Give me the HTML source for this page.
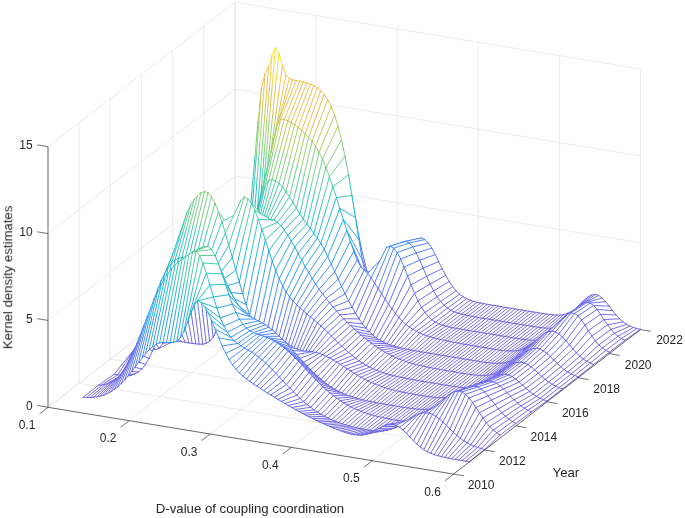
<!DOCTYPE html><html><head><meta charset="utf-8"><style>html,body{margin:0;padding:0;background:#fff;overflow:hidden}svg{display:block}</style></head><body><svg width="685" height="518" viewBox="0 0 685 518">
<rect width="685" height="518" fill="#fff"/>
<path d="M48 407.3L235 262.8M235 262.8L235 2.2M129.1 420.7L316.1 276.2M316.1 276.2L316.1 15.6M210.2 434L397.2 289.5M397.2 289.5L397.2 28.9M291.3 447.4L478.3 302.9M478.3 302.9L478.3 42.3M372.4 460.7L559.4 316.3M559.4 316.3L559.4 55.7M453.5 474.1L640.5 329.6M640.5 329.6L640.5 69M48 407.3L453.5 474.1M48 407.3L48 146.7M79.2 383.2L484.7 450M79.2 383.2L79.2 122.6M110.3 359.1L515.8 425.9M110.3 359.1L110.3 98.5M141.5 335.1L547 401.9M141.5 335.1L141.5 74.5M172.6 311L578.1 377.8M172.6 311L172.6 50.4M203.8 286.9L609.3 353.7M203.8 286.9L203.8 26.3M235 262.8L640.5 329.6M235 262.8L235 2.2M48 407.3L235 262.8M235 262.8L640.5 329.6M48 320.4L235 176M235 176L640.5 242.8M48 233.6L235 89.1M235 89.1L640.5 155.9M48 146.7L235 2.2M235 2.2L640.5 69" stroke="#e3e3e3" stroke-width="0.7" fill="none"/>
<g fill="#fff" stroke-width="0.9" stroke-linecap="round"><path d="M254.4 260.1L257.9 258.1L242.3 269.2L238.8 271.4Z"/><path d="M254.4 260.1L257.9 258.1" stroke="#685ee0"/><path d="M238.8 271.4L254.4 260.1" stroke="#695ee0"/><path d="M257.9 258.1L261.4 255.4L245.8 266L242.3 269.2Z"/><path d="M257.9 258.1L261.4 255.4" stroke="#675de3"/><path d="M242.3 269.2L257.9 258.1" stroke="#675de2"/><path d="M261.4 255.4L264.9 251.6L249.3 261.8L245.8 266Z"/><path d="M261.4 255.4L264.9 251.6" stroke="#655de5"/><path d="M245.8 266L261.4 255.4" stroke="#665de4"/><path d="M264.9 251.6L268.3 246.8L252.8 256.3L249.3 261.8Z"/><path d="M264.9 251.6L268.3 246.8" stroke="#635ce9"/><path d="M249.3 261.8L264.9 251.6" stroke="#645de7"/><path d="M268.3 246.8L271.8 240.6L256.2 249.4L252.8 256.3Z"/><path d="M268.3 246.8L271.8 240.6" stroke="#615ced"/><path d="M252.8 256.3L268.3 246.8" stroke="#625cec"/><path d="M271.8 240.6L275.3 233.2L259.7 241L256.2 249.4Z"/><path d="M271.8 240.6L275.3 233.2" stroke="#5b62f1"/><path d="M256.2 249.4L271.8 240.6" stroke="#5d60f0"/><path d="M275.3 233.2L278.8 224.4L263.2 231.1L259.7 241Z"/><path d="M275.3 233.2L278.8 224.4" stroke="#5469f5"/><path d="M259.7 241L275.3 233.2" stroke="#5667f4"/><path d="M278.8 224.4L282.2 214.4L266.7 219.8L263.2 231.1Z"/><path d="M278.8 224.4L282.2 214.4" stroke="#4b71fa"/><path d="M263.2 231.1L278.8 224.4" stroke="#4e6ff9"/><path d="M282.2 214.4L285.7 203.3L270.1 207.4L266.7 219.8Z"/><path d="M282.2 214.4L285.7 203.3" stroke="#3980f4"/><path d="M266.7 219.8L282.2 214.4" stroke="#3d7df5"/><path d="M285.7 203.3L289.2 191.5L273.6 194.1L270.1 207.4Z"/><path d="M285.7 203.3L289.2 191.5" stroke="#2690ee"/><path d="M270.1 207.4L285.7 203.3" stroke="#298def"/><path d="M289.2 191.5L292.7 179.3L277.1 180.4L273.6 194.1Z"/><path d="M289.2 191.5L292.7 179.3" stroke="#199ee3"/><path d="M273.6 194.1L289.2 191.5" stroke="#1b9ce4"/><path d="M292.7 179.3L296.2 167.2L280.6 166.8L277.1 180.4Z"/><path d="M292.7 179.3L296.2 167.2" stroke="#0eacd7"/><path d="M277.1 180.4L292.7 179.3" stroke="#0eabd8"/><path d="M296.2 167.2L299.6 155.9L284.1 154.1L280.6 166.8Z"/><path d="M296.2 167.2L299.6 155.9M280.6 166.8L296.2 167.2" stroke="#18b7c6"/><path d="M299.6 155.9L303.1 145.9L287.5 142.8L284.1 154.1Z"/><path d="M299.6 155.9L303.1 145.9" stroke="#24c0b6"/><path d="M284.1 154.1L299.6 155.9" stroke="#25c1b4"/><path d="M303.1 145.9L306.6 137.7L291 133.7L287.5 142.8Z"/><path d="M303.1 145.9L306.6 137.7" stroke="#38c5a4"/><path d="M287.5 142.8L303.1 145.9" stroke="#40c69e"/><path d="M306.6 137.7L310.1 131.9L294.5 127.1L291 133.7Z"/><path d="M306.6 137.7L310.1 131.9" stroke="#4bc895"/><path d="M291 133.7L306.6 137.7" stroke="#58ca8b"/><path d="M310.1 131.9L313.5 128.9L298 123.6L294.5 127.1Z"/><path d="M310.1 131.9L313.5 128.9" stroke="#58ca8b"/><path d="M294.5 127.1L310.1 131.9" stroke="#69cc7e"/><path d="M313.5 128.9L317 128.9L301.4 123.5L298 123.6Z"/><path d="M313.5 128.9L317 128.9" stroke="#5dcb87"/><path d="M298 123.6L313.5 128.9" stroke="#72cc78"/><path d="M317 128.9L320.5 133.7L304.9 127.8L301.4 123.5Z"/><path d="M317 128.9L320.5 133.7" stroke="#59ca8a"/><path d="M301.4 123.5L317 128.9" stroke="#74cb77"/><path d="M320.5 133.7L324 143.7L308.4 136.6L304.9 127.8Z"/><path d="M320.5 133.7L324 143.7" stroke="#47c798"/><path d="M304.9 127.8L320.5 133.7" stroke="#6acc7d"/><path d="M324 143.7L327.5 157.6L311.9 149.2L308.4 136.6Z"/><path d="M324 143.7L327.5 157.6" stroke="#2ac2af"/><path d="M308.4 136.6L324 143.7" stroke="#54c98e"/><path d="M327.5 157.6L330.9 174.3L315.4 164.6L311.9 149.2Z"/><path d="M327.5 157.6L330.9 174.3" stroke="#19b7c5"/><path d="M311.9 149.2L327.5 157.6" stroke="#33c4a8"/><path d="M330.9 174.3L334.4 192.2L318.8 181.7L315.4 164.6Z"/><path d="M330.9 174.3L334.4 192.2" stroke="#11a8db"/><path d="M315.4 164.6L330.9 174.3" stroke="#1cb9c1"/><path d="M334.4 192.2L337.9 209.9L322.3 199.4L318.8 181.7Z"/><path d="M334.4 192.2L337.9 209.9" stroke="#2195ea"/><path d="M318.8 181.7L334.4 192.2" stroke="#0fabd8"/><path d="M337.9 209.9L341.4 226.4L325.8 216.7L322.3 199.4Z"/><path d="M337.9 209.9L341.4 226.4" stroke="#3980f4"/><path d="M322.3 199.4L337.9 209.9" stroke="#1e98e8"/><path d="M341.4 226.4L344.8 240.7L329.3 232.7L325.8 216.7Z"/><path d="M341.4 226.4L344.8 240.7" stroke="#4f6ef8"/><path d="M325.8 216.7L341.4 226.4" stroke="#3584f2"/><path d="M344.8 240.7L348.3 252.7L332.7 247L329.3 232.7Z"/><path d="M344.8 240.7L348.3 252.7" stroke="#5963f2"/><path d="M329.3 232.7L344.8 240.7" stroke="#4c70fa"/><path d="M348.3 252.7L351.8 262.2L336.2 259.2L332.7 247Z"/><path d="M348.3 252.7L351.8 262.2" stroke="#615ced"/><path d="M332.7 247L348.3 252.7" stroke="#5766f4"/><path d="M351.8 262.2L355.3 269.5L339.7 269.3L336.2 259.2Z"/><path d="M351.8 262.2L355.3 269.5" stroke="#645de7"/><path d="M336.2 259.2L351.8 262.2" stroke="#5f5eee"/><path d="M355.3 269.5L358.8 274.8L343.2 277.3L339.7 269.3Z"/><path d="M355.3 269.5L358.8 274.8" stroke="#675de3"/><path d="M339.7 269.3L355.3 269.5" stroke="#635ce9"/><path d="M358.8 274.8L362.2 278.6L346.7 283.5L343.2 277.3Z"/><path d="M358.8 274.8L362.2 278.6" stroke="#685ee0"/><path d="M343.2 277.3L358.8 274.8" stroke="#665de5"/><path d="M362.2 278.6L365.7 281.3L350.1 288.2L346.7 283.5Z"/><path d="M362.2 278.6L365.7 281.3" stroke="#695ede"/><path d="M346.7 283.5L362.2 278.6" stroke="#685de2"/><path d="M365.7 281.3L369.2 283.2L353.6 291.6L350.1 288.2Z"/><path d="M365.7 281.3L369.2 283.2" stroke="#6a5edd"/><path d="M350.1 288.2L365.7 281.3" stroke="#695edf"/><path d="M369.2 283.2L372.7 284.5L357.1 294.2L353.6 291.6Z"/><path d="M369.2 283.2L372.7 284.5" stroke="#6b5edc"/><path d="M353.6 291.6L369.2 283.2" stroke="#6a5ede"/><path d="M372.7 284.5L376.1 285.6L360.6 296.1L357.1 294.2Z"/><path d="M372.7 284.5L376.1 285.6" stroke="#6b5edc"/><path d="M357.1 294.2L372.7 284.5" stroke="#6a5edd"/><path d="M376.1 285.6L379.6 286.4L364 297.5L360.6 296.1Z"/><path d="M376.1 285.6L379.6 286.4M360.6 296.1L376.1 285.6" stroke="#6b5edc"/><path d="M379.6 286.4L383.1 287.1L367.5 298.6L364 297.5Z"/><path d="M379.6 286.4L383.1 287.1" stroke="#6b5edb"/><path d="M364 297.5L379.6 286.4" stroke="#6b5edc"/><path d="M383.1 287.1L386.6 287.7L371 299.4L367.5 298.6Z"/><path d="M383.1 287.1L386.6 287.7" stroke="#6b5edb"/><path d="M367.5 298.6L383.1 287.1" stroke="#6b5edc"/><path d="M386.6 287.7L390.1 288.3L374.5 300.2L371 299.4Z"/><path d="M386.6 287.7L390.1 288.3M371 299.4L386.6 287.7" stroke="#6b5edb"/><path d="M390.1 288.3L393.5 288.9L378 300.9L374.5 300.2Z"/><path d="M390.1 288.3L393.5 288.9M374.5 300.2L390.1 288.3" stroke="#6b5edb"/><path d="M393.5 288.9L397 289.5L381.4 301.5L378 300.9Z"/><path d="M393.5 288.9L397 289.5M378 300.9L393.5 288.9" stroke="#6b5edb"/><path d="M397 289.5L400.5 289.7L384.9 301.7L381.4 301.5Z"/><path d="M397 289.5L400.5 289.7M381.4 301.5L397 289.5" stroke="#6b5edb"/><path d="M400.5 289.7L404 287.7L388.4 299.2L384.9 301.7Z"/><path d="M400.5 289.7L404 287.7" stroke="#6a5edc"/><path d="M384.9 301.7L400.5 289.7" stroke="#6b5edc"/><path d="M404 287.7L407.4 278.9L391.9 289L388.4 299.2Z"/><path d="M404 287.7L407.4 278.9" stroke="#685ee1"/><path d="M388.4 299.2L404 287.7" stroke="#6a5ede"/><path d="M407.4 278.9L410.9 262.5L395.3 269.9L391.9 289Z"/><path d="M407.4 278.9L410.9 262.5" stroke="#635cea"/><path d="M391.9 289L407.4 278.9" stroke="#665de5"/><path d="M410.9 262.5L414.4 246.5L398.8 251.4L395.3 269.9Z"/><path d="M410.9 262.5L414.4 246.5" stroke="#5766f3"/><path d="M395.3 269.9L410.9 262.5" stroke="#5c61f0"/><path d="M414.4 246.5L417.9 238.8L402.3 242.3L398.8 251.4Z"/><path d="M414.4 246.5L417.9 238.8" stroke="#4d70fa"/><path d="M398.8 251.4L414.4 246.5" stroke="#4d70f9"/><path d="M417.9 238.8L421.4 237.9L405.8 241.3L402.3 242.3Z"/><path d="M417.9 238.8L421.4 237.9" stroke="#4576f8"/><path d="M402.3 242.3L417.9 238.8" stroke="#3f7bf6"/><path d="M421.4 237.9L424.8 239.5L409.3 243L405.8 241.3Z"/><path d="M421.4 237.9L424.8 239.5" stroke="#4577f7"/><path d="M405.8 241.3L421.4 237.9" stroke="#3d7df5"/><path d="M424.8 239.5L428.3 243L412.7 247L409.3 243Z"/><path d="M424.8 239.5L428.3 243" stroke="#4874f8"/><path d="M409.3 243L424.8 239.5" stroke="#3e7cf5"/><path d="M428.3 243L431.8 248.2L416.2 252.9L412.7 247Z"/><path d="M428.3 243L431.8 248.2" stroke="#4d70f9"/><path d="M412.7 247L428.3 243" stroke="#4477f7"/><path d="M431.8 248.2L435.3 254.6L419.7 260.2L416.2 252.9Z"/><path d="M431.8 248.2L435.3 254.6" stroke="#516bf7"/><path d="M416.2 252.9L431.8 248.2" stroke="#4c71fa"/><path d="M435.3 254.6L438.7 261.6L423.2 268.2L419.7 260.2Z"/><path d="M435.3 254.6L438.7 261.6" stroke="#5666f4"/><path d="M419.7 260.2L435.3 254.6" stroke="#516cf7"/><path d="M438.7 261.6L442.2 268.7L426.6 276.3L423.2 268.2Z"/><path d="M438.7 261.6L442.2 268.7" stroke="#5c61f0"/><path d="M423.2 268.2L438.7 261.6" stroke="#5766f3"/><path d="M442.2 268.7L445.7 275.4L430.1 284L426.6 276.3Z"/><path d="M442.2 268.7L445.7 275.4" stroke="#615ced"/><path d="M426.6 276.3L442.2 268.7" stroke="#5d60f0"/><path d="M445.7 275.4L449.2 281.4L433.6 290.9L430.1 284Z"/><path d="M445.7 275.4L449.2 281.4" stroke="#635ce9"/><path d="M430.1 284L445.7 275.4" stroke="#615cec"/><path d="M449.2 281.4L452.7 286.6L437.1 296.7L433.6 290.9Z"/><path d="M449.2 281.4L452.7 286.6" stroke="#655de6"/><path d="M433.6 290.9L449.2 281.4" stroke="#645de8"/><path d="M452.7 286.6L456.1 290.8L440.6 301.5L437.1 296.7Z"/><path d="M452.7 286.6L456.1 290.8" stroke="#675de3"/><path d="M437.1 296.7L452.7 286.6" stroke="#665de5"/><path d="M456.1 290.8L459.6 294.2L444 305.3L440.6 301.5Z"/><path d="M456.1 290.8L459.6 294.2" stroke="#685ee0"/><path d="M440.6 301.5L456.1 290.8" stroke="#675de2"/><path d="M459.6 294.2L463.1 296.7L447.5 308.2L444 305.3Z"/><path d="M459.6 294.2L463.1 296.7" stroke="#695edf"/><path d="M444 305.3L459.6 294.2" stroke="#695ee0"/><path d="M463.1 296.7L466.6 298.7L451 310.4L447.5 308.2Z"/><path d="M463.1 296.7L466.6 298.7" stroke="#6a5edd"/><path d="M447.5 308.2L463.1 296.7" stroke="#695ede"/><path d="M466.6 298.7L470 300.2L454.5 312L451 310.4Z"/><path d="M466.6 298.7L470 300.2M451 310.4L466.6 298.7" stroke="#6a5edd"/><path d="M470 300.2L473.5 301.3L457.9 313.2L454.5 312Z"/><path d="M470 300.2L473.5 301.3" stroke="#6b5edc"/><path d="M454.5 312L470 300.2" stroke="#6a5edc"/><path d="M473.5 301.3L477 302.3L461.4 314.2L457.9 313.2Z"/><path d="M473.5 301.3L477 302.3M457.9 313.2L473.5 301.3" stroke="#6b5edc"/><path d="M477 302.3L480.5 303L464.9 315L461.4 314.2Z"/><path d="M477 302.3L480.5 303M461.4 314.2L477 302.3" stroke="#6b5edc"/><path d="M480.5 303L484 303.7L468.4 315.7L464.9 315Z"/><path d="M480.5 303L484 303.7M464.9 315L480.5 303" stroke="#6b5edb"/><path d="M484 303.7L487.4 304.4L471.9 316.4L468.4 315.7Z"/><path d="M484 303.7L487.4 304.4M468.4 315.7L484 303.7" stroke="#6b5edb"/><path d="M487.4 304.4L490.9 305L475.3 317L471.9 316.4Z"/><path d="M487.4 304.4L490.9 305M471.9 316.4L487.4 304.4" stroke="#6b5edb"/><path d="M490.9 305L494.4 305.5L478.8 317.6L475.3 317Z"/><path d="M490.9 305L494.4 305.5M475.3 317L490.9 305" stroke="#6b5edb"/><path d="M494.4 305.5L497.9 306.1L482.3 318.2L478.8 317.6Z"/><path d="M494.4 305.5L497.9 306.1M478.8 317.6L494.4 305.5" stroke="#6b5edb"/><path d="M497.9 306.1L501.3 306.7L485.8 318.7L482.3 318.2Z"/><path d="M497.9 306.1L501.3 306.7M482.3 318.2L497.9 306.1" stroke="#6b5edb"/><path d="M501.3 306.7L504.8 307.3L489.2 319.3L485.8 318.7Z"/><path d="M501.3 306.7L504.8 307.3M485.8 318.7L501.3 306.7" stroke="#6b5edb"/><path d="M504.8 307.3L508.3 307.8L492.7 319.9L489.2 319.3Z"/><path d="M504.8 307.3L508.3 307.8M489.2 319.3L504.8 307.3" stroke="#6b5edb"/><path d="M508.3 307.8L511.8 308.4L496.2 320.5L492.7 319.9Z"/><path d="M508.3 307.8L511.8 308.4M492.7 319.9L508.3 307.8" stroke="#6b5edb"/><path d="M511.8 308.4L515.3 309L499.7 321L496.2 320.5Z"/><path d="M511.8 308.4L515.3 309M496.2 320.5L511.8 308.4" stroke="#6b5edb"/><path d="M515.3 309L518.7 309.6L503.2 321.6L499.7 321Z"/><path d="M515.3 309L518.7 309.6M499.7 321L515.3 309" stroke="#6b5edb"/><path d="M518.7 309.6L522.2 310.1L506.6 322.2L503.2 321.6Z"/><path d="M518.7 309.6L522.2 310.1M503.2 321.6L518.7 309.6" stroke="#6b5edb"/><path d="M522.2 310.1L525.7 310.7L510.1 322.8L506.6 322.2Z"/><path d="M522.2 310.1L525.7 310.7M506.6 322.2L522.2 310.1" stroke="#6b5edb"/><path d="M525.7 310.7L529.2 311.3L513.6 323.3L510.1 322.8Z"/><path d="M525.7 310.7L529.2 311.3M510.1 322.8L525.7 310.7" stroke="#6b5edb"/><path d="M529.2 311.3L532.6 311.9L517.1 323.9L513.6 323.3Z"/><path d="M529.2 311.3L532.6 311.9M513.6 323.3L529.2 311.3" stroke="#6b5edb"/><path d="M532.6 311.9L536.1 312.4L520.5 324.5L517.1 323.9Z"/><path d="M532.6 311.9L536.1 312.4M517.1 323.9L532.6 311.9" stroke="#6b5edb"/><path d="M536.1 312.4L539.6 313L524 325L520.5 324.5Z"/><path d="M536.1 312.4L539.6 313M520.5 324.5L536.1 312.4" stroke="#6b5edb"/><path d="M539.6 313L543.1 313.5L527.5 325.6L524 325Z"/><path d="M539.6 313L543.1 313.5M524 325L539.6 313" stroke="#6b5edb"/><path d="M543.1 313.5L546.6 314.1L531 326.2L527.5 325.6Z"/><path d="M543.1 313.5L546.6 314.1M527.5 325.6L543.1 313.5" stroke="#6b5edb"/><path d="M546.6 314.1L550 314.5L534.5 326.7L531 326.2Z"/><path d="M546.6 314.1L550 314.5M531 326.2L546.6 314.1" stroke="#6b5edb"/><path d="M550 314.5L553.5 314.9L537.9 327.3L534.5 326.7Z"/><path d="M550 314.5L553.5 314.9" stroke="#6b5edc"/><path d="M534.5 326.7L550 314.5" stroke="#6b5edb"/><path d="M553.5 314.9L557 315.1L541.4 327.7L537.9 327.3Z"/><path d="M553.5 314.9L557 315.1" stroke="#6b5edc"/><path d="M537.9 327.3L553.5 314.9" stroke="#6b5edb"/><path d="M557 315.1L560.5 315L544.9 328.1L541.4 327.7Z"/><path d="M557 315.1L560.5 315M541.4 327.7L557 315.1" stroke="#6b5edc"/><path d="M560.5 315L563.9 314.5L548.4 328.3L544.9 328.1Z"/><path d="M560.5 315L563.9 314.5" stroke="#6a5edd"/><path d="M544.9 328.1L560.5 315" stroke="#6b5edc"/><path d="M563.9 314.5L567.4 313.4L551.8 328.2L548.4 328.3Z"/><path d="M563.9 314.5L567.4 313.4" stroke="#6a5ede"/><path d="M548.4 328.3L563.9 314.5" stroke="#6a5edc"/><path d="M567.4 313.4L570.9 311.7L555.3 327.7L551.8 328.2Z"/><path d="M567.4 313.4L570.9 311.7" stroke="#695edf"/><path d="M551.8 328.2L567.4 313.4" stroke="#6a5edd"/><path d="M570.9 311.7L574.4 309.3L558.8 326.5L555.3 327.7Z"/><path d="M570.9 311.7L574.4 309.3" stroke="#685ee1"/><path d="M555.3 327.7L570.9 311.7" stroke="#695ede"/><path d="M574.4 309.3L577.9 306.3L562.3 324.7L558.8 326.5Z"/><path d="M574.4 309.3L577.9 306.3" stroke="#675de3"/><path d="M558.8 326.5L574.4 309.3" stroke="#685ee0"/><path d="M577.9 306.3L581.3 302.9L565.8 322L562.3 324.7Z"/><path d="M577.9 306.3L581.3 302.9" stroke="#655de6"/><path d="M562.3 324.7L577.9 306.3" stroke="#675de2"/><path d="M581.3 302.9L584.8 299.6L569.2 318.5L565.8 322Z"/><path d="M581.3 302.9L584.8 299.6" stroke="#635ce9"/><path d="M565.8 322L581.3 302.9" stroke="#665de5"/><path d="M584.8 299.6L588.3 296.7L572.7 314.5L569.2 318.5Z"/><path d="M584.8 299.6L588.3 296.7" stroke="#625ceb"/><path d="M569.2 318.5L584.8 299.6" stroke="#645de8"/><path d="M588.3 296.7L591.8 294.9L576.2 310.4L572.7 314.5Z"/><path d="M588.3 296.7L591.8 294.9" stroke="#615ced"/><path d="M572.7 314.5L588.3 296.7" stroke="#625ceb"/><path d="M591.8 294.9L595.2 294.4L579.7 306.6L576.2 310.4Z"/><path d="M591.8 294.9L595.2 294.4" stroke="#5f5eee"/><path d="M576.2 310.4L591.8 294.9" stroke="#615ced"/><path d="M595.2 294.4L598.7 295.5L583.1 303.8L579.7 306.6Z"/><path d="M595.2 294.4L598.7 295.5M579.7 306.6L595.2 294.4" stroke="#5f5eee"/><path d="M598.7 295.5L602.2 298L586.6 302.6L583.1 303.8Z"/><path d="M598.7 295.5L602.2 298" stroke="#605dee"/><path d="M583.1 303.8L598.7 295.5" stroke="#5e5fef"/><path d="M602.2 298L605.7 301.7L590.1 303.1L586.6 302.6Z"/><path d="M602.2 298L605.7 301.7" stroke="#615cec"/><path d="M586.6 302.6L602.2 298" stroke="#5e5fef"/><path d="M605.7 301.7L609.2 306.1L593.6 305.5L590.1 303.1Z"/><path d="M605.7 301.7L609.2 306.1" stroke="#635cea"/><path d="M590.1 303.1L605.7 301.7" stroke="#5f5eee"/><path d="M609.2 306.1L612.6 310.7L597.1 309.4L593.6 305.5Z"/><path d="M609.2 306.1L612.6 310.7" stroke="#645de7"/><path d="M593.6 305.5L609.2 306.1" stroke="#615ced"/><path d="M612.6 310.7L616.1 315L600.5 314.3L597.1 309.4Z"/><path d="M612.6 310.7L616.1 315" stroke="#665de4"/><path d="M597.1 309.4L612.6 310.7" stroke="#635cea"/><path d="M616.1 315L619.6 318.8L604 319.6L600.5 314.3Z"/><path d="M616.1 315L619.6 318.8" stroke="#675de2"/><path d="M600.5 314.3L616.1 315" stroke="#645de7"/><path d="M619.6 318.8L623.1 321.9L607.5 324.8L604 319.6Z"/><path d="M619.6 318.8L623.1 321.9" stroke="#695ee0"/><path d="M604 319.6L619.6 318.8" stroke="#665de5"/><path d="M623.1 321.9L626.5 324.3L611 329.4L607.5 324.8Z"/><path d="M623.1 321.9L626.5 324.3" stroke="#695ede"/><path d="M607.5 324.8L623.1 321.9" stroke="#675de2"/><path d="M626.5 324.3L630 326.1L614.4 333.2L611 329.4Z"/><path d="M626.5 324.3L630 326.1" stroke="#6a5edd"/><path d="M611 329.4L626.5 324.3" stroke="#685ee0"/><path d="M630 326.1L633.5 327.5L617.9 336.3L614.4 333.2Z"/><path d="M630 326.1L633.5 327.5" stroke="#6b5edc"/><path d="M614.4 333.2L630 326.1" stroke="#695ede"/><path d="M633.5 327.5L637 328.5L621.4 338.5L617.9 336.3Z"/><path d="M633.5 327.5L637 328.5" stroke="#6b5edc"/><path d="M617.9 336.3L633.5 327.5" stroke="#6a5edd"/><path d="M637 328.5L640.5 329.4L624.9 340.2L621.4 338.5Z"/><path d="M637 328.5L640.5 329.4M624.9 340.2L640.5 329.4" stroke="#6b5edc"/><path d="M621.4 338.5L637 328.5" stroke="#6a5edc"/><path d="M238.8 271.4L242.3 269.2L226.7 290.7L223.3 290.1Z"/><path d="M238.8 271.4L242.3 269.2" stroke="#685ee1"/><path d="M223.3 290.1L238.8 271.4" stroke="#6a5ede"/><path d="M242.3 269.2L245.8 266L230.2 291.3L226.7 290.7Z"/><path d="M242.3 269.2L245.8 266" stroke="#665de3"/><path d="M226.7 290.7L242.3 269.2" stroke="#695edf"/><path d="M245.8 266L249.3 261.8L233.7 291.8L230.2 291.3Z"/><path d="M245.8 266L249.3 261.8" stroke="#655de6"/><path d="M230.2 291.3L245.8 266" stroke="#685ee0"/><path d="M249.3 261.8L252.8 256.3L237.2 292.3L233.7 291.8Z"/><path d="M249.3 261.8L252.8 256.3" stroke="#635cea"/><path d="M233.7 291.8L249.3 261.8" stroke="#675de2"/><path d="M252.8 256.3L256.2 249.4L240.7 292L237.2 292.3Z"/><path d="M252.8 256.3L256.2 249.4" stroke="#5f5eef"/><path d="M237.2 292.3L252.8 256.3" stroke="#665de4"/><path d="M256.2 249.4L259.7 241L244.1 287.5L240.7 292Z"/><path d="M256.2 249.4L259.7 241" stroke="#5865f3"/><path d="M240.7 292L256.2 249.4" stroke="#645de7"/><path d="M259.7 241L263.2 231.1L247.6 270.2L244.1 287.5Z"/><path d="M259.7 241L263.2 231.1" stroke="#506df8"/><path d="M244.1 287.5L259.7 241" stroke="#625cec"/><path d="M263.2 231.1L266.7 219.8L251.1 231.6L247.6 270.2Z"/><path d="M263.2 231.1L266.7 219.8" stroke="#4279f6"/><path d="M247.6 270.2L263.2 231.1" stroke="#5766f3"/><path d="M266.7 219.8L270.1 207.4L254.6 175.9L251.1 231.6Z"/><path d="M266.7 219.8L270.1 207.4" stroke="#2d89f0"/><path d="M251.1 231.6L266.7 219.8" stroke="#3881f3"/><path d="M270.1 207.4L273.6 194.1L258 122.2L254.6 175.9Z"/><path d="M270.1 207.4L273.6 194.1" stroke="#1d9ae6"/><path d="M254.6 175.9L262.4 191.6" stroke="#15b4cb"/><path d="M262.4 191.6L270.1 207.4" stroke="#199ee3"/><path d="M273.6 194.1L277.1 180.4L261.5 88L258 122.2Z"/><path d="M273.6 194.1L277.1 180.4" stroke="#10a9d9"/><path d="M258 122.2L263.2 146.2" stroke="#7dcb72"/><path d="M263.2 146.2L268.4 170.1" stroke="#36c4a6"/><path d="M268.4 170.1L273.6 194.1" stroke="#10b0d1"/><path d="M277.1 180.4L280.6 166.8L265 74.1L261.5 88Z"/><path d="M277.1 180.4L280.6 166.8" stroke="#18b6c7"/><path d="M261.5 88L265.4 111.1" stroke="#d4bf45"/><path d="M265.4 111.1L269.3 134.2" stroke="#95ca63"/><path d="M269.3 134.2L273.2 157.3" stroke="#53c98f"/><path d="M273.2 157.3L277.1 180.4" stroke="#1ebbbf"/><path d="M280.6 166.8L284.1 154.1L268.5 66.9L265 74.1Z"/><path d="M280.6 166.8L284.1 154.1" stroke="#25c1b4"/><path d="M265 74.1L268.9 97.3" stroke="#edbc3f"/><path d="M268.9 97.3L272.8 120.5" stroke="#b8c551"/><path d="M272.8 120.5L276.7 143.6" stroke="#77cb75"/><path d="M276.7 143.6L280.6 166.8" stroke="#35c4a7"/><path d="M284.1 154.1L287.5 142.8L272 55.5L268.5 66.9Z"/><path d="M284.1 154.1L287.5 142.8" stroke="#44c79a"/><path d="M268.5 66.9L273.7 96" stroke="#f3bb3e"/><path d="M273.7 96L278.9 125" stroke="#b2c754"/><path d="M278.9 125L284.1 154.1" stroke="#5fcb85"/><path d="M287.5 142.8L291 133.7L275.4 47.7L272 55.5Z"/><path d="M287.5 142.8L291 133.7" stroke="#60cb85"/><path d="M272 55.5L277.1 84.6" stroke="#fcc535"/><path d="M277.1 84.6L282.3 113.7" stroke="#cec148"/><path d="M282.3 113.7L287.5 142.8" stroke="#7dcb71"/><path d="M291 133.7L294.5 127.1L278.9 53L275.4 47.7Z"/><path d="M291 133.7L294.5 127.1" stroke="#75cb76"/><path d="M275.4 47.7L280.6 76.3" stroke="#fbd727"/><path d="M280.6 76.3L285.8 105" stroke="#e2bd40"/><path d="M285.8 105L291 133.7" stroke="#96ca63"/><path d="M294.5 127.1L298 123.6L282.4 65.8L278.9 53Z"/><path d="M294.5 127.1L298 123.6" stroke="#83cb6e"/><path d="M278.9 53L284.1 77.7" stroke="#fcd22b"/><path d="M284.1 77.7L289.3 102.4" stroke="#e4bc3f"/><path d="M289.3 102.4L294.5 127.1" stroke="#a3ca5b"/><path d="M298 123.6L301.4 123.5L285.9 75L282.4 65.8Z"/><path d="M298 123.6L301.4 123.5" stroke="#89cb6a"/><path d="M282.4 65.8L287.6 85.1" stroke="#fcbd3b"/><path d="M287.6 85.1L292.8 104.3" stroke="#dcbe41"/><path d="M292.8 104.3L298 123.6" stroke="#a6c959"/><path d="M301.4 123.5L304.9 127.8L289.3 78.6L285.9 75Z"/><path d="M301.4 123.5L304.9 127.8" stroke="#85cb6d"/><path d="M285.9 75L293.7 99.3" stroke="#eebb3f"/><path d="M293.7 99.3L301.4 123.5" stroke="#b0c755"/><path d="M304.9 127.8L308.4 136.6L292.8 79.9L289.3 78.6Z"/><path d="M304.9 127.8L308.4 136.6" stroke="#76cb76"/><path d="M289.3 78.6L297.1 103.2" stroke="#e9bc3f"/><path d="M297.1 103.2L304.9 127.8" stroke="#a7c959"/><path d="M308.4 136.6L311.9 149.2L296.3 80.6L292.8 79.9Z"/><path d="M308.4 136.6L311.9 149.2" stroke="#5dca87"/><path d="M292.8 79.9L300.6 108.2" stroke="#e6bc3f"/><path d="M300.6 108.2L308.4 136.6" stroke="#98ca62"/><path d="M311.9 149.2L315.4 164.6L299.8 81.2L296.3 80.6Z"/><path d="M311.9 149.2L315.4 164.6" stroke="#3bc5a2"/><path d="M296.3 80.6L301.5 103.4" stroke="#ebbc3f"/><path d="M301.5 103.4L306.7 126.3" stroke="#b3c754"/><path d="M306.7 126.3L311.9 149.2" stroke="#70cc7a"/><path d="M315.4 164.6L318.8 181.7L303.3 82L299.8 81.2Z"/><path d="M315.4 164.6L318.8 181.7" stroke="#1ebcbd"/><path d="M299.8 81.2L305 109" stroke="#e7bc3f"/><path d="M305 109L310.2 136.8" stroke="#a1ca5c"/><path d="M310.2 136.8L315.4 164.6" stroke="#50c891"/><path d="M318.8 181.7L322.3 199.4L306.7 83L303.3 82Z"/><path d="M318.8 181.7L322.3 199.4" stroke="#0daed5"/><path d="M303.3 82L307.1 106.9" stroke="#e9bc3f"/><path d="M307.1 106.9L311 131.9" stroke="#aec856"/><path d="M311 131.9L314.9 156.8" stroke="#68cc7e"/><path d="M314.9 156.8L318.8 181.7" stroke="#24c0b5"/><path d="M322.3 199.4L325.8 216.7L310.2 84.2L306.7 83Z"/><path d="M322.3 199.4L325.8 216.7" stroke="#1c9be5"/><path d="M306.7 83L310.6 112.1" stroke="#e6bc3f"/><path d="M310.6 112.1L314.5 141.2" stroke="#9eca5e"/><path d="M314.5 141.2L318.4 170.3" stroke="#4dc894"/><path d="M318.4 170.3L322.3 199.4" stroke="#15b4cb"/><path d="M325.8 216.7L329.3 232.7L313.7 85.7L310.2 84.2Z"/><path d="M325.8 216.7L329.3 232.7" stroke="#3088f1"/><path d="M310.2 84.2L313.3 110.7" stroke="#e7bc3f"/><path d="M313.3 110.7L316.4 137.2" stroke="#a8c958"/><path d="M316.4 137.2L319.6 163.7" stroke="#5fcb85"/><path d="M319.6 163.7L322.7 190.2" stroke="#20bdbc"/><path d="M322.7 190.2L325.8 216.7" stroke="#16a2e0"/><path d="M329.3 232.7L332.7 247L317.2 87.8L313.7 85.7Z"/><path d="M329.3 232.7L332.7 247" stroke="#4774f8"/><path d="M313.7 85.7L316.8 115.1" stroke="#e4bc3f"/><path d="M316.8 115.1L319.9 144.5" stroke="#9bca60"/><path d="M319.9 144.5L323 173.9" stroke="#4ac896"/><path d="M323 173.9L326.2 203.3" stroke="#14b4cb"/><path d="M326.2 203.3L329.3 232.7" stroke="#2392ec"/><path d="M332.7 247L336.2 259.2L320.6 90.7L317.2 87.8Z"/><path d="M332.7 247L336.2 259.2" stroke="#5468f5"/><path d="M317.2 87.8L320.3 119.7" stroke="#e0bd40"/><path d="M320.3 119.7L323.4 151.5" stroke="#8eca67"/><path d="M323.4 151.5L326.5 183.3" stroke="#37c4a5"/><path d="M326.5 183.3L329.6 215.2" stroke="#0fabd9"/><path d="M329.6 215.2L332.7 247" stroke="#3782f3"/><path d="M336.2 259.2L339.7 269.3L324.1 94.5L320.6 90.7Z"/><path d="M336.2 259.2L339.7 269.3" stroke="#5d60f0"/><path d="M320.6 90.7L323.2 118.8" stroke="#dfbd40"/><path d="M323.2 118.8L325.8 146.9" stroke="#98ca61"/><path d="M325.8 146.9L328.4 174.9" stroke="#4cc895"/><path d="M328.4 174.9L331 203" stroke="#17b5c8"/><path d="M331 203L333.6 231.1" stroke="#1f97e9"/><path d="M333.6 231.1L336.2 259.2" stroke="#4d70fa"/><path d="M339.7 269.3L343.2 277.3L327.6 99.6L324.1 94.5Z"/><path d="M339.7 269.3L343.2 277.3" stroke="#625ceb"/><path d="M324.1 94.5L326.7 123.6" stroke="#d7bf44"/><path d="M326.7 123.6L329.3 152.8" stroke="#8cca69"/><path d="M329.3 152.8L331.9 181.9" stroke="#3dc5a0"/><path d="M331.9 181.9L334.5 211" stroke="#10b0d2"/><path d="M334.5 211L337.1 240.1" stroke="#298def"/><path d="M337.1 240.1L339.7 269.3" stroke="#5469f5"/><path d="M343.2 277.3L346.7 283.5L331.1 106.4L327.6 99.6Z"/><path d="M343.2 277.3L346.7 283.5" stroke="#655de6"/><path d="M327.6 99.6L330.2 129.2" stroke="#ccc149"/><path d="M330.2 129.2L332.8 158.8" stroke="#7ecb71"/><path d="M332.8 158.8L335.4 188.4" stroke="#2ec3ac"/><path d="M335.4 188.4L338 218.1" stroke="#10aad9"/><path d="M338 218.1L340.6 247.7" stroke="#3484f2"/><path d="M340.6 247.7L343.2 277.3" stroke="#5a63f2"/><path d="M346.7 283.5L350.1 288.2L334.6 115.1L331.1 106.4Z"/><path d="M346.7 283.5L350.1 288.2" stroke="#675de3"/><path d="M331.1 106.4L333.7 135.9" stroke="#bdc44f"/><path d="M333.7 135.9L336.3 165.4" stroke="#6fcc7a"/><path d="M336.3 165.4L338.9 194.9" stroke="#23c0b7"/><path d="M338.9 194.9L341.5 224.4" stroke="#15a3df"/><path d="M341.5 224.4L344.1 254" stroke="#3d7df5"/><path d="M344.1 254L346.7 283.5" stroke="#5e5eef"/><path d="M350.1 288.2L353.6 291.6L338 126.2L334.6 115.1Z"/><path d="M350.1 288.2L353.6 291.6" stroke="#685ee0"/><path d="M334.6 115.1L337.2 143.9" stroke="#abc857"/><path d="M337.2 143.9L339.7 172.8" stroke="#5dcb87"/><path d="M339.7 172.8L342.3 201.6" stroke="#1dbac0"/><path d="M342.3 201.6L344.9 230.5" stroke="#1b9de4"/><path d="M344.9 230.5L347.5 259.3" stroke="#4676f8"/><path d="M347.5 259.3L350.1 288.2" stroke="#615cec"/><path d="M353.6 291.6L357.1 294.2L341.5 139.8L338 126.2Z"/><path d="M353.6 291.6L357.1 294.2" stroke="#695ede"/><path d="M338 126.2L340.6 153.7" stroke="#92ca65"/><path d="M340.6 153.7L343.2 181.3" stroke="#47c798"/><path d="M343.2 181.3L345.8 208.9" stroke="#15b4ca"/><path d="M345.8 208.9L348.4 236.5" stroke="#2096ea"/><path d="M348.4 236.5L351 264.1" stroke="#4d70fa"/><path d="M351 264.1L353.6 291.6" stroke="#635cea"/><path d="M357.1 294.2L360.6 296.1L345 156.1L341.5 139.8Z"/><path d="M357.1 294.2L360.6 296.1" stroke="#6a5edd"/><path d="M341.5 139.8L344.6 170.7" stroke="#6ccc7c"/><path d="M344.6 170.7L347.7 201.5" stroke="#21bdbb"/><path d="M347.7 201.5L350.9 232.4" stroke="#199ee3"/><path d="M350.9 232.4L354 263.3" stroke="#4774f8"/><path d="M354 263.3L357.1 294.2" stroke="#635cea"/><path d="M360.6 296.1L364 297.5L348.5 174.8L345 156.1Z"/><path d="M360.6 296.1L364 297.5" stroke="#6a5edc"/><path d="M345 156.1L348.1 184.1" stroke="#48c797"/><path d="M348.1 184.1L351.2 212.1" stroke="#15b4cb"/><path d="M351.2 212.1L354.3 240.1" stroke="#2194eb"/><path d="M354.3 240.1L357.5 268.1" stroke="#4f6ef9"/><path d="M357.5 268.1L360.6 296.1" stroke="#645de8"/><path d="M364 297.5L367.5 298.6L351.9 195.6L348.5 174.8Z"/><path d="M364 297.5L367.5 298.6" stroke="#6b5edc"/><path d="M348.5 174.8L352.4 205.5" stroke="#20bdbc"/><path d="M352.4 205.5L356.3 236.2" stroke="#1a9de4"/><path d="M356.3 236.2L360.1 266.8" stroke="#4a72f9"/><path d="M360.1 266.8L364 297.5" stroke="#645de8"/><path d="M367.5 298.6L371 299.4L355.4 217.5L351.9 195.6Z"/><path d="M367.5 298.6L371 299.4" stroke="#6b5edc"/><path d="M351.9 195.6L355.8 221.3" stroke="#0eaed5"/><path d="M355.8 221.3L359.7 247.1" stroke="#288eef"/><path d="M359.7 247.1L363.6 272.8" stroke="#526bf7"/><path d="M363.6 272.8L367.5 298.6" stroke="#655de6"/><path d="M371 299.4L374.5 300.2L358.9 239.4L355.4 217.5Z"/><path d="M371 299.4L374.5 300.2" stroke="#6b5edc"/><path d="M355.4 217.5L360.6 244.8" stroke="#2195ea"/><path d="M360.6 244.8L365.8 272.1" stroke="#4f6ef8"/><path d="M365.8 272.1L371 299.4" stroke="#655de7"/><path d="M374.5 300.2L378 300.9L362.4 259.9L358.9 239.4Z"/><path d="M374.5 300.2L378 300.9" stroke="#6b5edb"/><path d="M358.9 239.4L364.1 259.7" stroke="#3b7ef4"/><path d="M364.1 259.7L369.3 279.9" stroke="#5865f3"/><path d="M369.3 279.9L374.5 300.2" stroke="#665de4"/><path d="M378 300.9L381.4 301.5L365.9 277.7L362.4 259.9Z"/><path d="M378 300.9L381.4 301.5" stroke="#6b5edb"/><path d="M362.4 259.9L370.2 280.4" stroke="#5568f5"/><path d="M370.2 280.4L378 300.9" stroke="#665de5"/><path d="M381.4 301.5L384.9 301.7L369.3 291.6L365.9 277.7Z"/><path d="M381.4 301.5L384.9 301.7" stroke="#6b5edb"/><path d="M365.9 277.7L373.6 289.6" stroke="#5f5dee"/><path d="M373.6 289.6L381.4 301.5" stroke="#675de2"/><path d="M384.9 301.7L388.4 299.2L372.8 298.6L369.3 291.6Z"/><path d="M384.9 301.7L388.4 299.2" stroke="#6a5edd"/><path d="M369.3 291.6L384.9 301.7" stroke="#665de3"/><path d="M388.4 299.2L391.9 289L376.3 293.4L372.8 298.6Z"/><path d="M388.4 299.2L391.9 289M372.8 298.6L388.4 299.2" stroke="#675de2"/><path d="M391.9 289L395.3 269.9L379.8 275.7L376.3 293.4Z"/><path d="M391.9 289L395.3 269.9" stroke="#615cec"/><path d="M376.3 293.4L391.9 289" stroke="#645de8"/><path d="M395.3 269.9L398.8 251.4L383.2 256.8L379.8 275.7Z"/><path d="M395.3 269.9L398.8 251.4" stroke="#526bf6"/><path d="M379.8 275.7L395.3 269.9" stroke="#5765f3"/><path d="M398.8 251.4L402.3 242.3L386.7 247.3L383.2 256.8Z"/><path d="M398.8 251.4L402.3 242.3" stroke="#407af6"/><path d="M383.2 256.8L398.8 251.4" stroke="#4378f7"/><path d="M402.3 242.3L405.8 241.3L390.2 246.3L386.7 247.3Z"/><path d="M402.3 242.3L405.8 241.3" stroke="#3782f3"/><path d="M386.7 247.3L402.3 242.3" stroke="#3385f2"/><path d="M405.8 241.3L409.3 243L393.7 248.2L390.2 246.3Z"/><path d="M405.8 241.3L409.3 243" stroke="#3782f3"/><path d="M390.2 246.3L405.8 241.3" stroke="#3087f1"/><path d="M409.3 243L412.7 247L397.2 252.5L393.7 248.2Z"/><path d="M409.3 243L412.7 247" stroke="#3a7ff4"/><path d="M393.7 248.2L409.3 243" stroke="#3286f2"/><path d="M412.7 247L416.2 252.9L400.6 259L397.2 252.5Z"/><path d="M412.7 247L416.2 252.9" stroke="#4179f6"/><path d="M397.2 252.5L412.7 247" stroke="#3881f3"/><path d="M416.2 252.9L419.7 260.2L404.1 267L400.6 259Z"/><path d="M416.2 252.9L419.7 260.2" stroke="#4b71f9"/><path d="M400.6 259L416.2 252.9" stroke="#417af6"/><path d="M419.7 260.2L423.2 268.2L407.6 275.9L404.1 267Z"/><path d="M419.7 260.2L423.2 268.2" stroke="#526bf7"/><path d="M404.1 267L419.7 260.2" stroke="#4c70fa"/><path d="M423.2 268.2L426.6 276.3L411.1 284.8L407.6 275.9Z"/><path d="M423.2 268.2L426.6 276.3" stroke="#5865f3"/><path d="M407.6 275.9L423.2 268.2" stroke="#536af6"/><path d="M426.6 276.3L430.1 284L414.5 293.3L411.1 284.8Z"/><path d="M426.6 276.3L430.1 284" stroke="#5e5fef"/><path d="M411.1 284.8L426.6 276.3" stroke="#5963f2"/><path d="M430.1 284L433.6 290.9L418 300.8L414.5 293.3Z"/><path d="M430.1 284L433.6 290.9" stroke="#625ceb"/><path d="M414.5 293.3L430.1 284" stroke="#5f5dee"/><path d="M433.6 290.9L437.1 296.7L421.5 307.3L418 300.8Z"/><path d="M433.6 290.9L437.1 296.7" stroke="#645de7"/><path d="M418 300.8L433.6 290.9" stroke="#635cea"/><path d="M437.1 296.7L440.6 301.5L425 312.5L421.5 307.3Z"/><path d="M437.1 296.7L440.6 301.5" stroke="#665de4"/><path d="M421.5 307.3L437.1 296.7" stroke="#655de6"/><path d="M440.6 301.5L444 305.3L428.5 316.6L425 312.5Z"/><path d="M440.6 301.5L444 305.3" stroke="#685ee1"/><path d="M425 312.5L440.6 301.5" stroke="#675de3"/><path d="M444 305.3L447.5 308.2L431.9 319.8L428.5 316.6Z"/><path d="M444 305.3L447.5 308.2" stroke="#695edf"/><path d="M428.5 316.6L444 305.3" stroke="#685ee0"/><path d="M447.5 308.2L451 310.4L435.4 322.1L431.9 319.8Z"/><path d="M447.5 308.2L451 310.4" stroke="#6a5ede"/><path d="M431.9 319.8L447.5 308.2" stroke="#695ede"/><path d="M451 310.4L454.5 312L438.9 323.9L435.4 322.1Z"/><path d="M451 310.4L454.5 312M435.4 322.1L451 310.4" stroke="#6a5edd"/><path d="M454.5 312L457.9 313.2L442.4 325.2L438.9 323.9Z"/><path d="M454.5 312L457.9 313.2" stroke="#6b5edc"/><path d="M438.9 323.9L454.5 312" stroke="#6a5edc"/><path d="M457.9 313.2L461.4 314.2L445.8 326.2L442.4 325.2Z"/><path d="M457.9 313.2L461.4 314.2M442.4 325.2L457.9 313.2" stroke="#6b5edc"/><path d="M461.4 314.2L464.9 315L449.3 327L445.8 326.2Z"/><path d="M461.4 314.2L464.9 315M445.8 326.2L461.4 314.2" stroke="#6b5edc"/><path d="M464.9 315L468.4 315.7L452.8 327.8L449.3 327Z"/><path d="M464.9 315L468.4 315.7" stroke="#6b5edb"/><path d="M449.3 327L464.9 315" stroke="#6b5edc"/><path d="M468.4 315.7L471.9 316.4L456.3 328.4L452.8 327.8Z"/><path d="M468.4 315.7L471.9 316.4M452.8 327.8L468.4 315.7" stroke="#6b5edb"/><path d="M471.9 316.4L475.3 317L459.8 329L456.3 328.4Z"/><path d="M471.9 316.4L475.3 317M456.3 328.4L471.9 316.4" stroke="#6b5edb"/><path d="M475.3 317L478.8 317.6L463.2 329.6L459.8 329Z"/><path d="M475.3 317L478.8 317.6M459.8 329L475.3 317" stroke="#6b5edb"/><path d="M478.8 317.6L482.3 318.2L466.7 330.2L463.2 329.6Z"/><path d="M478.8 317.6L482.3 318.2M463.2 329.6L478.8 317.6" stroke="#6b5edb"/><path d="M482.3 318.2L485.8 318.7L470.2 330.8L466.7 330.2Z"/><path d="M482.3 318.2L485.8 318.7M466.7 330.2L482.3 318.2" stroke="#6b5edb"/><path d="M485.8 318.7L489.2 319.3L473.7 331.4L470.2 330.8Z"/><path d="M485.8 318.7L489.2 319.3M470.2 330.8L485.8 318.7" stroke="#6b5edb"/><path d="M489.2 319.3L492.7 319.9L477.1 331.9L473.7 331.4Z"/><path d="M489.2 319.3L492.7 319.9M473.7 331.4L489.2 319.3" stroke="#6b5edb"/><path d="M492.7 319.9L496.2 320.5L480.6 332.5L477.1 331.9Z"/><path d="M492.7 319.9L496.2 320.5M477.1 331.9L492.7 319.9" stroke="#6b5edb"/><path d="M496.2 320.5L499.7 321L484.1 333.1L480.6 332.5Z"/><path d="M496.2 320.5L499.7 321M480.6 332.5L496.2 320.5" stroke="#6b5edb"/><path d="M499.7 321L503.2 321.6L487.6 333.6L484.1 333.1Z"/><path d="M499.7 321L503.2 321.6M484.1 333.1L499.7 321" stroke="#6b5edb"/><path d="M503.2 321.6L506.6 322.2L491.1 334.2L487.6 333.6Z"/><path d="M503.2 321.6L506.6 322.2M487.6 333.6L503.2 321.6" stroke="#6b5edb"/><path d="M506.6 322.2L510.1 322.8L494.5 334.8L491.1 334.2Z"/><path d="M506.6 322.2L510.1 322.8M491.1 334.2L506.6 322.2" stroke="#6b5edb"/><path d="M510.1 322.8L513.6 323.3L498 335.4L494.5 334.8Z"/><path d="M510.1 322.8L513.6 323.3M494.5 334.8L510.1 322.8" stroke="#6b5edb"/><path d="M513.6 323.3L517.1 323.9L501.5 335.9L498 335.4Z"/><path d="M513.6 323.3L517.1 323.9M498 335.4L513.6 323.3" stroke="#6b5edb"/><path d="M517.1 323.9L520.5 324.5L505 336.5L501.5 335.9Z"/><path d="M517.1 323.9L520.5 324.5M501.5 335.9L517.1 323.9" stroke="#6b5edb"/><path d="M520.5 324.5L524 325L508.4 337.1L505 336.5Z"/><path d="M520.5 324.5L524 325M505 336.5L520.5 324.5" stroke="#6b5edb"/><path d="M524 325L527.5 325.6L511.9 337.7L508.4 337.1Z"/><path d="M524 325L527.5 325.6M508.4 337.1L524 325" stroke="#6b5edb"/><path d="M527.5 325.6L531 326.2L515.4 338.2L511.9 337.7Z"/><path d="M527.5 325.6L531 326.2M511.9 337.7L527.5 325.6" stroke="#6b5edb"/><path d="M531 326.2L534.5 326.7L518.9 338.8L515.4 338.2Z"/><path d="M531 326.2L534.5 326.7M515.4 338.2L531 326.2" stroke="#6b5edb"/><path d="M534.5 326.7L537.9 327.3L522.4 339.3L518.9 338.8Z"/><path d="M534.5 326.7L537.9 327.3M518.9 338.8L534.5 326.7" stroke="#6b5edb"/><path d="M537.9 327.3L541.4 327.7L525.8 339.8L522.4 339.3Z"/><path d="M537.9 327.3L541.4 327.7M522.4 339.3L537.9 327.3" stroke="#6b5edb"/><path d="M541.4 327.7L544.9 328.1L529.3 340.1L525.8 339.8Z"/><path d="M541.4 327.7L544.9 328.1" stroke="#6b5edc"/><path d="M525.8 339.8L541.4 327.7" stroke="#6b5edb"/><path d="M544.9 328.1L548.4 328.3L532.8 340.3L529.3 340.1Z"/><path d="M544.9 328.1L548.4 328.3M529.3 340.1L544.9 328.1" stroke="#6b5edc"/><path d="M548.4 328.3L551.8 328.2L536.3 340.2L532.8 340.3Z"/><path d="M548.4 328.3L551.8 328.2M532.8 340.3L548.4 328.3" stroke="#6b5edc"/><path d="M551.8 328.2L555.3 327.7L539.7 339.6L536.3 340.2Z"/><path d="M551.8 328.2L555.3 327.7" stroke="#6a5edd"/><path d="M536.3 340.2L551.8 328.2" stroke="#6a5edc"/><path d="M555.3 327.7L558.8 326.5L543.2 338.4L539.7 339.6Z"/><path d="M555.3 327.7L558.8 326.5" stroke="#6a5ede"/><path d="M539.7 339.6L555.3 327.7" stroke="#6a5edd"/><path d="M558.8 326.5L562.3 324.7L546.7 336.4L543.2 338.4Z"/><path d="M558.8 326.5L562.3 324.7" stroke="#695edf"/><path d="M543.2 338.4L558.8 326.5" stroke="#695ede"/><path d="M562.3 324.7L565.8 322L550.2 333.5L546.7 336.4Z"/><path d="M562.3 324.7L565.8 322" stroke="#685ee1"/><path d="M546.7 336.4L562.3 324.7" stroke="#685ee0"/><path d="M565.8 322L569.2 318.5L553.7 329.8L550.2 333.5Z"/><path d="M565.8 322L569.2 318.5" stroke="#665de4"/><path d="M550.2 333.5L565.8 322" stroke="#675de3"/><path d="M569.2 318.5L572.7 314.5L557.1 325.6L553.7 329.8Z"/><path d="M569.2 318.5L572.7 314.5" stroke="#645de7"/><path d="M553.7 329.8L569.2 318.5" stroke="#655de5"/><path d="M572.7 314.5L576.2 310.4L560.6 321.2L557.1 325.6Z"/><path d="M572.7 314.5L576.2 310.4" stroke="#635cea"/><path d="M557.1 325.6L572.7 314.5" stroke="#635ce9"/><path d="M576.2 310.4L579.7 306.6L564.1 317.2L560.6 321.2Z"/><path d="M576.2 310.4L579.7 306.6" stroke="#615ced"/><path d="M560.6 321.2L576.2 310.4" stroke="#615cec"/><path d="M579.7 306.6L583.1 303.8L567.6 314.2L564.1 317.2Z"/><path d="M579.7 306.6L583.1 303.8" stroke="#5e5fef"/><path d="M564.1 317.2L579.7 306.6" stroke="#5e5eef"/><path d="M583.1 303.8L586.6 302.6L571 312.9L567.6 314.2Z"/><path d="M583.1 303.8L586.6 302.6M567.6 314.2L583.1 303.8" stroke="#5b61f1"/><path d="M586.6 302.6L590.1 303.1L574.5 313.5L571 312.9Z"/><path d="M586.6 302.6L590.1 303.1" stroke="#5b62f1"/><path d="M571 312.9L586.6 302.6" stroke="#5a63f1"/><path d="M590.1 303.1L593.6 305.5L578 315.9L574.5 313.5Z"/><path d="M590.1 303.1L593.6 305.5" stroke="#5b61f1"/><path d="M574.5 313.5L590.1 303.1" stroke="#5a63f1"/><path d="M593.6 305.5L597.1 309.4L581.5 320L578 315.9Z"/><path d="M593.6 305.5L597.1 309.4" stroke="#5d5fef"/><path d="M578 315.9L593.6 305.5" stroke="#5b61f1"/><path d="M597.1 309.4L600.5 314.3L585 325.1L581.5 320Z"/><path d="M597.1 309.4L600.5 314.3" stroke="#615ced"/><path d="M581.5 320L597.1 309.4" stroke="#5e5eef"/><path d="M600.5 314.3L604 319.6L588.4 330.7L585 325.1Z"/><path d="M600.5 314.3L604 319.6" stroke="#635cea"/><path d="M585 325.1L600.5 314.3" stroke="#615cec"/><path d="M604 319.6L607.5 324.8L591.9 336.1L588.4 330.7Z"/><path d="M604 319.6L607.5 324.8" stroke="#645de7"/><path d="M588.4 330.7L604 319.6" stroke="#635ce9"/><path d="M607.5 324.8L611 329.4L595.4 340.9L591.9 336.1Z"/><path d="M607.5 324.8L611 329.4" stroke="#665de4"/><path d="M591.9 336.1L607.5 324.8" stroke="#655de6"/><path d="M611 329.4L614.4 333.2L598.9 344.9L595.4 340.9Z"/><path d="M611 329.4L614.4 333.2" stroke="#685ee1"/><path d="M595.4 340.9L611 329.4" stroke="#675de3"/><path d="M614.4 333.2L617.9 336.3L602.3 348.1L598.9 344.9Z"/><path d="M614.4 333.2L617.9 336.3" stroke="#695edf"/><path d="M598.9 344.9L614.4 333.2" stroke="#685ee0"/><path d="M617.9 336.3L621.4 338.5L605.8 350.4L602.3 348.1Z"/><path d="M617.9 336.3L621.4 338.5" stroke="#6a5ede"/><path d="M602.3 348.1L617.9 336.3" stroke="#695ede"/><path d="M621.4 338.5L624.9 340.2L609.3 352.2L605.8 350.4Z"/><path d="M621.4 338.5L624.9 340.2M605.8 350.4L621.4 338.5" stroke="#6a5edd"/><path d="M609.3 352.2L624.9 340.2" stroke="#6a5edc"/><path d="M223.3 290.1L226.7 290.7L211.2 302.7L207.7 302.1Z"/><path d="M223.3 290.1L226.7 290.7M207.7 302.1L223.3 290.1" stroke="#6b5edb"/><path d="M226.7 290.7L230.2 291.3L214.6 303.3L211.2 302.7Z"/><path d="M226.7 290.7L230.2 291.3M211.2 302.7L226.7 290.7" stroke="#6b5edb"/><path d="M230.2 291.3L233.7 291.8L218.1 303.8L214.6 303.3Z"/><path d="M230.2 291.3L233.7 291.8M214.6 303.3L230.2 291.3" stroke="#6b5edb"/><path d="M233.7 291.8L237.2 292.3L221.6 304.2L218.1 303.8Z"/><path d="M233.7 291.8L237.2 292.3M218.1 303.8L233.7 291.8" stroke="#6b5edb"/><path d="M237.2 292.3L240.7 292L225.1 304.6L221.6 304.2Z"/><path d="M237.2 292.3L240.7 292" stroke="#6b5edc"/><path d="M221.6 304.2L237.2 292.3" stroke="#6b5edb"/><path d="M240.7 292L244.1 287.5L228.6 304.6L225.1 304.6Z"/><path d="M240.7 292L244.1 287.5" stroke="#6a5ede"/><path d="M225.1 304.6L240.7 292" stroke="#6b5edc"/><path d="M244.1 287.5L247.6 270.2L232 304.3L228.6 304.6Z"/><path d="M244.1 287.5L247.6 270.2" stroke="#655de6"/><path d="M228.6 304.6L244.1 287.5" stroke="#6a5ede"/><path d="M247.6 270.2L251.1 231.6L235.5 303.2L232 304.3Z"/><path d="M247.6 270.2L249.3 250.9" stroke="#5a63f2"/><path d="M249.3 250.9L251.1 231.6" stroke="#4774f8"/><path d="M232 304.3L247.6 270.2" stroke="#665de4"/><path d="M251.1 231.6L254.6 175.9L239 301L235.5 303.2Z"/><path d="M251.1 231.6L252.8 203.7" stroke="#2293eb"/><path d="M252.8 203.7L254.6 175.9" stroke="#12b1cf"/><path d="M235.5 303.2L243.3 267.4" stroke="#645ce8"/><path d="M243.3 267.4L251.1 231.6" stroke="#4e6ff9"/><path d="M254.6 175.9L258 122.2L242.5 297.1L239 301Z"/><path d="M254.6 175.9L256.3 149" stroke="#39c5a3"/><path d="M256.3 149L258 122.2" stroke="#7ecb71"/><path d="M239 301L242.9 269.7" stroke="#635cea"/><path d="M242.9 269.7L246.8 238.4" stroke="#4e6ff9"/><path d="M246.8 238.4L250.7 207.2" stroke="#2293ec"/><path d="M250.7 207.2L254.6 175.9" stroke="#12b1cf"/><path d="M258 122.2L261.5 88L245.9 290.8L242.5 297.1Z"/><path d="M258 122.2L259.8 105.1" stroke="#b5c653"/><path d="M259.8 105.1L261.5 88" stroke="#debd41"/><path d="M242.5 297.1L245.6 262.1" stroke="#5f5dee"/><path d="M245.6 262.1L248.7 227.1" stroke="#3d7df5"/><path d="M248.7 227.1L251.8 192.2" stroke="#14a4de"/><path d="M251.8 192.2L254.9 157.2" stroke="#25c1b4"/><path d="M254.9 157.2L258 122.2" stroke="#77cb75"/><path d="M261.5 88L265 74.1L249.4 281.5L245.9 290.8Z"/><path d="M261.5 88L265 74.1" stroke="#f5bb3e"/><path d="M245.9 290.8L248.5 257" stroke="#5a63f1"/><path d="M248.5 257L251.1 223.2" stroke="#3484f2"/><path d="M251.1 223.2L253.7 189.4" stroke="#10aad9"/><path d="M253.7 189.4L256.3 155.6" stroke="#2fc3ac"/><path d="M256.3 155.6L258.9 121.8" stroke="#80cb70"/><path d="M258.9 121.8L261.5 88" stroke="#cdc148"/><path d="M265 74.1L268.5 66.9L252.9 268.4L249.4 281.5Z"/><path d="M265 74.1L268.5 66.9" stroke="#fcc734"/><path d="M249.4 281.5L252 246.9" stroke="#526bf7"/><path d="M252 246.9L254.6 212.3" stroke="#2393ec"/><path d="M254.6 212.3L257.2 177.8" stroke="#15b4ca"/><path d="M257.2 177.8L259.8 143.2" stroke="#4fc892"/><path d="M259.8 143.2L262.4 108.7" stroke="#a2ca5c"/><path d="M262.4 108.7L265 74.1" stroke="#e8bc3f"/><path d="M268.5 66.9L272 55.5L256.4 251.5L252.9 268.4Z"/><path d="M268.5 66.9L272 55.5" stroke="#fbdc24"/><path d="M252.9 268.4L255.5 234.8" stroke="#4279f6"/><path d="M255.5 234.8L258.1 201.3" stroke="#18a0e1"/><path d="M258.1 201.3L260.7 167.7" stroke="#21bdba"/><path d="M260.7 167.7L263.3 134.1" stroke="#69cc7e"/><path d="M263.3 134.1L265.9 100.5" stroke="#b7c652"/><path d="M265.9 100.5L268.5 66.9" stroke="#f4bb3e"/><path d="M272 55.5L275.4 47.7L259.9 230.8L256.4 251.5Z"/><path d="M272 55.5L275.4 47.7" stroke="#faf113"/><path d="M256.4 251.5L259 218.8" stroke="#2690ee"/><path d="M259 218.8L261.6 186.1" stroke="#11b1d0"/><path d="M261.6 186.1L264.2 153.5" stroke="#3fc69f"/><path d="M264.2 153.5L266.8 120.8" stroke="#8dca68"/><path d="M266.8 120.8L269.4 88.1" stroke="#d7bf44"/><path d="M269.4 88.1L272 55.5" stroke="#fcc833"/><path d="M275.4 47.7L278.9 53L263.3 207.3L259.9 230.8Z"/><path d="M275.4 47.7L278.9 53" stroke="#faf511"/><path d="M259.9 230.8L263 194.2" stroke="#10aad9"/><path d="M263 194.2L266.1 157.5" stroke="#35c4a7"/><path d="M266.1 157.5L269.2 120.9" stroke="#8cca69"/><path d="M269.2 120.9L272.3 84.3" stroke="#debd41"/><path d="M272.3 84.3L275.4 47.7" stroke="#fbd628"/><path d="M278.9 53L282.4 65.8L266.8 182.7L263.3 207.3Z"/><path d="M278.9 53L282.4 65.8" stroke="#fbe31e"/><path d="M263.3 207.3L266.4 176.4" stroke="#1fbcbd"/><path d="M266.4 176.4L269.6 145.6" stroke="#5cca87"/><path d="M269.6 145.6L272.7 114.7" stroke="#a4ca5a"/><path d="M272.7 114.7L275.8 83.8" stroke="#e4bc3f"/><path d="M275.8 83.8L278.9 53" stroke="#fcd22b"/><path d="M282.4 65.8L285.9 75L270.3 159.1L266.8 182.7Z"/><path d="M282.4 65.8L285.9 75" stroke="#fccd2f"/><path d="M266.8 182.7L270.7 153.4" stroke="#51c990"/><path d="M270.7 153.4L274.6 124.2" stroke="#94ca64"/><path d="M274.6 124.2L278.5 95" stroke="#d2c046"/><path d="M278.5 95L282.4 65.8" stroke="#fcba3d"/><path d="M285.9 75L289.3 78.6L273.8 139.2L270.3 159.1Z"/><path d="M285.9 75L289.3 78.6" stroke="#fcc038"/><path d="M270.3 159.1L275.5 131.1" stroke="#8bcb69"/><path d="M275.5 131.1L280.7 103" stroke="#c6c34b"/><path d="M280.7 103L285.9 75" stroke="#f2bb3e"/><path d="M289.3 78.6L292.8 79.9L277.2 125.3L273.8 139.2Z"/><path d="M289.3 78.6L292.8 79.9" stroke="#fcbd3b"/><path d="M273.8 139.2L281.6 108.9" stroke="#bec44f"/><path d="M281.6 108.9L289.3 78.6" stroke="#eebc3f"/><path d="M292.8 79.9L296.3 80.6L280.7 119.3L277.2 125.3Z"/><path d="M292.8 79.9L296.3 80.6" stroke="#fcbc3c"/><path d="M277.2 125.3L292.8 79.9" stroke="#e6bc3f"/><path d="M296.3 80.6L299.8 81.2L284.2 119.5L280.7 119.3Z"/><path d="M296.3 80.6L299.8 81.2" stroke="#fcbb3c"/><path d="M280.7 119.3L296.3 80.6" stroke="#ebbc3f"/><path d="M299.8 81.2L303.3 82L287.7 120.7L284.2 119.5Z"/><path d="M299.8 81.2L303.3 82" stroke="#fcbb3c"/><path d="M284.2 119.5L299.8 81.2" stroke="#ebbc3f"/><path d="M303.3 82L306.7 83L291.2 122.6L287.7 120.7Z"/><path d="M303.3 82L306.7 83" stroke="#fcba3d"/><path d="M287.7 120.7L303.3 82" stroke="#eabc3f"/><path d="M306.7 83L310.2 84.2L294.6 124.9L291.2 122.6Z"/><path d="M306.7 83L310.2 84.2" stroke="#fcba3d"/><path d="M291.2 122.6L306.7 83" stroke="#e9bc3f"/><path d="M310.2 84.2L313.7 85.7L298.1 127.6L294.6 124.9Z"/><path d="M310.2 84.2L313.7 85.7" stroke="#fbba3d"/><path d="M294.6 124.9L310.2 84.2" stroke="#e8bc3f"/><path d="M313.7 85.7L317.2 87.8L301.6 130.6L298.1 127.6Z"/><path d="M313.7 85.7L317.2 87.8" stroke="#f9ba3e"/><path d="M298.1 127.6L313.7 85.7" stroke="#e5bc3f"/><path d="M317.2 87.8L320.6 90.7L305.1 133.9L301.6 130.6Z"/><path d="M317.2 87.8L320.6 90.7" stroke="#f6bb3e"/><path d="M301.6 130.6L317.2 87.8" stroke="#e3bd40"/><path d="M320.6 90.7L324.1 94.5L308.5 137.5L305.1 133.9Z"/><path d="M320.6 90.7L324.1 94.5" stroke="#f3bb3e"/><path d="M305.1 133.9L320.6 90.7" stroke="#debd41"/><path d="M324.1 94.5L327.6 99.6L312 141.6L308.5 137.5Z"/><path d="M324.1 94.5L327.6 99.6" stroke="#edbc3f"/><path d="M308.5 137.5L324.1 94.5" stroke="#d7bf44"/><path d="M327.6 99.6L331.1 106.4L315.5 146.4L312 141.6Z"/><path d="M327.6 99.6L331.1 106.4" stroke="#e6bc3f"/><path d="M312 141.6L327.6 99.6" stroke="#cdc148"/><path d="M331.1 106.4L334.6 115.1L319 152.2L315.5 146.4Z"/><path d="M331.1 106.4L334.6 115.1" stroke="#d8be43"/><path d="M315.5 146.4L331.1 106.4" stroke="#c1c34d"/><path d="M334.6 115.1L338 126.2L322.5 159.1L319 152.2Z"/><path d="M334.6 115.1L338 126.2" stroke="#c3c34d"/><path d="M319 152.2L334.6 115.1" stroke="#b2c754"/><path d="M338 126.2L341.5 139.8L325.9 167.4L322.5 159.1Z"/><path d="M338 126.2L341.5 139.8" stroke="#a7c959"/><path d="M322.5 159.1L338 126.2" stroke="#9dca5e"/><path d="M341.5 139.8L345 156.1L329.4 176.7L325.9 167.4Z"/><path d="M341.5 139.8L345 156.1M325.9 167.4L341.5 139.8" stroke="#83cb6e"/><path d="M345 156.1L348.5 174.8L332.9 186.8L329.4 176.7Z"/><path d="M345 156.1L348.5 174.8" stroke="#58ca8b"/><path d="M329.4 176.7L345 156.1" stroke="#64cc81"/><path d="M348.5 174.8L351.9 195.6L336.4 197.4L332.9 186.8Z"/><path d="M348.5 174.8L351.9 195.6" stroke="#27c2b2"/><path d="M332.9 186.8L348.5 174.8" stroke="#41c69d"/><path d="M351.9 195.6L355.4 217.5L339.8 208.4L336.4 197.4Z"/><path d="M351.9 195.6L355.4 217.5" stroke="#11b1d0"/><path d="M336.4 197.4L351.9 195.6" stroke="#21beb9"/><path d="M355.4 217.5L358.9 239.4L343.3 219.5L339.8 208.4Z"/><path d="M355.4 217.5L358.9 239.4" stroke="#1c9be5"/><path d="M339.8 208.4L355.4 217.5" stroke="#11b1d0"/><path d="M358.9 239.4L362.4 259.9L346.8 230.5L343.3 219.5Z"/><path d="M358.9 239.4L362.4 259.9" stroke="#3881f3"/><path d="M343.3 219.5L358.9 239.4" stroke="#17a1e1"/><path d="M362.4 259.9L365.9 277.7L350.3 241.2L346.8 230.5Z"/><path d="M362.4 259.9L365.9 277.7" stroke="#516cf7"/><path d="M346.8 230.5L354.6 245.2" stroke="#1c9be5"/><path d="M354.6 245.2L362.4 259.9" stroke="#3782f3"/><path d="M365.9 277.7L369.3 291.6L353.8 251.3L350.3 241.2Z"/><path d="M365.9 277.7L369.3 291.6" stroke="#5e5fef"/><path d="M350.3 241.2L358.1 259.5" stroke="#298def"/><path d="M358.1 259.5L365.9 277.7" stroke="#4e6ef9"/><path d="M369.3 291.6L372.8 298.6L357.2 260.1L353.8 251.3Z"/><path d="M369.3 291.6L372.8 298.6" stroke="#635ce9"/><path d="M353.8 251.3L361.5 271.4" stroke="#3a80f4"/><path d="M361.5 271.4L369.3 291.6" stroke="#5864f3"/><path d="M372.8 298.6L376.3 293.4L360.7 266.5L357.2 260.1Z"/><path d="M372.8 298.6L376.3 293.4" stroke="#635ce9"/><path d="M357.2 260.1L365 279.3" stroke="#4675f8"/><path d="M365 279.3L372.8 298.6" stroke="#5e5fef"/><path d="M376.3 293.4L379.8 275.7L364.2 270.2L360.7 266.5Z"/><path d="M376.3 293.4L379.8 275.7M368.5 280L376.3 293.4" stroke="#5c61f0"/><path d="M360.7 266.5L368.5 280" stroke="#4b71f9"/><path d="M379.8 275.7L383.2 256.8L367.7 273.3L364.2 270.2Z"/><path d="M379.8 275.7L383.2 256.8" stroke="#4d70fa"/><path d="M364.2 270.2L379.8 275.7" stroke="#4e6ff9"/><path d="M383.2 256.8L386.7 247.3L371.1 277.7L367.7 273.3Z"/><path d="M383.2 256.8L386.7 247.3" stroke="#3583f3"/><path d="M367.7 273.3L383.2 256.8" stroke="#417af6"/><path d="M386.7 247.3L390.2 246.3L374.6 283.1L371.1 277.7Z"/><path d="M386.7 247.3L390.2 246.3" stroke="#2c8bf0"/><path d="M371.1 277.7L386.7 247.3" stroke="#3c7ef5"/><path d="M390.2 246.3L393.7 248.2L378.1 288.5L374.6 283.1Z"/><path d="M390.2 246.3L393.7 248.2" stroke="#2b8bf0"/><path d="M374.6 283.1L390.2 246.3" stroke="#3e7cf5"/><path d="M393.7 248.2L397.2 252.5L381.6 293.8L378.1 288.5Z"/><path d="M393.7 248.2L397.2 252.5" stroke="#2f88f1"/><path d="M378.1 288.5L393.7 248.2" stroke="#4378f7"/><path d="M397.2 252.5L400.6 259L385.1 299L381.6 293.8Z"/><path d="M397.2 252.5L400.6 259" stroke="#3781f3"/><path d="M381.6 293.8L397.2 252.5" stroke="#4a72f9"/><path d="M400.6 259L404.1 267L388.5 304.1L385.1 299Z"/><path d="M400.6 259L404.1 267" stroke="#4279f7"/><path d="M385.1 299L400.6 259" stroke="#506df8"/><path d="M404.1 267L407.6 275.9L392 308.9L388.5 304.1Z"/><path d="M404.1 267L407.6 275.9" stroke="#4e6ff9"/><path d="M388.5 304.1L404.1 267" stroke="#5568f5"/><path d="M407.6 275.9L411.1 284.8L395.5 313.4L392 308.9Z"/><path d="M407.6 275.9L411.1 284.8" stroke="#5468f5"/><path d="M392 308.9L407.6 275.9" stroke="#5a63f2"/><path d="M411.1 284.8L414.5 293.3L399 317.5L395.5 313.4Z"/><path d="M411.1 284.8L414.5 293.3" stroke="#5b62f1"/><path d="M395.5 313.4L411.1 284.8" stroke="#5f5eef"/><path d="M414.5 293.3L418 300.8L402.4 321.2L399 317.5Z"/><path d="M414.5 293.3L418 300.8" stroke="#615ced"/><path d="M399 317.5L414.5 293.3" stroke="#625ceb"/><path d="M418 300.8L421.5 307.3L405.9 324.4L402.4 321.2Z"/><path d="M418 300.8L421.5 307.3" stroke="#645ce8"/><path d="M402.4 321.2L418 300.8" stroke="#645de8"/><path d="M421.5 307.3L425 312.5L409.4 327.1L405.9 324.4Z"/><path d="M421.5 307.3L425 312.5M405.9 324.4L421.5 307.3" stroke="#665de5"/><path d="M425 312.5L428.5 316.6L412.9 329.4L409.4 327.1Z"/><path d="M425 312.5L428.5 316.6M409.4 327.1L425 312.5" stroke="#675de2"/><path d="M428.5 316.6L431.9 319.8L416.4 331.4L412.9 329.4Z"/><path d="M428.5 316.6L431.9 319.8" stroke="#695ee0"/><path d="M412.9 329.4L428.5 316.6" stroke="#685ee0"/><path d="M431.9 319.8L435.4 322.1L419.8 333.1L416.4 331.4Z"/><path d="M431.9 319.8L435.4 322.1" stroke="#6a5ede"/><path d="M416.4 331.4L431.9 319.8" stroke="#695edf"/><path d="M435.4 322.1L438.9 323.9L423.3 334.5L419.8 333.1Z"/><path d="M435.4 322.1L438.9 323.9" stroke="#6a5edd"/><path d="M419.8 333.1L435.4 322.1" stroke="#6a5ede"/><path d="M438.9 323.9L442.4 325.2L426.8 335.8L423.3 334.5Z"/><path d="M438.9 323.9L442.4 325.2" stroke="#6b5edc"/><path d="M423.3 334.5L438.9 323.9" stroke="#6a5edd"/><path d="M442.4 325.2L445.8 326.2L430.3 336.9L426.8 335.8Z"/><path d="M442.4 325.2L445.8 326.2" stroke="#6b5edc"/><path d="M426.8 335.8L442.4 325.2" stroke="#6a5edd"/><path d="M445.8 326.2L449.3 327L433.7 337.9L430.3 336.9Z"/><path d="M445.8 326.2L449.3 327M430.3 336.9L445.8 326.2" stroke="#6b5edc"/><path d="M449.3 327L452.8 327.8L437.2 338.8L433.7 337.9Z"/><path d="M449.3 327L452.8 327.8" stroke="#6b5edb"/><path d="M433.7 337.9L449.3 327" stroke="#6b5edc"/><path d="M452.8 327.8L456.3 328.4L440.7 339.6L437.2 338.8Z"/><path d="M452.8 327.8L456.3 328.4" stroke="#6b5edb"/><path d="M437.2 338.8L452.8 327.8" stroke="#6b5edc"/><path d="M456.3 328.4L459.8 329L444.2 340.4L440.7 339.6Z"/><path d="M456.3 328.4L459.8 329" stroke="#6b5edb"/><path d="M440.7 339.6L456.3 328.4" stroke="#6b5edc"/><path d="M459.8 329L463.2 329.6L447.7 341.1L444.2 340.4Z"/><path d="M459.8 329L463.2 329.6" stroke="#6b5edb"/><path d="M444.2 340.4L459.8 329" stroke="#6b5edc"/><path d="M463.2 329.6L466.7 330.2L451.1 341.8L447.7 341.1Z"/><path d="M463.2 329.6L466.7 330.2" stroke="#6b5edb"/><path d="M447.7 341.1L463.2 329.6" stroke="#6b5edc"/><path d="M466.7 330.2L470.2 330.8L454.6 342.5L451.1 341.8Z"/><path d="M466.7 330.2L470.2 330.8M451.1 341.8L466.7 330.2" stroke="#6b5edb"/><path d="M470.2 330.8L473.7 331.4L458.1 343.1L454.6 342.5Z"/><path d="M470.2 330.8L473.7 331.4M454.6 342.5L470.2 330.8" stroke="#6b5edb"/><path d="M473.7 331.4L477.1 331.9L461.6 343.8L458.1 343.1Z"/><path d="M473.7 331.4L477.1 331.9M458.1 343.1L473.7 331.4" stroke="#6b5edb"/><path d="M477.1 331.9L480.6 332.5L465 344.4L461.6 343.8Z"/><path d="M477.1 331.9L480.6 332.5M461.6 343.8L477.1 331.9" stroke="#6b5edb"/><path d="M480.6 332.5L484.1 333.1L468.5 345L465 344.4Z"/><path d="M480.6 332.5L484.1 333.1M465 344.4L480.6 332.5" stroke="#6b5edb"/><path d="M484.1 333.1L487.6 333.6L472 345.6L468.5 345Z"/><path d="M484.1 333.1L487.6 333.6M468.5 345L484.1 333.1" stroke="#6b5edb"/><path d="M487.6 333.6L491.1 334.2L475.5 346.2L472 345.6Z"/><path d="M487.6 333.6L491.1 334.2M472 345.6L487.6 333.6" stroke="#6b5edb"/><path d="M491.1 334.2L494.5 334.8L479 346.8L475.5 346.2Z"/><path d="M491.1 334.2L494.5 334.8M475.5 346.2L491.1 334.2" stroke="#6b5edb"/><path d="M494.5 334.8L498 335.4L482.4 347.4L479 346.8Z"/><path d="M494.5 334.8L498 335.4M479 346.8L494.5 334.8" stroke="#6b5edb"/><path d="M498 335.4L501.5 335.9L485.9 347.9L482.4 347.4Z"/><path d="M498 335.4L501.5 335.9M482.4 347.4L498 335.4" stroke="#6b5edb"/><path d="M501.5 335.9L505 336.5L489.4 348.5L485.9 347.9Z"/><path d="M501.5 335.9L505 336.5M485.9 347.9L501.5 335.9" stroke="#6b5edb"/><path d="M505 336.5L508.4 337.1L492.9 349.1L489.4 348.5Z"/><path d="M505 336.5L508.4 337.1M489.4 348.5L505 336.5" stroke="#6b5edb"/><path d="M508.4 337.1L511.9 337.7L496.3 349.6L492.9 349.1Z"/><path d="M508.4 337.1L511.9 337.7M492.9 349.1L508.4 337.1" stroke="#6b5edb"/><path d="M511.9 337.7L515.4 338.2L499.8 350.1L496.3 349.6Z"/><path d="M511.9 337.7L515.4 338.2M496.3 349.6L511.9 337.7" stroke="#6b5edb"/><path d="M515.4 338.2L518.9 338.8L503.3 350.6L499.8 350.1Z"/><path d="M515.4 338.2L518.9 338.8M499.8 350.1L515.4 338.2" stroke="#6b5edb"/><path d="M518.9 338.8L522.4 339.3L506.8 350.9L503.3 350.6Z"/><path d="M518.9 338.8L522.4 339.3M503.3 350.6L518.9 338.8" stroke="#6b5edb"/><path d="M522.4 339.3L525.8 339.8L510.3 351.1L506.8 350.9Z"/><path d="M522.4 339.3L525.8 339.8M506.8 350.9L522.4 339.3" stroke="#6b5edb"/><path d="M525.8 339.8L529.3 340.1L513.7 351.1L510.3 351.1Z"/><path d="M525.8 339.8L529.3 340.1M510.3 351.1L525.8 339.8" stroke="#6b5edc"/><path d="M529.3 340.1L532.8 340.3L517.2 350.8L513.7 351.1Z"/><path d="M529.3 340.1L532.8 340.3M513.7 351.1L529.3 340.1" stroke="#6b5edc"/><path d="M532.8 340.3L536.3 340.2L520.7 350L517.2 350.8Z"/><path d="M532.8 340.3L536.3 340.2" stroke="#6b5edc"/><path d="M517.2 350.8L532.8 340.3" stroke="#6a5edc"/><path d="M536.3 340.2L539.7 339.6L524.2 348.7L520.7 350Z"/><path d="M536.3 340.2L539.7 339.6M520.7 350L536.3 340.2" stroke="#6a5edd"/><path d="M539.7 339.6L543.2 338.4L527.6 346.8L524.2 348.7Z"/><path d="M539.7 339.6L543.2 338.4" stroke="#6a5ede"/><path d="M524.2 348.7L539.7 339.6" stroke="#695ede"/><path d="M543.2 338.4L546.7 336.4L531.1 344.4L527.6 346.8Z"/><path d="M543.2 338.4L546.7 336.4" stroke="#695edf"/><path d="M527.6 346.8L543.2 338.4" stroke="#695ee0"/><path d="M546.7 336.4L550.2 333.5L534.6 341.6L531.1 344.4Z"/><path d="M546.7 336.4L550.2 333.5" stroke="#685de2"/><path d="M531.1 344.4L546.7 336.4" stroke="#675de2"/><path d="M550.2 333.5L553.7 329.8L538.1 338.5L534.6 341.6Z"/><path d="M550.2 333.5L553.7 329.8M534.6 341.6L550.2 333.5" stroke="#665de4"/><path d="M553.7 329.8L557.1 325.6L541.6 335.6L538.1 338.5Z"/><path d="M553.7 329.8L557.1 325.6M538.1 338.5L553.7 329.8" stroke="#645de7"/><path d="M557.1 325.6L560.6 321.2L545 333.2L541.6 335.6Z"/><path d="M557.1 325.6L560.6 321.2" stroke="#625ceb"/><path d="M541.6 335.6L557.1 325.6" stroke="#635cea"/><path d="M560.6 321.2L564.1 317.2L548.5 331.6L545 333.2Z"/><path d="M560.6 321.2L564.1 317.2" stroke="#605dee"/><path d="M545 333.2L560.6 321.2" stroke="#615ced"/><path d="M564.1 317.2L567.6 314.2L552 331.1L548.5 331.6Z"/><path d="M564.1 317.2L567.6 314.2" stroke="#5c60f0"/><path d="M548.5 331.6L564.1 317.2" stroke="#5f5eef"/><path d="M567.6 314.2L571 312.9L555.5 331.9L552 331.1Z"/><path d="M567.6 314.2L571 312.9" stroke="#5a63f1"/><path d="M552 331.1L567.6 314.2" stroke="#5d60f0"/><path d="M571 312.9L574.5 313.5L558.9 333.9L555.5 331.9Z"/><path d="M571 312.9L574.5 313.5" stroke="#5963f2"/><path d="M555.5 331.9L571 312.9" stroke="#5c61f0"/><path d="M574.5 313.5L578 315.9L562.4 337L558.9 333.9Z"/><path d="M574.5 313.5L578 315.9" stroke="#5a63f1"/><path d="M558.9 333.9L574.5 313.5" stroke="#5d60f0"/><path d="M578 315.9L581.5 320L565.9 340.7L562.4 337Z"/><path d="M578 315.9L581.5 320" stroke="#5c60f0"/><path d="M562.4 337L578 315.9" stroke="#5e5eef"/><path d="M581.5 320L585 325.1L569.4 344.9L565.9 340.7Z"/><path d="M581.5 320L585 325.1" stroke="#5f5dee"/><path d="M565.9 340.7L581.5 320" stroke="#615ced"/><path d="M585 325.1L588.4 330.7L572.9 349L569.4 344.9Z"/><path d="M585 325.1L588.4 330.7" stroke="#625ceb"/><path d="M569.4 344.9L585 325.1" stroke="#635cea"/><path d="M588.4 330.7L591.9 336.1L576.3 352.8L572.9 349Z"/><path d="M588.4 330.7L591.9 336.1" stroke="#645de8"/><path d="M572.9 349L588.4 330.7" stroke="#645de7"/><path d="M591.9 336.1L595.4 340.9L579.8 356.2L576.3 352.8Z"/><path d="M591.9 336.1L595.4 340.9M576.3 352.8L591.9 336.1" stroke="#665de4"/><path d="M595.4 340.9L598.9 344.9L583.3 359.1L579.8 356.2Z"/><path d="M595.4 340.9L598.9 344.9M579.8 356.2L595.4 340.9" stroke="#685de2"/><path d="M598.9 344.9L602.3 348.1L586.8 361.3L583.3 359.1Z"/><path d="M598.9 344.9L602.3 348.1" stroke="#695edf"/><path d="M583.3 359.1L598.9 344.9" stroke="#695ee0"/><path d="M602.3 348.1L605.8 350.4L590.2 363.1L586.8 361.3Z"/><path d="M602.3 348.1L605.8 350.4M586.8 361.3L602.3 348.1" stroke="#6a5ede"/><path d="M605.8 350.4L609.3 352.2L593.7 364.5L590.2 363.1Z"/><path d="M605.8 350.4L609.3 352.2M590.2 363.1L605.8 350.4" stroke="#6a5edd"/><path d="M593.7 364.5L609.3 352.2" stroke="#6b5edc"/><path d="M207.7 302.1L211.2 302.7L195.6 314.6L192.1 314.1Z"/><path d="M207.7 302.1L211.2 302.7M192.1 314.1L207.7 302.1" stroke="#6b5edb"/><path d="M211.2 302.7L214.6 303.3L199.1 315.1L195.6 314.6Z"/><path d="M211.2 302.7L214.6 303.3M195.6 314.6L211.2 302.7" stroke="#6b5edb"/><path d="M214.6 303.3L218.1 303.8L202.5 315.5L199.1 315.1Z"/><path d="M214.6 303.3L218.1 303.8M199.1 315.1L214.6 303.3" stroke="#6b5edb"/><path d="M218.1 303.8L221.6 304.2L206 315.7L202.5 315.5Z"/><path d="M218.1 303.8L221.6 304.2M202.5 315.5L218.1 303.8" stroke="#6b5edb"/><path d="M221.6 304.2L225.1 304.6L209.5 315.7L206 315.7Z"/><path d="M221.6 304.2L225.1 304.6M206 315.7L221.6 304.2" stroke="#6b5edc"/><path d="M225.1 304.6L228.6 304.6L213 315.4L209.5 315.7Z"/><path d="M225.1 304.6L228.6 304.6M209.5 315.7L225.1 304.6" stroke="#6b5edc"/><path d="M228.6 304.6L232 304.3L216.4 314.5L213 315.4Z"/><path d="M228.6 304.6L232 304.3" stroke="#6b5edc"/><path d="M213 315.4L228.6 304.6" stroke="#6a5edc"/><path d="M232 304.3L235.5 303.2L219.9 313L216.4 314.5Z"/><path d="M232 304.3L235.5 303.2M216.4 314.5L232 304.3" stroke="#6a5edd"/><path d="M235.5 303.2L239 301L223.4 310.6L219.9 313Z"/><path d="M235.5 303.2L239 301M219.9 313L235.5 303.2" stroke="#695edf"/><path d="M239 301L242.5 297.1L226.9 306.9L223.4 310.6Z"/><path d="M239 301L242.5 297.1" stroke="#685de1"/><path d="M223.4 310.6L239 301" stroke="#685ee1"/><path d="M242.5 297.1L245.9 290.8L230.4 301.8L226.9 306.9Z"/><path d="M242.5 297.1L245.9 290.8" stroke="#655de5"/><path d="M226.9 306.9L242.5 297.1" stroke="#665de4"/><path d="M245.9 290.8L249.4 281.5L233.8 295L230.4 301.8Z"/><path d="M245.9 290.8L249.4 281.5" stroke="#625ceb"/><path d="M230.4 301.8L245.9 290.8" stroke="#645de8"/><path d="M249.4 281.5L252.9 268.4L237.3 286.2L233.8 295Z"/><path d="M249.4 281.5L252.9 268.4" stroke="#5963f2"/><path d="M233.8 295L249.4 281.5" stroke="#5f5dee"/><path d="M252.9 268.4L256.4 251.5L240.8 275.6L237.3 286.2Z"/><path d="M252.9 268.4L256.4 251.5" stroke="#4d70fa"/><path d="M237.3 286.2L252.9 268.4" stroke="#5667f4"/><path d="M256.4 251.5L259.9 230.8L244.3 263.2L240.8 275.6Z"/><path d="M256.4 251.5L259.9 230.8" stroke="#2d89f0"/><path d="M240.8 275.6L256.4 251.5" stroke="#4973f9"/><path d="M259.9 230.8L263.3 207.3L247.7 249.4L244.3 263.2Z"/><path d="M259.9 230.8L263.3 207.3" stroke="#14a4de"/><path d="M244.3 263.2L259.9 230.8" stroke="#2d8af0"/><path d="M263.3 207.3L266.8 182.7L251.2 234.7L247.7 249.4Z"/><path d="M263.3 207.3L266.8 182.7" stroke="#1dbbbf"/><path d="M247.7 249.4L263.3 207.3" stroke="#17a1e1"/><path d="M266.8 182.7L270.3 159.1L254.7 220.1L251.2 234.7Z"/><path d="M266.8 182.7L270.3 159.1" stroke="#4ec892"/><path d="M251.2 234.7L259 208.7" stroke="#0eacd7"/><path d="M259 208.7L266.8 182.7" stroke="#20bdbb"/><path d="M270.3 159.1L273.8 139.2L258.2 206.4L254.7 220.1Z"/><path d="M270.3 159.1L273.8 139.2" stroke="#87cb6c"/><path d="M254.7 220.1L262.5 189.6" stroke="#1dbbbf"/><path d="M262.5 189.6L270.3 159.1" stroke="#4ec893"/><path d="M273.8 139.2L277.2 125.3L261.7 194.6L258.2 206.4Z"/><path d="M273.8 139.2L277.2 125.3" stroke="#b2c754"/><path d="M258.2 206.4L266 172.8" stroke="#38c5a4"/><path d="M266 172.8L273.8 139.2" stroke="#7ecb71"/><path d="M277.2 125.3L280.7 119.3L265.1 185.8L261.7 194.6Z"/><path d="M277.2 125.3L280.7 119.3" stroke="#cbc149"/><path d="M261.7 194.6L269.5 160" stroke="#59ca8a"/><path d="M269.5 160L277.2 125.3" stroke="#a1ca5c"/><path d="M280.7 119.3L284.2 119.5L268.6 180.6L265.1 185.8Z"/><path d="M280.7 119.3L284.2 119.5" stroke="#d3c046"/><path d="M265.1 185.8L272.9 152.5" stroke="#6fcc7a"/><path d="M272.9 152.5L280.7 119.3" stroke="#b3c754"/><path d="M284.2 119.5L287.7 120.7L272.1 179.6L268.6 180.6Z"/><path d="M284.2 119.5L287.7 120.7" stroke="#d3c046"/><path d="M268.6 180.6L276.4 150.1" stroke="#7acb74"/><path d="M276.4 150.1L284.2 119.5" stroke="#b7c652"/><path d="M287.7 120.7L291.2 122.6L275.6 180.9L272.1 179.6Z"/><path d="M287.7 120.7L291.2 122.6" stroke="#d0c047"/><path d="M272.1 179.6L279.9 150.2" stroke="#7dcb72"/><path d="M279.9 150.2L287.7 120.7" stroke="#b6c652"/><path d="M291.2 122.6L294.6 124.9L279 183.4L275.6 180.9Z"/><path d="M291.2 122.6L294.6 124.9" stroke="#cdc148"/><path d="M275.6 180.9L283.4 151.7" stroke="#7acb73"/><path d="M283.4 151.7L291.2 122.6" stroke="#b4c653"/><path d="M294.6 124.9L298.1 127.6L282.5 187.1L279 183.4Z"/><path d="M294.6 124.9L298.1 127.6" stroke="#c8c24a"/><path d="M279 183.4L286.8 154.2" stroke="#75cb76"/><path d="M286.8 154.2L294.6 124.9" stroke="#b0c755"/><path d="M298.1 127.6L301.6 130.6L286 191.6L282.5 187.1Z"/><path d="M298.1 127.6L301.6 130.6" stroke="#c3c34d"/><path d="M282.5 187.1L290.3 157.3" stroke="#6ecc7b"/><path d="M290.3 157.3L298.1 127.6" stroke="#aac957"/><path d="M301.6 130.6L305.1 133.9L289.5 196.8L286 191.6Z"/><path d="M301.6 130.6L305.1 133.9" stroke="#bdc44f"/><path d="M286 191.6L293.8 161.1" stroke="#65cc80"/><path d="M293.8 161.1L301.6 130.6" stroke="#a3ca5b"/><path d="M305.1 133.9L308.5 137.5L293 202.4L289.5 196.8Z"/><path d="M305.1 133.9L308.5 137.5" stroke="#b6c652"/><path d="M289.5 196.8L297.3 165.4" stroke="#5bca89"/><path d="M297.3 165.4L305.1 133.9" stroke="#9bca60"/><path d="M308.5 137.5L312 141.6L296.4 208.2L293 202.4Z"/><path d="M308.5 137.5L312 141.6" stroke="#aec855"/><path d="M293 202.4L300.8 170" stroke="#4fc892"/><path d="M300.8 170L308.5 137.5" stroke="#92ca65"/><path d="M312 141.6L315.5 146.4L299.9 213.8L296.4 208.2Z"/><path d="M312 141.6L315.5 146.4" stroke="#a5c959"/><path d="M296.4 208.2L304.2 174.9" stroke="#43c69c"/><path d="M304.2 174.9L312 141.6" stroke="#88cb6b"/><path d="M315.5 146.4L319 152.2L303.4 219.2L299.9 213.8Z"/><path d="M315.5 146.4L319 152.2" stroke="#99ca61"/><path d="M299.9 213.8L307.7 180.1" stroke="#37c4a5"/><path d="M307.7 180.1L315.5 146.4" stroke="#7dcb72"/><path d="M319 152.2L322.5 159.1L306.9 224.1L303.4 219.2Z"/><path d="M319 152.2L322.5 159.1" stroke="#8bcb69"/><path d="M303.4 219.2L311.2 185.7" stroke="#2ac2af"/><path d="M311.2 185.7L319 152.2" stroke="#70cc7a"/><path d="M322.5 159.1L325.9 167.4L310.3 228.8L306.9 224.1Z"/><path d="M322.5 159.1L325.9 167.4" stroke="#79cb74"/><path d="M306.9 224.1L314.7 191.6" stroke="#23bfb7"/><path d="M314.7 191.6L322.5 159.1" stroke="#61cb83"/><path d="M325.9 167.4L329.4 176.7L313.8 233.4L310.3 228.8Z"/><path d="M325.9 167.4L329.4 176.7" stroke="#64cc81"/><path d="M310.3 228.8L318.1 198.1" stroke="#1ebbbe"/><path d="M318.1 198.1L325.9 167.4" stroke="#50c891"/><path d="M329.4 176.7L332.9 186.8L317.3 238.1L313.8 233.4Z"/><path d="M329.4 176.7L332.9 186.8" stroke="#4dc894"/><path d="M313.8 233.4L321.6 205" stroke="#19b7c6"/><path d="M321.6 205L329.4 176.7" stroke="#3dc5a1"/><path d="M332.9 186.8L336.4 197.4L320.8 243.4L317.3 238.1Z"/><path d="M332.9 186.8L336.4 197.4" stroke="#34c4a7"/><path d="M317.3 238.1L325.1 212.4" stroke="#13b2cd"/><path d="M325.1 212.4L332.9 186.8" stroke="#28c2b1"/><path d="M336.4 197.4L339.8 208.4L324.3 249.5L320.8 243.4Z"/><path d="M336.4 197.4L339.8 208.4" stroke="#21beb9"/><path d="M320.8 243.4L336.4 197.4" stroke="#15b4ca"/><path d="M339.8 208.4L343.3 219.5L327.7 256.6L324.3 249.5Z"/><path d="M339.8 208.4L343.3 219.5" stroke="#17b5c8"/><path d="M324.3 249.5L339.8 208.4" stroke="#0daed5"/><path d="M343.3 219.5L346.8 230.5L331.2 264.1L327.7 256.6Z"/><path d="M343.3 219.5L346.8 230.5" stroke="#0dadd7"/><path d="M327.7 256.6L343.3 219.5" stroke="#14a4dd"/><path d="M346.8 230.5L350.3 241.2L334.7 271.6L331.2 264.1Z"/><path d="M346.8 230.5L350.3 241.2" stroke="#17a1e0"/><path d="M331.2 264.1L346.8 230.5" stroke="#1c9be5"/><path d="M350.3 241.2L353.8 251.3L338.2 279.2L334.7 271.6Z"/><path d="M350.3 241.2L353.8 251.3" stroke="#2096e9"/><path d="M334.7 271.6L350.3 241.2" stroke="#2491ed"/><path d="M353.8 251.3L357.2 260.1L341.6 286.6L338.2 279.2Z"/><path d="M353.8 251.3L357.2 260.1" stroke="#2b8bef"/><path d="M338.2 279.2L353.8 251.3" stroke="#3186f1"/><path d="M357.2 260.1L360.7 266.5L345.1 293.9L341.6 286.6Z"/><path d="M357.2 260.1L360.7 266.5" stroke="#3682f3"/><path d="M341.6 286.6L357.2 260.1" stroke="#3d7cf5"/><path d="M360.7 266.5L364.2 270.2L348.6 300.8L345.1 293.9Z"/><path d="M360.7 266.5L364.2 270.2" stroke="#3e7cf5"/><path d="M345.1 293.9L360.7 266.5" stroke="#4874f8"/><path d="M364.2 270.2L367.7 273.3L352.1 307.4L348.6 300.8Z"/><path d="M364.2 270.2L367.7 273.3" stroke="#4278f7"/><path d="M348.6 300.8L364.2 270.2" stroke="#4e6ff9"/><path d="M367.7 273.3L371.1 277.7L355.6 313.4L352.1 307.4Z"/><path d="M367.7 273.3L371.1 277.7" stroke="#4774f8"/><path d="M352.1 307.4L367.7 273.3" stroke="#516bf7"/><path d="M371.1 277.7L374.6 283.1L359 318.9L355.6 313.4Z"/><path d="M371.1 277.7L374.6 283.1" stroke="#4e6ff9"/><path d="M355.6 313.4L371.1 277.7" stroke="#5568f4"/><path d="M374.6 283.1L378.1 288.5L362.5 323.9L359 318.9Z"/><path d="M374.6 283.1L378.1 288.5" stroke="#516bf7"/><path d="M359 318.9L374.6 283.1" stroke="#5964f2"/><path d="M378.1 288.5L381.6 293.8L366 328.2L362.5 323.9Z"/><path d="M378.1 288.5L381.6 293.8" stroke="#5567f4"/><path d="M362.5 323.9L378.1 288.5" stroke="#5d60f0"/><path d="M381.6 293.8L385.1 299L369.5 331.9L366 328.2Z"/><path d="M381.6 293.8L385.1 299" stroke="#5964f2"/><path d="M366 328.2L381.6 293.8" stroke="#605cee"/><path d="M385.1 299L388.5 304.1L372.9 335.1L369.5 331.9Z"/><path d="M385.1 299L388.5 304.1" stroke="#5d60f0"/><path d="M369.5 331.9L385.1 299" stroke="#625ceb"/><path d="M388.5 304.1L392 308.9L376.4 337.9L372.9 335.1Z"/><path d="M388.5 304.1L392 308.9" stroke="#605ced"/><path d="M372.9 335.1L388.5 304.1" stroke="#645ce8"/><path d="M392 308.9L395.5 313.4L379.9 340.1L376.4 337.9Z"/><path d="M392 308.9L395.5 313.4" stroke="#625ceb"/><path d="M376.4 337.9L392 308.9" stroke="#655de6"/><path d="M395.5 313.4L399 317.5L383.4 342L379.9 340.1Z"/><path d="M395.5 313.4L399 317.5" stroke="#645de8"/><path d="M379.9 340.1L395.5 313.4" stroke="#665de4"/><path d="M399 317.5L402.4 321.2L386.9 343.6L383.4 342Z"/><path d="M399 317.5L402.4 321.2" stroke="#655de6"/><path d="M383.4 342L399 317.5" stroke="#675de2"/><path d="M402.4 321.2L405.9 324.4L390.3 345L386.9 343.6Z"/><path d="M402.4 321.2L405.9 324.4" stroke="#665de4"/><path d="M386.9 343.6L402.4 321.2" stroke="#685ee1"/><path d="M405.9 324.4L409.4 327.1L393.8 346.1L390.3 345Z"/><path d="M405.9 324.4L409.4 327.1" stroke="#675de2"/><path d="M390.3 345L405.9 324.4" stroke="#695ee0"/><path d="M409.4 327.1L412.9 329.4L397.3 347.1L393.8 346.1Z"/><path d="M409.4 327.1L412.9 329.4" stroke="#685ee1"/><path d="M393.8 346.1L409.4 327.1" stroke="#695edf"/><path d="M412.9 329.4L416.4 331.4L400.8 347.9L397.3 347.1Z"/><path d="M412.9 329.4L416.4 331.4" stroke="#695edf"/><path d="M397.3 347.1L412.9 329.4" stroke="#6a5ede"/><path d="M416.4 331.4L419.8 333.1L404.2 348.7L400.8 347.9Z"/><path d="M416.4 331.4L419.8 333.1" stroke="#695edf"/><path d="M400.8 347.9L416.4 331.4" stroke="#6a5edd"/><path d="M419.8 333.1L423.3 334.5L407.7 349.4L404.2 348.7Z"/><path d="M419.8 333.1L423.3 334.5" stroke="#6a5ede"/><path d="M404.2 348.7L419.8 333.1" stroke="#6a5edd"/><path d="M423.3 334.5L426.8 335.8L411.2 350.1L407.7 349.4Z"/><path d="M423.3 334.5L426.8 335.8M407.7 349.4L423.3 334.5" stroke="#6a5edd"/><path d="M426.8 335.8L430.3 336.9L414.7 350.7L411.2 350.1Z"/><path d="M426.8 335.8L430.3 336.9" stroke="#6a5edd"/><path d="M411.2 350.1L426.8 335.8" stroke="#6b5edc"/><path d="M430.3 336.9L433.7 337.9L418.2 351.3L414.7 350.7Z"/><path d="M430.3 336.9L433.7 337.9" stroke="#6a5edd"/><path d="M414.7 350.7L430.3 336.9" stroke="#6b5edc"/><path d="M433.7 337.9L437.2 338.8L421.6 352L418.2 351.3Z"/><path d="M433.7 337.9L437.2 338.8M418.2 351.3L433.7 337.9" stroke="#6b5edc"/><path d="M437.2 338.8L440.7 339.6L425.1 352.5L421.6 352Z"/><path d="M437.2 338.8L440.7 339.6M421.6 352L437.2 338.8" stroke="#6b5edc"/><path d="M440.7 339.6L444.2 340.4L428.6 353.1L425.1 352.5Z"/><path d="M440.7 339.6L444.2 340.4M425.1 352.5L440.7 339.6" stroke="#6b5edc"/><path d="M444.2 340.4L447.7 341.1L432.1 353.7L428.6 353.1Z"/><path d="M444.2 340.4L447.7 341.1M428.6 353.1L444.2 340.4" stroke="#6b5edc"/><path d="M447.7 341.1L451.1 341.8L435.6 354.3L432.1 353.7Z"/><path d="M447.7 341.1L451.1 341.8M432.1 353.7L447.7 341.1" stroke="#6b5edc"/><path d="M451.1 341.8L454.6 342.5L439 354.9L435.6 354.3Z"/><path d="M451.1 341.8L454.6 342.5" stroke="#6b5edc"/><path d="M435.6 354.3L451.1 341.8" stroke="#6b5edb"/><path d="M454.6 342.5L458.1 343.1L442.5 355.4L439 354.9Z"/><path d="M454.6 342.5L458.1 343.1" stroke="#6b5edc"/><path d="M439 354.9L454.6 342.5" stroke="#6b5edb"/><path d="M458.1 343.1L461.6 343.8L446 356L442.5 355.4Z"/><path d="M458.1 343.1L461.6 343.8M442.5 355.4L458.1 343.1" stroke="#6b5edb"/><path d="M461.6 343.8L465 344.4L449.5 356.6L446 356Z"/><path d="M461.6 343.8L465 344.4M446 356L461.6 343.8" stroke="#6b5edb"/><path d="M465 344.4L468.5 345L452.9 357.2L449.5 356.6Z"/><path d="M465 344.4L468.5 345M449.5 356.6L465 344.4" stroke="#6b5edb"/><path d="M468.5 345L472 345.6L456.4 357.7L452.9 357.2Z"/><path d="M468.5 345L472 345.6M452.9 357.2L468.5 345" stroke="#6b5edb"/><path d="M472 345.6L475.5 346.2L459.9 358.3L456.4 357.7Z"/><path d="M472 345.6L475.5 346.2M456.4 357.7L472 345.6" stroke="#6b5edb"/><path d="M475.5 346.2L479 346.8L463.4 358.9L459.9 358.3Z"/><path d="M475.5 346.2L479 346.8M459.9 358.3L475.5 346.2" stroke="#6b5edb"/><path d="M479 346.8L482.4 347.4L466.9 359.4L463.4 358.9Z"/><path d="M479 346.8L482.4 347.4M463.4 358.9L479 346.8" stroke="#6b5edb"/><path d="M482.4 347.4L485.9 347.9L470.3 360L466.9 359.4Z"/><path d="M482.4 347.4L485.9 347.9M466.9 359.4L482.4 347.4" stroke="#6b5edb"/><path d="M485.9 347.9L489.4 348.5L473.8 360.6L470.3 360Z"/><path d="M485.9 347.9L489.4 348.5M470.3 360L485.9 347.9" stroke="#6b5edb"/><path d="M489.4 348.5L492.9 349.1L477.3 361.1L473.8 360.6Z"/><path d="M489.4 348.5L492.9 349.1M473.8 360.6L489.4 348.5" stroke="#6b5edb"/><path d="M492.9 349.1L496.3 349.6L480.8 361.7L477.3 361.1Z"/><path d="M492.9 349.1L496.3 349.6M477.3 361.1L492.9 349.1" stroke="#6b5edb"/><path d="M496.3 349.6L499.8 350.1L484.2 362.2L480.8 361.7Z"/><path d="M496.3 349.6L499.8 350.1M480.8 361.7L496.3 349.6" stroke="#6b5edb"/><path d="M499.8 350.1L503.3 350.6L487.7 362.7L484.2 362.2Z"/><path d="M499.8 350.1L503.3 350.6M484.2 362.2L499.8 350.1" stroke="#6b5edb"/><path d="M503.3 350.6L506.8 350.9L491.2 363.1L487.7 362.7Z"/><path d="M503.3 350.6L506.8 350.9" stroke="#6b5edc"/><path d="M487.7 362.7L503.3 350.6" stroke="#6b5edb"/><path d="M506.8 350.9L510.3 351.1L494.7 363.3L491.2 363.1Z"/><path d="M506.8 350.9L510.3 351.1M491.2 363.1L506.8 350.9" stroke="#6b5edc"/><path d="M510.3 351.1L513.7 351.1L498.2 363.4L494.7 363.3Z"/><path d="M510.3 351.1L513.7 351.1M494.7 363.3L510.3 351.1" stroke="#6b5edc"/><path d="M513.7 351.1L517.2 350.8L501.6 363.2L498.2 363.4Z"/><path d="M513.7 351.1L517.2 350.8" stroke="#6a5edd"/><path d="M498.2 363.4L513.7 351.1" stroke="#6b5edc"/><path d="M517.2 350.8L520.7 350L505.1 362.7L501.6 363.2Z"/><path d="M517.2 350.8L520.7 350M501.6 363.2L517.2 350.8" stroke="#6a5edd"/><path d="M520.7 350L524.2 348.7L508.6 361.8L505.1 362.7Z"/><path d="M520.7 350L524.2 348.7" stroke="#695edf"/><path d="M505.1 362.7L520.7 350" stroke="#6a5ede"/><path d="M524.2 348.7L527.6 346.8L512.1 360.3L508.6 361.8Z"/><path d="M524.2 348.7L527.6 346.8" stroke="#685ee0"/><path d="M508.6 361.8L524.2 348.7" stroke="#695edf"/><path d="M527.6 346.8L531.1 344.4L515.5 358.5L512.1 360.3Z"/><path d="M527.6 346.8L531.1 344.4" stroke="#675de2"/><path d="M512.1 360.3L527.6 346.8" stroke="#685ee0"/><path d="M531.1 344.4L534.6 341.6L519 356.3L515.5 358.5Z"/><path d="M531.1 344.4L534.6 341.6" stroke="#665de4"/><path d="M515.5 358.5L531.1 344.4" stroke="#675de2"/><path d="M534.6 341.6L538.1 338.5L522.5 354L519 356.3Z"/><path d="M534.6 341.6L538.1 338.5" stroke="#655de7"/><path d="M519 356.3L534.6 341.6" stroke="#665de5"/><path d="M538.1 338.5L541.6 335.6L526 351.7L522.5 354Z"/><path d="M538.1 338.5L541.6 335.6" stroke="#635ce9"/><path d="M522.5 354L538.1 338.5" stroke="#645de7"/><path d="M541.6 335.6L545 333.2L529.5 349.8L526 351.7Z"/><path d="M541.6 335.6L545 333.2" stroke="#625cec"/><path d="M526 351.7L541.6 335.6" stroke="#635ce9"/><path d="M545 333.2L548.5 331.6L532.9 348.7L529.5 349.8Z"/><path d="M545 333.2L548.5 331.6" stroke="#615ced"/><path d="M529.5 349.8L545 333.2" stroke="#625ceb"/><path d="M548.5 331.6L552 331.1L536.4 348.4L532.9 348.7Z"/><path d="M548.5 331.6L552 331.1" stroke="#5f5eee"/><path d="M532.9 348.7L548.5 331.6" stroke="#615cec"/><path d="M552 331.1L555.5 331.9L539.9 349.1L536.4 348.4Z"/><path d="M552 331.1L555.5 331.9" stroke="#5f5eee"/><path d="M536.4 348.4L552 331.1" stroke="#615ced"/><path d="M555.5 331.9L558.9 333.9L543.4 350.9L539.9 349.1Z"/><path d="M555.5 331.9L558.9 333.9" stroke="#605dee"/><path d="M539.9 349.1L555.5 331.9" stroke="#615ced"/><path d="M558.9 333.9L562.4 337L546.8 353.4L543.4 350.9Z"/><path d="M558.9 333.9L562.4 337" stroke="#615ced"/><path d="M543.4 350.9L558.9 333.9" stroke="#615cec"/><path d="M562.4 337L565.9 340.7L550.3 356.6L546.8 353.4Z"/><path d="M562.4 337L565.9 340.7M546.8 353.4L562.4 337" stroke="#625ceb"/><path d="M565.9 340.7L569.4 344.9L553.8 360.1L550.3 356.6Z"/><path d="M565.9 340.7L569.4 344.9" stroke="#645ce9"/><path d="M550.3 356.6L565.9 340.7" stroke="#645ce8"/><path d="M569.4 344.9L572.9 349L557.3 363.5L553.8 360.1Z"/><path d="M569.4 344.9L572.9 349M553.8 360.1L569.4 344.9" stroke="#655de6"/><path d="M572.9 349L576.3 352.8L560.8 366.8L557.3 363.5Z"/><path d="M572.9 349L576.3 352.8M557.3 363.5L572.9 349" stroke="#665de4"/><path d="M576.3 352.8L579.8 356.2L564.2 369.6L560.8 366.8Z"/><path d="M576.3 352.8L579.8 356.2" stroke="#685de1"/><path d="M560.8 366.8L576.3 352.8" stroke="#675de2"/><path d="M579.8 356.2L583.3 359.1L567.7 372L564.2 369.6Z"/><path d="M579.8 356.2L583.3 359.1" stroke="#695ee0"/><path d="M564.2 369.6L579.8 356.2" stroke="#685ee0"/><path d="M583.3 359.1L586.8 361.3L571.2 374L567.7 372Z"/><path d="M583.3 359.1L586.8 361.3M567.7 372L583.3 359.1" stroke="#695ede"/><path d="M586.8 361.3L590.2 363.1L574.7 375.5L571.2 374Z"/><path d="M586.8 361.3L590.2 363.1M571.2 374L586.8 361.3" stroke="#6a5edd"/><path d="M590.2 363.1L593.7 364.5L578.1 376.8L574.7 375.5Z"/><path d="M590.2 363.1L593.7 364.5" stroke="#6a5edc"/><path d="M574.7 375.5L590.2 363.1" stroke="#6a5edd"/><path d="M578.1 376.8L593.7 364.5" stroke="#6b5edc"/><path d="M192.1 314.1L195.6 314.6L180 326.7L176.5 326.2Z"/><path d="M192.1 314.1L195.6 314.6M176.5 326.2L192.1 314.1" stroke="#6b5edb"/><path d="M195.6 314.6L199.1 315.1L183.5 327.2L180 326.7Z"/><path d="M195.6 314.6L199.1 315.1M180 326.7L195.6 314.6" stroke="#6b5edb"/><path d="M199.1 315.1L202.5 315.5L187 327.6L183.5 327.2Z"/><path d="M199.1 315.1L202.5 315.5" stroke="#6b5edc"/><path d="M183.5 327.2L199.1 315.1" stroke="#6b5edb"/><path d="M202.5 315.5L206 315.7L190.4 328L187 327.6Z"/><path d="M202.5 315.5L206 315.7M187 327.6L202.5 315.5" stroke="#6b5edc"/><path d="M206 315.7L209.5 315.7L193.9 328.2L190.4 328Z"/><path d="M206 315.7L209.5 315.7M190.4 328L206 315.7" stroke="#6b5edc"/><path d="M209.5 315.7L213 315.4L197.4 328.3L193.9 328.2Z"/><path d="M209.5 315.7L213 315.4" stroke="#6a5edd"/><path d="M193.9 328.2L209.5 315.7" stroke="#6b5edc"/><path d="M213 315.4L216.4 314.5L200.9 328.2L197.4 328.3Z"/><path d="M213 315.4L216.4 314.5M197.4 328.3L213 315.4" stroke="#6a5edd"/><path d="M216.4 314.5L219.9 313L204.3 327.8L200.9 328.2Z"/><path d="M216.4 314.5L219.9 313" stroke="#695edf"/><path d="M200.9 328.2L216.4 314.5" stroke="#6a5edd"/><path d="M219.9 313L223.4 310.6L207.8 327L204.3 327.8Z"/><path d="M219.9 313L223.4 310.6" stroke="#685ee0"/><path d="M204.3 327.8L219.9 313" stroke="#695ede"/><path d="M223.4 310.6L226.9 306.9L211.3 325.7L207.8 327Z"/><path d="M223.4 310.6L226.9 306.9" stroke="#675de3"/><path d="M207.8 327L223.4 310.6" stroke="#685ee0"/><path d="M226.9 306.9L230.4 301.8L214.8 323.8L211.3 325.7Z"/><path d="M226.9 306.9L230.4 301.8" stroke="#655de7"/><path d="M211.3 325.7L226.9 306.9" stroke="#675de2"/><path d="M230.4 301.8L233.8 295L218.3 321.1L214.8 323.8Z"/><path d="M230.4 301.8L233.8 295" stroke="#625ceb"/><path d="M214.8 323.8L230.4 301.8" stroke="#665de5"/><path d="M233.8 295L237.3 286.2L221.7 317.5L218.3 321.1Z"/><path d="M233.8 295L237.3 286.2" stroke="#5c60f0"/><path d="M218.3 321.1L233.8 295" stroke="#635ce9"/><path d="M237.3 286.2L240.8 275.6L225.2 312.9L221.7 317.5Z"/><path d="M237.3 286.2L240.8 275.6" stroke="#5469f5"/><path d="M221.7 317.5L237.3 286.2" stroke="#605cee"/><path d="M240.8 275.6L244.3 263.2L228.7 307.2L225.2 312.9Z"/><path d="M240.8 275.6L244.3 263.2" stroke="#4874f8"/><path d="M225.2 312.9L240.8 275.6" stroke="#5a63f2"/><path d="M244.3 263.2L247.7 249.4L232.2 300.5L228.7 307.2Z"/><path d="M244.3 263.2L247.7 249.4" stroke="#3286f1"/><path d="M228.7 307.2L244.3 263.2" stroke="#526bf7"/><path d="M247.7 249.4L251.2 234.7L235.6 292.6L232.2 300.5Z"/><path d="M247.7 249.4L251.2 234.7" stroke="#1e98e7"/><path d="M232.2 300.5L240 274.9" stroke="#516cf7"/><path d="M240 274.9L247.7 249.4" stroke="#3683f3"/><path d="M251.2 234.7L254.7 220.1L239.1 283.9L235.6 292.6Z"/><path d="M251.2 234.7L254.7 220.1" stroke="#10a9d9"/><path d="M235.6 292.6L243.4 263.7" stroke="#4576f8"/><path d="M243.4 263.7L251.2 234.7" stroke="#2194eb"/><path d="M254.7 220.1L258.2 206.4L242.6 274.4L239.1 283.9Z"/><path d="M254.7 220.1L258.2 206.4" stroke="#18b6c6"/><path d="M239.1 283.9L246.9 252" stroke="#3385f2"/><path d="M246.9 252L254.7 220.1" stroke="#15a3de"/><path d="M258.2 206.4L261.7 194.6L246.1 264.5L242.6 274.4Z"/><path d="M258.2 206.4L261.7 194.6" stroke="#26c1b3"/><path d="M242.6 274.4L250.4 240.4" stroke="#2293ec"/><path d="M250.4 240.4L258.2 206.4" stroke="#11b1d0"/><path d="M261.7 194.6L265.1 185.8L249.6 254.5L246.1 264.5Z"/><path d="M261.7 194.6L265.1 185.8" stroke="#40c69e"/><path d="M246.1 264.5L253.9 229.5" stroke="#189fe2"/><path d="M253.9 229.5L261.7 194.6" stroke="#1dbbbf"/><path d="M265.1 185.8L268.6 180.6L253 245L249.6 254.5Z"/><path d="M265.1 185.8L268.6 180.6" stroke="#53c98e"/><path d="M249.6 254.5L257.3 220.2" stroke="#0fabd9"/><path d="M257.3 220.2L265.1 185.8" stroke="#28c2b1"/><path d="M268.6 180.6L272.1 179.6L256.5 236.4L253 245Z"/><path d="M268.6 180.6L272.1 179.6" stroke="#5dcb87"/><path d="M253 245L260.8 212.8" stroke="#13b3cd"/><path d="M260.8 212.8L268.6 180.6" stroke="#39c5a3"/><path d="M272.1 179.6L275.6 180.9L260 229.2L256.5 236.4Z"/><path d="M272.1 179.6L275.6 180.9" stroke="#5ecb86"/><path d="M256.5 236.4L264.3 208" stroke="#1bb9c3"/><path d="M264.3 208L272.1 179.6" stroke="#42c69c"/><path d="M275.6 180.9L279 183.4L263.5 223.7L260 229.2Z"/><path d="M275.6 180.9L279 183.4" stroke="#5aca89"/><path d="M260 229.2L267.8 205" stroke="#21bdbb"/><path d="M267.8 205L275.6 180.9" stroke="#46c799"/><path d="M279 183.4L282.5 187.1L266.9 220.4L263.5 223.7Z"/><path d="M279 183.4L282.5 187.1" stroke="#54c98e"/><path d="M263.5 223.7L279 183.4" stroke="#34c4a7"/><path d="M282.5 187.1L286 191.6L270.4 219.4L266.9 220.4Z"/><path d="M282.5 187.1L286 191.6" stroke="#4bc895"/><path d="M266.9 220.4L282.5 187.1" stroke="#35c4a7"/><path d="M286 191.6L289.5 196.8L273.9 220.2L270.4 219.4Z"/><path d="M286 191.6L289.5 196.8" stroke="#40c69e"/><path d="M270.4 219.4L286 191.6" stroke="#32c4a9"/><path d="M289.5 196.8L293 202.4L277.4 222.4L273.9 220.2Z"/><path d="M289.5 196.8L293 202.4" stroke="#34c4a8"/><path d="M273.9 220.2L289.5 196.8" stroke="#2cc3ae"/><path d="M293 202.4L296.4 208.2L280.9 225.6L277.4 222.4Z"/><path d="M293 202.4L296.4 208.2" stroke="#27c2b2"/><path d="M277.4 222.4L293 202.4" stroke="#25c1b4"/><path d="M296.4 208.2L299.9 213.8L284.3 229.9L280.9 225.6Z"/><path d="M296.4 208.2L299.9 213.8" stroke="#21beb9"/><path d="M280.9 225.6L296.4 208.2" stroke="#21beba"/><path d="M299.9 213.8L303.4 219.2L287.8 235.1L284.3 229.9Z"/><path d="M299.9 213.8L303.4 219.2" stroke="#1cbac0"/><path d="M284.3 229.9L299.9 213.8" stroke="#1dbac0"/><path d="M303.4 219.2L306.9 224.1L291.3 240.9L287.8 235.1Z"/><path d="M303.4 219.2L306.9 224.1M287.8 235.1L303.4 219.2" stroke="#18b6c7"/><path d="M306.9 224.1L310.3 228.8L294.8 247.1L291.3 240.9Z"/><path d="M306.9 224.1L310.3 228.8" stroke="#13b3cd"/><path d="M291.3 240.9L306.9 224.1" stroke="#13b2cd"/><path d="M310.3 228.8L313.8 233.4L298.2 253.6L294.8 247.1Z"/><path d="M310.3 228.8L313.8 233.4" stroke="#0fafd3"/><path d="M294.8 247.1L310.3 228.8" stroke="#0eaed4"/><path d="M313.8 233.4L317.3 238.1L301.7 260.1L298.2 253.6Z"/><path d="M313.8 233.4L317.3 238.1" stroke="#0eacd8"/><path d="M298.2 253.6L313.8 233.4" stroke="#10a9da"/><path d="M317.3 238.1L320.8 243.4L305.2 266.6L301.7 260.1Z"/><path d="M317.3 238.1L320.8 243.4" stroke="#12a7dc"/><path d="M301.7 260.1L317.3 238.1" stroke="#15a4de"/><path d="M320.8 243.4L324.3 249.5L308.7 272.7L305.2 266.6Z"/><path d="M320.8 243.4L324.3 249.5" stroke="#17a1e0"/><path d="M305.2 266.6L320.8 243.4" stroke="#1a9ee3"/><path d="M324.3 249.5L327.7 256.6L312.2 278.6L308.7 272.7Z"/><path d="M324.3 249.5L327.7 256.6" stroke="#1d9ae6"/><path d="M308.7 272.7L324.3 249.5" stroke="#1f98e8"/><path d="M327.7 256.6L331.2 264.1L315.6 284.1L312.2 278.6Z"/><path d="M327.7 256.6L331.2 264.1" stroke="#2393ec"/><path d="M312.2 278.6L327.7 256.6" stroke="#2491ed"/><path d="M331.2 264.1L334.7 271.6L319.1 289.2L315.6 284.1Z"/><path d="M331.2 264.1L334.7 271.6" stroke="#2d8af0"/><path d="M315.6 284.1L331.2 264.1" stroke="#2e89f0"/><path d="M334.7 271.6L338.2 279.2L322.6 294L319.1 289.2Z"/><path d="M334.7 271.6L338.2 279.2" stroke="#3880f4"/><path d="M319.1 289.2L334.7 271.6" stroke="#3781f3"/><path d="M338.2 279.2L341.6 286.6L326.1 298.5L322.6 294Z"/><path d="M338.2 279.2L341.6 286.6" stroke="#4477f7"/><path d="M322.6 294L338.2 279.2" stroke="#407af6"/><path d="M341.6 286.6L345.1 293.9L329.5 302.8L326.1 298.5Z"/><path d="M341.6 286.6L345.1 293.9" stroke="#4e6ff9"/><path d="M326.1 298.5L341.6 286.6" stroke="#4973f9"/><path d="M345.1 293.9L348.6 300.8L333 307L329.5 302.8Z"/><path d="M345.1 293.9L348.6 300.8" stroke="#536af6"/><path d="M329.5 302.8L345.1 293.9" stroke="#4f6ef8"/><path d="M348.6 300.8L352.1 307.4L336.5 311.1L333 307Z"/><path d="M348.6 300.8L352.1 307.4" stroke="#5865f3"/><path d="M333 307L348.6 300.8" stroke="#536af6"/><path d="M352.1 307.4L355.6 313.4L340 315L336.5 311.1Z"/><path d="M352.1 307.4L355.6 313.4" stroke="#5d60f0"/><path d="M336.5 311.1L352.1 307.4" stroke="#5766f3"/><path d="M355.6 313.4L359 318.9L343.5 318.7L340 315Z"/><path d="M355.6 313.4L359 318.9" stroke="#615ced"/><path d="M340 315L355.6 313.4" stroke="#5b62f1"/><path d="M359 318.9L362.5 323.9L346.9 322.2L343.5 318.7Z"/><path d="M359 318.9L362.5 323.9" stroke="#635cea"/><path d="M343.5 318.7L359 318.9" stroke="#5e5fef"/><path d="M362.5 323.9L366 328.2L350.4 325.5L346.9 322.2Z"/><path d="M362.5 323.9L366 328.2" stroke="#645de7"/><path d="M346.9 322.2L362.5 323.9" stroke="#615ced"/><path d="M366 328.2L369.5 331.9L353.9 328.8L350.4 325.5Z"/><path d="M366 328.2L369.5 331.9" stroke="#665de5"/><path d="M350.4 325.5L366 328.2" stroke="#625ceb"/><path d="M369.5 331.9L372.9 335.1L357.4 331.9L353.9 328.8Z"/><path d="M369.5 331.9L372.9 335.1" stroke="#675de3"/><path d="M353.9 328.8L369.5 331.9" stroke="#635ce9"/><path d="M372.9 335.1L376.4 337.9L360.8 334.9L357.4 331.9Z"/><path d="M372.9 335.1L376.4 337.9" stroke="#685ee1"/><path d="M357.4 331.9L372.9 335.1" stroke="#645de7"/><path d="M376.4 337.9L379.9 340.1L364.3 337.7L360.8 334.9Z"/><path d="M376.4 337.9L379.9 340.1" stroke="#695edf"/><path d="M360.8 334.9L376.4 337.9" stroke="#655de5"/><path d="M379.9 340.1L383.4 342L367.8 340.5L364.3 337.7Z"/><path d="M379.9 340.1L383.4 342" stroke="#695ede"/><path d="M364.3 337.7L379.9 340.1" stroke="#665de4"/><path d="M383.4 342L386.9 343.6L371.3 343.2L367.8 340.5Z"/><path d="M383.4 342L386.9 343.6" stroke="#6a5ede"/><path d="M367.8 340.5L383.4 342" stroke="#675de3"/><path d="M386.9 343.6L390.3 345L374.8 345.7L371.3 343.2Z"/><path d="M386.9 343.6L390.3 345" stroke="#6a5edd"/><path d="M371.3 343.2L386.9 343.6" stroke="#675de2"/><path d="M390.3 345L393.8 346.1L378.2 348L374.8 345.7Z"/><path d="M390.3 345L393.8 346.1" stroke="#6a5edc"/><path d="M374.8 345.7L390.3 345" stroke="#685ee1"/><path d="M393.8 346.1L397.3 347.1L381.7 350.2L378.2 348Z"/><path d="M393.8 346.1L397.3 347.1" stroke="#6b5edc"/><path d="M378.2 348L393.8 346.1" stroke="#695ee0"/><path d="M397.3 347.1L400.8 347.9L385.2 352.3L381.7 350.2Z"/><path d="M397.3 347.1L400.8 347.9" stroke="#6b5edc"/><path d="M381.7 350.2L397.3 347.1" stroke="#695edf"/><path d="M400.8 347.9L404.2 348.7L388.7 354.2L385.2 352.3Z"/><path d="M400.8 347.9L404.2 348.7" stroke="#6b5edc"/><path d="M385.2 352.3L400.8 347.9" stroke="#695ede"/><path d="M404.2 348.7L407.7 349.4L392.1 356L388.7 354.2Z"/><path d="M404.2 348.7L407.7 349.4" stroke="#6b5edc"/><path d="M388.7 354.2L404.2 348.7" stroke="#6a5ede"/><path d="M407.7 349.4L411.2 350.1L395.6 357.6L392.1 356Z"/><path d="M407.7 349.4L411.2 350.1" stroke="#6b5edb"/><path d="M392.1 356L407.7 349.4" stroke="#6a5edd"/><path d="M411.2 350.1L414.7 350.7L399.1 359L395.6 357.6Z"/><path d="M411.2 350.1L414.7 350.7" stroke="#6b5edb"/><path d="M395.6 357.6L411.2 350.1" stroke="#6a5edd"/><path d="M414.7 350.7L418.2 351.3L402.6 360.4L399.1 359Z"/><path d="M414.7 350.7L418.2 351.3" stroke="#6b5edb"/><path d="M399.1 359L414.7 350.7" stroke="#6a5edd"/><path d="M418.2 351.3L421.6 352L406.1 361.6L402.6 360.4Z"/><path d="M418.2 351.3L421.6 352" stroke="#6b5edb"/><path d="M402.6 360.4L418.2 351.3" stroke="#6a5edc"/><path d="M421.6 352L425.1 352.5L409.5 362.7L406.1 361.6Z"/><path d="M421.6 352L425.1 352.5" stroke="#6b5edb"/><path d="M406.1 361.6L421.6 352" stroke="#6b5edc"/><path d="M425.1 352.5L428.6 353.1L413 363.7L409.5 362.7Z"/><path d="M425.1 352.5L428.6 353.1" stroke="#6b5edb"/><path d="M409.5 362.7L425.1 352.5" stroke="#6b5edc"/><path d="M428.6 353.1L432.1 353.7L416.5 364.6L413 363.7Z"/><path d="M428.6 353.1L432.1 353.7" stroke="#6b5edb"/><path d="M413 363.7L428.6 353.1" stroke="#6b5edc"/><path d="M432.1 353.7L435.6 354.3L420 365.5L416.5 364.6Z"/><path d="M432.1 353.7L435.6 354.3" stroke="#6b5edb"/><path d="M416.5 364.6L432.1 353.7" stroke="#6b5edc"/><path d="M435.6 354.3L439 354.9L423.4 366.2L420 365.5Z"/><path d="M435.6 354.3L439 354.9" stroke="#6b5edb"/><path d="M420 365.5L435.6 354.3" stroke="#6b5edc"/><path d="M439 354.9L442.5 355.4L426.9 367L423.4 366.2Z"/><path d="M439 354.9L442.5 355.4" stroke="#6b5edb"/><path d="M423.4 366.2L439 354.9" stroke="#6b5edc"/><path d="M442.5 355.4L446 356L430.4 367.7L426.9 367Z"/><path d="M442.5 355.4L446 356M426.9 367L442.5 355.4" stroke="#6b5edb"/><path d="M446 356L449.5 356.6L433.9 368.4L430.4 367.7Z"/><path d="M446 356L449.5 356.6M430.4 367.7L446 356" stroke="#6b5edb"/><path d="M449.5 356.6L452.9 357.2L437.4 369L433.9 368.4Z"/><path d="M449.5 356.6L452.9 357.2M433.9 368.4L449.5 356.6" stroke="#6b5edb"/><path d="M452.9 357.2L456.4 357.7L440.8 369.6L437.4 369Z"/><path d="M452.9 357.2L456.4 357.7M437.4 369L452.9 357.2" stroke="#6b5edb"/><path d="M456.4 357.7L459.9 358.3L444.3 370.2L440.8 369.6Z"/><path d="M456.4 357.7L459.9 358.3M440.8 369.6L456.4 357.7" stroke="#6b5edb"/><path d="M459.9 358.3L463.4 358.9L447.8 370.8L444.3 370.2Z"/><path d="M459.9 358.3L463.4 358.9M444.3 370.2L459.9 358.3" stroke="#6b5edb"/><path d="M463.4 358.9L466.9 359.4L451.3 371.4L447.8 370.8Z"/><path d="M463.4 358.9L466.9 359.4M447.8 370.8L463.4 358.9" stroke="#6b5edb"/><path d="M466.9 359.4L470.3 360L454.7 372L451.3 371.4Z"/><path d="M466.9 359.4L470.3 360M451.3 371.4L466.9 359.4" stroke="#6b5edb"/><path d="M470.3 360L473.8 360.6L458.2 372.6L454.7 372Z"/><path d="M470.3 360L473.8 360.6M454.7 372L470.3 360" stroke="#6b5edb"/><path d="M473.8 360.6L477.3 361.1L461.7 373.2L458.2 372.6Z"/><path d="M473.8 360.6L477.3 361.1M458.2 372.6L473.8 360.6" stroke="#6b5edb"/><path d="M477.3 361.1L480.8 361.7L465.2 373.7L461.7 373.2Z"/><path d="M477.3 361.1L480.8 361.7M461.7 373.2L477.3 361.1" stroke="#6b5edb"/><path d="M480.8 361.7L484.2 362.2L468.7 374.3L465.2 373.7Z"/><path d="M480.8 361.7L484.2 362.2M465.2 373.7L480.8 361.7" stroke="#6b5edb"/><path d="M484.2 362.2L487.7 362.7L472.1 374.7L468.7 374.3Z"/><path d="M484.2 362.2L487.7 362.7M468.7 374.3L484.2 362.2" stroke="#6b5edb"/><path d="M487.7 362.7L491.2 363.1L475.6 375.1L472.1 374.7Z"/><path d="M487.7 362.7L491.2 363.1" stroke="#6b5edc"/><path d="M472.1 374.7L487.7 362.7" stroke="#6b5edb"/><path d="M491.2 363.1L494.7 363.3L479.1 375.4L475.6 375.1Z"/><path d="M491.2 363.1L494.7 363.3M475.6 375.1L491.2 363.1" stroke="#6b5edc"/><path d="M494.7 363.3L498.2 363.4L482.6 375.6L479.1 375.4Z"/><path d="M494.7 363.3L498.2 363.4M479.1 375.4L494.7 363.3" stroke="#6b5edc"/><path d="M498.2 363.4L501.6 363.2L486 375.4L482.6 375.6Z"/><path d="M498.2 363.4L501.6 363.2" stroke="#6a5edc"/><path d="M482.6 375.6L498.2 363.4" stroke="#6b5edc"/><path d="M501.6 363.2L505.1 362.7L489.5 375L486 375.4Z"/><path d="M501.6 363.2L505.1 362.7M486 375.4L501.6 363.2" stroke="#6a5edd"/><path d="M505.1 362.7L508.6 361.8L493 374.1L489.5 375Z"/><path d="M505.1 362.7L508.6 361.8" stroke="#6a5ede"/><path d="M489.5 375L505.1 362.7" stroke="#6a5edd"/><path d="M508.6 361.8L512.1 360.3L496.5 372.9L493 374.1Z"/><path d="M508.6 361.8L512.1 360.3" stroke="#695edf"/><path d="M493 374.1L508.6 361.8" stroke="#695ede"/><path d="M512.1 360.3L515.5 358.5L500 371.2L496.5 372.9Z"/><path d="M512.1 360.3L515.5 358.5" stroke="#685ee1"/><path d="M496.5 372.9L512.1 360.3" stroke="#695ee0"/><path d="M515.5 358.5L519 356.3L503.4 369.3L500 371.2Z"/><path d="M515.5 358.5L519 356.3" stroke="#675de3"/><path d="M500 371.2L515.5 358.5" stroke="#685de1"/><path d="M519 356.3L522.5 354L506.9 367.1L503.4 369.3Z"/><path d="M519 356.3L522.5 354" stroke="#665de5"/><path d="M503.4 369.3L519 356.3" stroke="#675de3"/><path d="M522.5 354L526 351.7L510.4 365.1L506.9 367.1Z"/><path d="M522.5 354L526 351.7" stroke="#655de7"/><path d="M506.9 367.1L522.5 354" stroke="#655de5"/><path d="M526 351.7L529.5 349.8L513.9 363.4L510.4 365.1Z"/><path d="M526 351.7L529.5 349.8" stroke="#645ce9"/><path d="M510.4 365.1L526 351.7" stroke="#645de7"/><path d="M529.5 349.8L532.9 348.7L517.3 362.4L513.9 363.4Z"/><path d="M529.5 349.8L532.9 348.7" stroke="#635cea"/><path d="M513.9 363.4L529.5 349.8" stroke="#635ce9"/><path d="M532.9 348.7L536.4 348.4L520.8 362.2L517.3 362.4Z"/><path d="M532.9 348.7L536.4 348.4" stroke="#625ceb"/><path d="M517.3 362.4L532.9 348.7" stroke="#635cea"/><path d="M536.4 348.4L539.9 349.1L524.3 362.9L520.8 362.2Z"/><path d="M536.4 348.4L539.9 349.1M520.8 362.2L536.4 348.4" stroke="#625ceb"/><path d="M539.9 349.1L543.4 350.9L527.8 364.5L524.3 362.9Z"/><path d="M539.9 349.1L543.4 350.9M524.3 362.9L539.9 349.1" stroke="#625ceb"/><path d="M543.4 350.9L546.8 353.4L531.3 366.9L527.8 364.5Z"/><path d="M543.4 350.9L546.8 353.4M527.8 364.5L543.4 350.9" stroke="#635cea"/><path d="M546.8 353.4L550.3 356.6L534.7 369.9L531.3 366.9Z"/><path d="M546.8 353.4L550.3 356.6" stroke="#645de8"/><path d="M531.3 366.9L546.8 353.4" stroke="#645ce8"/><path d="M550.3 356.6L553.8 360.1L538.2 373.2L534.7 369.9Z"/><path d="M550.3 356.6L553.8 360.1" stroke="#655de6"/><path d="M534.7 369.9L550.3 356.6" stroke="#655de7"/><path d="M553.8 360.1L557.3 363.5L541.7 376.4L538.2 373.2Z"/><path d="M553.8 360.1L557.3 363.5" stroke="#665de4"/><path d="M538.2 373.2L553.8 360.1" stroke="#665de5"/><path d="M557.3 363.5L560.8 366.8L545.2 379.4L541.7 376.4Z"/><path d="M557.3 363.5L560.8 366.8" stroke="#675de2"/><path d="M541.7 376.4L557.3 363.5" stroke="#675de3"/><path d="M560.8 366.8L564.2 369.6L548.6 382.1L545.2 379.4Z"/><path d="M560.8 366.8L564.2 369.6" stroke="#685ee0"/><path d="M545.2 379.4L560.8 366.8" stroke="#685ee1"/><path d="M564.2 369.6L567.7 372L552.1 384.4L548.6 382.1Z"/><path d="M564.2 369.6L567.7 372M548.6 382.1L564.2 369.6" stroke="#695edf"/><path d="M567.7 372L571.2 374L555.6 386.2L552.1 384.4Z"/><path d="M567.7 372L571.2 374M552.1 384.4L567.7 372" stroke="#6a5ede"/><path d="M571.2 374L574.7 375.5L559.1 387.7L555.6 386.2Z"/><path d="M571.2 374L574.7 375.5M555.6 386.2L571.2 374" stroke="#6a5edd"/><path d="M574.7 375.5L578.1 376.8L562.6 388.9L559.1 387.7Z"/><path d="M574.7 375.5L578.1 376.8M562.6 388.9L578.1 376.8" stroke="#6b5edc"/><path d="M559.1 387.7L574.7 375.5" stroke="#6a5edc"/><path d="M176.5 326.2L180 326.7L164.4 338.8L160.9 338.3Z"/><path d="M176.5 326.2L180 326.7M160.9 338.3L176.5 326.2" stroke="#6b5edb"/><path d="M180 326.7L183.5 327.2L167.9 339.4L164.4 338.8Z"/><path d="M180 326.7L183.5 327.2M164.4 338.8L180 326.7" stroke="#6b5edb"/><path d="M183.5 327.2L187 327.6L171.4 340L167.9 339.4Z"/><path d="M183.5 327.2L187 327.6M167.9 339.4L183.5 327.2" stroke="#6b5edb"/><path d="M187 327.6L190.4 328L174.9 340.6L171.4 340Z"/><path d="M187 327.6L190.4 328" stroke="#6b5edc"/><path d="M171.4 340L187 327.6" stroke="#6b5edb"/><path d="M190.4 328L193.9 328.2L178.3 341.1L174.9 340.6Z"/><path d="M190.4 328L193.9 328.2" stroke="#6b5edc"/><path d="M174.9 340.6L190.4 328" stroke="#6b5edb"/><path d="M193.9 328.2L197.4 328.3L181.8 341.7L178.3 341.1Z"/><path d="M193.9 328.2L197.4 328.3M178.3 341.1L193.9 328.2" stroke="#6b5edc"/><path d="M197.4 328.3L200.9 328.2L185.3 342.3L181.8 341.7Z"/><path d="M197.4 328.3L200.9 328.2" stroke="#6a5edc"/><path d="M181.8 341.7L197.4 328.3" stroke="#6b5edc"/><path d="M200.9 328.2L204.3 327.8L188.8 342.8L185.3 342.3Z"/><path d="M200.9 328.2L204.3 327.8" stroke="#6a5edd"/><path d="M185.3 342.3L200.9 328.2" stroke="#6b5edc"/><path d="M204.3 327.8L207.8 327L192.2 343.4L188.8 342.8Z"/><path d="M204.3 327.8L207.8 327" stroke="#6a5ede"/><path d="M188.8 342.8L204.3 327.8" stroke="#6a5edc"/><path d="M207.8 327L211.3 325.7L195.7 343.8L192.2 343.4Z"/><path d="M207.8 327L211.3 325.7" stroke="#695edf"/><path d="M192.2 343.4L207.8 327" stroke="#6a5edd"/><path d="M211.3 325.7L214.8 323.8L199.2 344.1L195.7 343.8Z"/><path d="M211.3 325.7L214.8 323.8" stroke="#685ee1"/><path d="M195.7 343.8L211.3 325.7" stroke="#6a5ede"/><path d="M214.8 323.8L218.3 321.1L202.7 344.1L199.2 344.1Z"/><path d="M214.8 323.8L218.3 321.1" stroke="#675de3"/><path d="M199.2 344.1L214.8 323.8" stroke="#695edf"/><path d="M218.3 321.1L221.7 317.5L206.2 343.4L202.7 344.1Z"/><path d="M218.3 321.1L221.7 317.5" stroke="#655de5"/><path d="M202.7 344.1L218.3 321.1" stroke="#685ee0"/><path d="M221.7 317.5L225.2 312.9L209.6 341.4L206.2 343.4Z"/><path d="M221.7 317.5L225.2 312.9" stroke="#635ce9"/><path d="M206.2 343.4L221.7 317.5" stroke="#675de2"/><path d="M225.2 312.9L228.7 307.2L213.1 337.3L209.6 341.4Z"/><path d="M225.2 312.9L228.7 307.2" stroke="#615ced"/><path d="M209.6 341.4L225.2 312.9" stroke="#665de5"/><path d="M228.7 307.2L232.2 300.5L216.6 330L213.1 337.3Z"/><path d="M228.7 307.2L232.2 300.5" stroke="#5c61f0"/><path d="M213.1 337.3L228.7 307.2" stroke="#645ce9"/><path d="M232.2 300.5L235.6 292.6L220.1 318.6L216.6 330Z"/><path d="M232.2 300.5L235.6 292.6" stroke="#5567f4"/><path d="M216.6 330L232.2 300.5" stroke="#605dee"/><path d="M235.6 292.6L239.1 283.9L223.5 302.4L220.1 318.6Z"/><path d="M235.6 292.6L239.1 283.9" stroke="#4e6ef9"/><path d="M220.1 318.6L235.6 292.6" stroke="#5865f3"/><path d="M239.1 283.9L242.6 274.4L227 281.7L223.5 302.4Z"/><path d="M239.1 283.9L242.6 274.4" stroke="#407af6"/><path d="M223.5 302.4L239.1 283.9" stroke="#4d70f9"/><path d="M242.6 274.4L246.1 264.5L230.5 257.9L227 281.7Z"/><path d="M242.6 274.4L246.1 264.5" stroke="#3088f1"/><path d="M227 281.7L242.6 274.4" stroke="#3484f2"/><path d="M246.1 264.5L249.6 254.5L234 233.9L230.5 257.9Z"/><path d="M246.1 264.5L249.6 254.5" stroke="#2195ea"/><path d="M230.5 257.9L246.1 264.5" stroke="#1d99e7"/><path d="M249.6 254.5L253 245L237.5 213.5L234 233.9Z"/><path d="M249.6 254.5L253 245" stroke="#17a0e1"/><path d="M234 233.9L249.6 254.5" stroke="#0dadd7"/><path d="M253 245L256.5 236.4L240.9 200.4L237.5 213.5Z"/><path d="M253 245L256.5 236.4" stroke="#0fabd8"/><path d="M237.5 213.5L245.2 229.2" stroke="#29c2b0"/><path d="M245.2 229.2L253 245" stroke="#11b1d0"/><path d="M256.5 236.4L260 229.2L244.4 197L240.9 200.4Z"/><path d="M256.5 236.4L260 229.2" stroke="#13b3cd"/><path d="M240.9 200.4L248.7 218.4" stroke="#49c797"/><path d="M248.7 218.4L256.5 236.4" stroke="#1cb9c1"/><path d="M260 229.2L263.5 223.7L247.9 198.9L244.4 197Z"/><path d="M260 229.2L263.5 223.7" stroke="#1ab8c3"/><path d="M244.4 197L252.2 213.1" stroke="#55c98d"/><path d="M252.2 213.1L260 229.2" stroke="#23bfb8"/><path d="M263.5 223.7L266.9 220.4L251.4 203.4L247.9 198.9Z"/><path d="M263.5 223.7L266.9 220.4" stroke="#1fbcbc"/><path d="M247.9 198.9L255.7 211.3" stroke="#56ca8c"/><path d="M255.7 211.3L263.5 223.7" stroke="#28c2b1"/><path d="M266.9 220.4L270.4 219.4L254.8 210.4L251.4 203.4Z"/><path d="M266.9 220.4L270.4 219.4" stroke="#22bfb8"/><path d="M251.4 203.4L266.9 220.4" stroke="#3fc69f"/><path d="M270.4 219.4L273.9 220.2L258.3 219.2L254.8 210.4Z"/><path d="M270.4 219.4L273.9 220.2" stroke="#23bfb7"/><path d="M254.8 210.4L270.4 219.4" stroke="#39c5a4"/><path d="M273.9 220.2L277.4 222.4L261.8 229.2L258.3 219.2Z"/><path d="M273.9 220.2L277.4 222.4" stroke="#22beb9"/><path d="M258.3 219.2L273.9 220.2" stroke="#2ec3ac"/><path d="M277.4 222.4L280.9 225.6L265.3 239.9L261.8 229.2Z"/><path d="M277.4 222.4L280.9 225.6" stroke="#20bdbc"/><path d="M261.8 229.2L277.4 222.4" stroke="#24c0b6"/><path d="M280.9 225.6L284.3 229.9L268.8 250.7L265.3 239.9Z"/><path d="M280.9 225.6L284.3 229.9" stroke="#1cbac0"/><path d="M265.3 239.9L280.9 225.6" stroke="#1dbbbf"/><path d="M284.3 229.9L287.8 235.1L272.2 261L268.8 250.7Z"/><path d="M284.3 229.9L287.8 235.1" stroke="#18b7c6"/><path d="M268.8 250.7L284.3 229.9" stroke="#16b5c9"/><path d="M287.8 235.1L291.3 240.9L275.7 270.5L272.2 261Z"/><path d="M287.8 235.1L291.3 240.9" stroke="#13b3cd"/><path d="M272.2 261L287.8 235.1" stroke="#0fafd3"/><path d="M291.3 240.9L294.8 247.1L279.2 278.9L275.7 270.5Z"/><path d="M291.3 240.9L294.8 247.1" stroke="#0eaed5"/><path d="M275.7 270.5L291.3 240.9" stroke="#11a8db"/><path d="M294.8 247.1L298.2 253.6L282.7 286.1L279.2 278.9Z"/><path d="M294.8 247.1L298.2 253.6" stroke="#11a8db"/><path d="M279.2 278.9L294.8 247.1" stroke="#17a0e1"/><path d="M298.2 253.6L301.7 260.1L286.1 292.1L282.7 286.1Z"/><path d="M298.2 253.6L301.7 260.1" stroke="#17a1e0"/><path d="M282.7 286.1L298.2 253.6" stroke="#1d99e7"/><path d="M301.7 260.1L305.2 266.6L289.6 297L286.1 292.1Z"/><path d="M301.7 260.1L305.2 266.6" stroke="#1c9be5"/><path d="M286.1 292.1L301.7 260.1" stroke="#2293ec"/><path d="M305.2 266.6L308.7 272.7L293.1 301.1L289.6 297Z"/><path d="M305.2 266.6L308.7 272.7" stroke="#2194eb"/><path d="M289.6 297L305.2 266.6" stroke="#2a8def"/><path d="M308.7 272.7L312.2 278.6L296.6 304.6L293.1 301.1Z"/><path d="M308.7 272.7L312.2 278.6" stroke="#288eef"/><path d="M293.1 301.1L308.7 272.7" stroke="#3187f1"/><path d="M312.2 278.6L315.6 284.1L300.1 307.8L296.6 304.6Z"/><path d="M312.2 278.6L315.6 284.1" stroke="#3087f1"/><path d="M296.6 304.6L312.2 278.6" stroke="#3881f3"/><path d="M315.6 284.1L319.1 289.2L303.5 310.9L300.1 307.8Z"/><path d="M315.6 284.1L319.1 289.2" stroke="#3881f4"/><path d="M300.1 307.8L315.6 284.1" stroke="#3e7cf5"/><path d="M319.1 289.2L322.6 294L307 314L303.5 310.9Z"/><path d="M319.1 289.2L322.6 294" stroke="#3f7bf6"/><path d="M303.5 310.9L319.1 289.2" stroke="#4477f7"/><path d="M322.6 294L326.1 298.5L310.5 316.9L307 314Z"/><path d="M322.6 294L326.1 298.5" stroke="#4676f8"/><path d="M307 314L322.6 294" stroke="#4973f9"/><path d="M326.1 298.5L329.5 302.8L314 319.8L310.5 316.9Z"/><path d="M326.1 298.5L329.5 302.8" stroke="#4c71fa"/><path d="M310.5 316.9L326.1 298.5" stroke="#4d6ff9"/><path d="M329.5 302.8L333 307L317.4 322.8L314 319.8Z"/><path d="M329.5 302.8L333 307" stroke="#4f6df8"/><path d="M314 319.8L329.5 302.8" stroke="#506df8"/><path d="M333 307L336.5 311.1L320.9 325.9L317.4 322.8Z"/><path d="M333 307L336.5 311.1" stroke="#526bf6"/><path d="M317.4 322.8L333 307" stroke="#526af6"/><path d="M336.5 311.1L340 315L324.4 329.2L320.9 325.9Z"/><path d="M336.5 311.1L340 315M320.9 325.9L336.5 311.1" stroke="#5568f5"/><path d="M340 315L343.5 318.7L327.9 332.5L324.4 329.2Z"/><path d="M340 315L343.5 318.7" stroke="#5865f3"/><path d="M324.4 329.2L340 315" stroke="#5766f3"/><path d="M343.5 318.7L346.9 322.2L331.4 335.9L327.9 332.5Z"/><path d="M343.5 318.7L346.9 322.2" stroke="#5a63f1"/><path d="M327.9 332.5L343.5 318.7" stroke="#5a63f2"/><path d="M346.9 322.2L350.4 325.5L334.8 339.4L331.4 335.9Z"/><path d="M346.9 322.2L350.4 325.5" stroke="#5c60f0"/><path d="M331.4 335.9L346.9 322.2" stroke="#5c61f0"/><path d="M350.4 325.5L353.9 328.8L338.3 342.8L334.8 339.4Z"/><path d="M350.4 325.5L353.9 328.8" stroke="#5f5eef"/><path d="M334.8 339.4L350.4 325.5" stroke="#5e5fef"/><path d="M353.9 328.8L357.4 331.9L341.8 346.2L338.3 342.8Z"/><path d="M353.9 328.8L357.4 331.9" stroke="#615ced"/><path d="M338.3 342.8L353.9 328.8" stroke="#605ced"/><path d="M357.4 331.9L360.8 334.9L345.3 349.5L341.8 346.2Z"/><path d="M357.4 331.9L360.8 334.9M341.8 346.2L357.4 331.9" stroke="#625cec"/><path d="M360.8 334.9L364.3 337.7L348.7 352.6L345.3 349.5Z"/><path d="M360.8 334.9L364.3 337.7M345.3 349.5L360.8 334.9" stroke="#635cea"/><path d="M364.3 337.7L367.8 340.5L352.2 355.6L348.7 352.6Z"/><path d="M364.3 337.7L367.8 340.5" stroke="#645ce8"/><path d="M348.7 352.6L364.3 337.7" stroke="#645de8"/><path d="M367.8 340.5L371.3 343.2L355.7 358.3L352.2 355.6Z"/><path d="M367.8 340.5L371.3 343.2" stroke="#655de7"/><path d="M352.2 355.6L367.8 340.5" stroke="#655de6"/><path d="M371.3 343.2L374.8 345.7L359.2 360.9L355.7 358.3Z"/><path d="M371.3 343.2L374.8 345.7" stroke="#655de5"/><path d="M355.7 358.3L371.3 343.2" stroke="#665de5"/><path d="M374.8 345.7L378.2 348L362.7 363.2L359.2 360.9Z"/><path d="M374.8 345.7L378.2 348M359.2 360.9L374.8 345.7" stroke="#665de4"/><path d="M378.2 348L381.7 350.2L366.1 365.3L362.7 363.2Z"/><path d="M378.2 348L381.7 350.2" stroke="#675de3"/><path d="M362.7 363.2L378.2 348" stroke="#675de2"/><path d="M381.7 350.2L385.2 352.3L369.6 367.1L366.1 365.3Z"/><path d="M381.7 350.2L385.2 352.3" stroke="#675de2"/><path d="M366.1 365.3L381.7 350.2" stroke="#685ee1"/><path d="M385.2 352.3L388.7 354.2L373.1 368.8L369.6 367.1Z"/><path d="M385.2 352.3L388.7 354.2" stroke="#685ee1"/><path d="M369.6 367.1L385.2 352.3" stroke="#685ee0"/><path d="M388.7 354.2L392.1 356L376.6 370.3L373.1 368.8Z"/><path d="M388.7 354.2L392.1 356" stroke="#695ee0"/><path d="M373.1 368.8L388.7 354.2" stroke="#695edf"/><path d="M392.1 356L395.6 357.6L380 371.6L376.6 370.3Z"/><path d="M392.1 356L395.6 357.6M376.6 370.3L392.1 356" stroke="#695edf"/><path d="M395.6 357.6L399.1 359L383.5 372.8L380 371.6Z"/><path d="M395.6 357.6L399.1 359" stroke="#695ede"/><path d="M380 371.6L395.6 357.6" stroke="#6a5ede"/><path d="M399.1 359L402.6 360.4L387 373.9L383.5 372.8Z"/><path d="M399.1 359L402.6 360.4" stroke="#6a5ede"/><path d="M383.5 372.8L399.1 359" stroke="#6a5edd"/><path d="M402.6 360.4L406.1 361.6L390.5 374.9L387 373.9Z"/><path d="M402.6 360.4L406.1 361.6M387 373.9L402.6 360.4" stroke="#6a5edd"/><path d="M406.1 361.6L409.5 362.7L394 375.7L390.5 374.9Z"/><path d="M406.1 361.6L409.5 362.7M390.5 374.9L406.1 361.6" stroke="#6a5edd"/><path d="M409.5 362.7L413 363.7L397.4 376.6L394 375.7Z"/><path d="M409.5 362.7L413 363.7" stroke="#6a5edd"/><path d="M394 375.7L409.5 362.7" stroke="#6b5edc"/><path d="M413 363.7L416.5 364.6L400.9 377.3L397.4 376.6Z"/><path d="M413 363.7L416.5 364.6M397.4 376.6L413 363.7" stroke="#6b5edc"/><path d="M416.5 364.6L420 365.5L404.4 378L400.9 377.3Z"/><path d="M416.5 364.6L420 365.5M400.9 377.3L416.5 364.6" stroke="#6b5edc"/><path d="M420 365.5L423.4 366.2L407.9 378.7L404.4 378Z"/><path d="M420 365.5L423.4 366.2M404.4 378L420 365.5" stroke="#6b5edc"/><path d="M423.4 366.2L426.9 367L411.3 379.3L407.9 378.7Z"/><path d="M423.4 366.2L426.9 367M407.9 378.7L423.4 366.2" stroke="#6b5edc"/><path d="M426.9 367L430.4 367.7L414.8 380L411.3 379.3Z"/><path d="M426.9 367L430.4 367.7M411.3 379.3L426.9 367" stroke="#6b5edc"/><path d="M430.4 367.7L433.9 368.4L418.3 380.6L414.8 380Z"/><path d="M430.4 367.7L433.9 368.4" stroke="#6b5edc"/><path d="M414.8 380L430.4 367.7" stroke="#6b5edb"/><path d="M433.9 368.4L437.4 369L421.8 381.2L418.3 380.6Z"/><path d="M433.9 368.4L437.4 369M418.3 380.6L433.9 368.4" stroke="#6b5edb"/><path d="M437.4 369L440.8 369.6L425.3 381.8L421.8 381.2Z"/><path d="M437.4 369L440.8 369.6M421.8 381.2L437.4 369" stroke="#6b5edb"/><path d="M440.8 369.6L444.3 370.2L428.7 382.4L425.3 381.8Z"/><path d="M440.8 369.6L444.3 370.2M425.3 381.8L440.8 369.6" stroke="#6b5edb"/><path d="M444.3 370.2L447.8 370.8L432.2 382.9L428.7 382.4Z"/><path d="M444.3 370.2L447.8 370.8M428.7 382.4L444.3 370.2" stroke="#6b5edb"/><path d="M447.8 370.8L451.3 371.4L435.7 383.5L432.2 382.9Z"/><path d="M447.8 370.8L451.3 371.4M432.2 382.9L447.8 370.8" stroke="#6b5edb"/><path d="M451.3 371.4L454.7 372L439.2 384.1L435.7 383.5Z"/><path d="M451.3 371.4L454.7 372M435.7 383.5L451.3 371.4" stroke="#6b5edb"/><path d="M454.7 372L458.2 372.6L442.6 384.7L439.2 384.1Z"/><path d="M454.7 372L458.2 372.6M439.2 384.1L454.7 372" stroke="#6b5edb"/><path d="M458.2 372.6L461.7 373.2L446.1 385.2L442.6 384.7Z"/><path d="M458.2 372.6L461.7 373.2M442.6 384.7L458.2 372.6" stroke="#6b5edb"/><path d="M461.7 373.2L465.2 373.7L449.6 385.8L446.1 385.2Z"/><path d="M461.7 373.2L465.2 373.7M446.1 385.2L461.7 373.2" stroke="#6b5edb"/><path d="M465.2 373.7L468.7 374.3L453.1 386.3L449.6 385.8Z"/><path d="M465.2 373.7L468.7 374.3M449.6 385.8L465.2 373.7" stroke="#6b5edb"/><path d="M468.7 374.3L472.1 374.7L456.6 386.8L453.1 386.3Z"/><path d="M468.7 374.3L472.1 374.7M453.1 386.3L468.7 374.3" stroke="#6b5edb"/><path d="M472.1 374.7L475.6 375.1L460 387.2L456.6 386.8Z"/><path d="M472.1 374.7L475.6 375.1M456.6 386.8L472.1 374.7" stroke="#6b5edb"/><path d="M475.6 375.1L479.1 375.4L463.5 387.5L460 387.2Z"/><path d="M475.6 375.1L479.1 375.4M460 387.2L475.6 375.1" stroke="#6b5edc"/><path d="M479.1 375.4L482.6 375.6L467 387.6L463.5 387.5Z"/><path d="M479.1 375.4L482.6 375.6M463.5 387.5L479.1 375.4" stroke="#6b5edc"/><path d="M482.6 375.6L486 375.4L470.5 387.5L467 387.6Z"/><path d="M482.6 375.6L486 375.4M467 387.6L482.6 375.6" stroke="#6b5edc"/><path d="M486 375.4L489.5 375L473.9 387L470.5 387.5Z"/><path d="M486 375.4L489.5 375M470.5 387.5L486 375.4" stroke="#6a5edd"/><path d="M489.5 375L493 374.1L477.4 386.2L473.9 387Z"/><path d="M489.5 375L493 374.1" stroke="#6a5ede"/><path d="M473.9 387L489.5 375" stroke="#6a5edd"/><path d="M493 374.1L496.5 372.9L480.9 384.9L477.4 386.2Z"/><path d="M493 374.1L496.5 372.9" stroke="#695edf"/><path d="M477.4 386.2L493 374.1" stroke="#695ede"/><path d="M496.5 372.9L500 371.2L484.4 383.3L480.9 384.9Z"/><path d="M496.5 372.9L500 371.2" stroke="#685ee0"/><path d="M480.9 384.9L496.5 372.9" stroke="#695ee0"/><path d="M500 371.2L503.4 369.3L487.9 381.3L484.4 383.3Z"/><path d="M500 371.2L503.4 369.3" stroke="#675de2"/><path d="M484.4 383.3L500 371.2" stroke="#685ee1"/><path d="M503.4 369.3L506.9 367.1L491.3 379.2L487.9 381.3Z"/><path d="M503.4 369.3L506.9 367.1" stroke="#665de4"/><path d="M487.9 381.3L503.4 369.3" stroke="#675de3"/><path d="M506.9 367.1L510.4 365.1L494.8 377.1L491.3 379.2Z"/><path d="M506.9 367.1L510.4 365.1" stroke="#655de6"/><path d="M491.3 379.2L506.9 367.1" stroke="#665de5"/><path d="M510.4 365.1L513.9 363.4L498.3 375.5L494.8 377.1Z"/><path d="M510.4 365.1L513.9 363.4" stroke="#645de8"/><path d="M494.8 377.1L510.4 365.1" stroke="#655de7"/><path d="M513.9 363.4L517.3 362.4L501.8 374.4L498.3 375.5Z"/><path d="M513.9 363.4L517.3 362.4" stroke="#635ce9"/><path d="M498.3 375.5L513.9 363.4" stroke="#645ce8"/><path d="M517.3 362.4L520.8 362.2L505.2 374.2L501.8 374.4Z"/><path d="M517.3 362.4L520.8 362.2M501.8 374.4L517.3 362.4" stroke="#635cea"/><path d="M520.8 362.2L524.3 362.9L508.7 374.9L505.2 374.2Z"/><path d="M520.8 362.2L524.3 362.9M505.2 374.2L520.8 362.2" stroke="#635cea"/><path d="M524.3 362.9L527.8 364.5L512.2 376.6L508.7 374.9Z"/><path d="M524.3 362.9L527.8 364.5M508.7 374.9L524.3 362.9" stroke="#635cea"/><path d="M527.8 364.5L531.3 366.9L515.7 379L512.2 376.6Z"/><path d="M527.8 364.5L531.3 366.9" stroke="#645ce9"/><path d="M512.2 376.6L527.8 364.5" stroke="#635ce9"/><path d="M531.3 366.9L534.7 369.9L519.2 382L515.7 379Z"/><path d="M531.3 366.9L534.7 369.9" stroke="#645de7"/><path d="M515.7 379L531.3 366.9" stroke="#645de8"/><path d="M534.7 369.9L538.2 373.2L522.6 385.2L519.2 382Z"/><path d="M534.7 369.9L538.2 373.2" stroke="#655de5"/><path d="M519.2 382L534.7 369.9" stroke="#655de6"/><path d="M538.2 373.2L541.7 376.4L526.1 388.4L522.6 385.2Z"/><path d="M538.2 373.2L541.7 376.4" stroke="#675de3"/><path d="M522.6 385.2L538.2 373.2" stroke="#665de4"/><path d="M541.7 376.4L545.2 379.4L529.6 391.5L526.1 388.4Z"/><path d="M541.7 376.4L545.2 379.4" stroke="#685de2"/><path d="M526.1 388.4L541.7 376.4" stroke="#675de2"/><path d="M545.2 379.4L548.6 382.1L533.1 394.2L529.6 391.5Z"/><path d="M545.2 379.4L548.6 382.1" stroke="#685ee0"/><path d="M529.6 391.5L545.2 379.4" stroke="#685ee1"/><path d="M548.6 382.1L552.1 384.4L536.5 396.4L533.1 394.2Z"/><path d="M548.6 382.1L552.1 384.4M533.1 394.2L548.6 382.1" stroke="#695edf"/><path d="M552.1 384.4L555.6 386.2L540 398.3L536.5 396.4Z"/><path d="M552.1 384.4L555.6 386.2" stroke="#6a5edd"/><path d="M536.5 396.4L552.1 384.4" stroke="#6a5ede"/><path d="M555.6 386.2L559.1 387.7L543.5 399.8L540 398.3Z"/><path d="M555.6 386.2L559.1 387.7M540 398.3L555.6 386.2" stroke="#6a5edd"/><path d="M559.1 387.7L562.6 388.9L547 400.9L543.5 399.8Z"/><path d="M559.1 387.7L562.6 388.9M547 400.9L562.6 388.9" stroke="#6b5edc"/><path d="M543.5 399.8L559.1 387.7" stroke="#6a5edc"/><path d="M160.9 338.3L164.4 338.8L148.8 349.9L145.4 349.7Z"/><path d="M160.9 338.3L164.4 338.8" stroke="#6b5edb"/><path d="M145.4 349.7L160.9 338.3" stroke="#6b5edc"/><path d="M164.4 338.8L167.9 339.4L152.3 349.8L148.8 349.9Z"/><path d="M164.4 338.8L167.9 339.4" stroke="#6b5edb"/><path d="M148.8 349.9L164.4 338.8" stroke="#6b5edc"/><path d="M167.9 339.4L171.4 340L155.8 349.5L152.3 349.8Z"/><path d="M167.9 339.4L171.4 340" stroke="#6b5edb"/><path d="M152.3 349.8L167.9 339.4" stroke="#6b5edc"/><path d="M171.4 340L174.9 340.6L159.3 348.2L155.8 349.5Z"/><path d="M171.4 340L174.9 340.6" stroke="#6b5edb"/><path d="M155.8 349.5L171.4 340" stroke="#6b5edc"/><path d="M174.9 340.6L178.3 341.1L162.8 343.3L159.3 348.2Z"/><path d="M174.9 340.6L178.3 341.1" stroke="#6b5edb"/><path d="M159.3 348.2L174.9 340.6" stroke="#6a5edd"/><path d="M178.3 341.1L181.8 341.7L166.2 330L162.8 343.3Z"/><path d="M178.3 341.1L181.8 341.7" stroke="#6b5edb"/><path d="M162.8 343.3L178.3 341.1" stroke="#695edf"/><path d="M181.8 341.7L185.3 342.3L169.7 307.3L166.2 330Z"/><path d="M181.8 341.7L185.3 342.3" stroke="#6b5edb"/><path d="M166.2 330L181.8 341.7" stroke="#665de4"/><path d="M185.3 342.3L188.8 342.8L173.2 280.4L169.7 307.3Z"/><path d="M185.3 342.3L188.8 342.8" stroke="#6b5edb"/><path d="M169.7 307.3L177.5 324.8" stroke="#5964f2"/><path d="M177.5 324.8L185.3 342.3" stroke="#665de4"/><path d="M188.8 342.8L192.2 343.4L176.7 255.8L173.2 280.4Z"/><path d="M188.8 342.8L192.2 343.4" stroke="#6b5edb"/><path d="M173.2 280.4L178.4 301.2" stroke="#3980f4"/><path d="M178.4 301.2L183.6 322" stroke="#5766f3"/><path d="M183.6 322L188.8 342.8" stroke="#665de4"/><path d="M192.2 343.4L195.7 343.8L180.1 236.6L176.7 255.8Z"/><path d="M192.2 343.4L195.7 343.8" stroke="#6b5edb"/><path d="M176.7 255.8L181.9 285" stroke="#1d9ae6"/><path d="M181.9 285L187.1 314.2" stroke="#4d70fa"/><path d="M187.1 314.2L192.2 343.4" stroke="#645de7"/><path d="M195.7 343.8L199.2 344.1L183.6 222.6L180.1 236.6Z"/><path d="M195.7 343.8L199.2 344.1" stroke="#6b5edc"/><path d="M180.1 236.6L184 263.4" stroke="#11b1d0"/><path d="M184 263.4L187.9 290.2" stroke="#2591ed"/><path d="M187.9 290.2L191.8 317" stroke="#516cf7"/><path d="M191.8 317L195.7 343.8" stroke="#655de6"/><path d="M199.2 344.1L202.7 344.1L187.1 212.5L183.6 222.6Z"/><path d="M199.2 344.1L202.7 344.1" stroke="#6b5edc"/><path d="M183.6 222.6L187.5 253" stroke="#1ebbbe"/><path d="M187.5 253L191.4 283.4" stroke="#1c9be5"/><path d="M191.4 283.4L195.3 313.7" stroke="#4c71fa"/><path d="M195.3 313.7L199.2 344.1" stroke="#645de7"/><path d="M202.7 344.1L206.2 343.4L190.6 205.1L187.1 212.5Z"/><path d="M202.7 344.1L206.2 343.4" stroke="#6a5edd"/><path d="M187.1 212.5L190.2 238.8" stroke="#32c4a9"/><path d="M190.2 238.8L193.3 265.2" stroke="#0eaed5"/><path d="M193.3 265.2L196.4 291.5" stroke="#288eee"/><path d="M196.4 291.5L199.6 317.8" stroke="#516bf7"/><path d="M199.6 317.8L202.7 344.1" stroke="#655de6"/><path d="M206.2 343.4L209.6 341.4L194.1 199.5L190.6 205.1Z"/><path d="M206.2 343.4L209.6 341.4" stroke="#6a5ede"/><path d="M190.6 205.1L193.7 232.8" stroke="#45c79a"/><path d="M193.7 232.8L196.8 260.4" stroke="#14b3cc"/><path d="M196.8 260.4L199.9 288.1" stroke="#2294eb"/><path d="M199.9 288.1L203 315.7" stroke="#4f6ef8"/><path d="M203 315.7L206.2 343.4" stroke="#645de8"/><path d="M209.6 341.4L213.1 337.3L197.5 195.4L194.1 199.5Z"/><path d="M209.6 341.4L213.1 337.3" stroke="#685ee0"/><path d="M194.1 199.5L197.2 227.9" stroke="#54c98e"/><path d="M197.2 227.9L200.3 256.2" stroke="#19b7c5"/><path d="M200.3 256.2L203.4 284.6" stroke="#1e99e7"/><path d="M203.4 284.6L206.5 313" stroke="#4b71f9"/><path d="M206.5 313L209.6 341.4" stroke="#635cea"/><path d="M213.1 337.3L216.6 330L201 192.8L197.5 195.4Z"/><path d="M213.1 337.3L216.6 330" stroke="#665de5"/><path d="M197.5 195.4L200.6 223.8" stroke="#60cb85"/><path d="M200.6 223.8L203.8 252.1" stroke="#1ebbbe"/><path d="M203.8 252.1L206.9 280.5" stroke="#199ee3"/><path d="M206.9 280.5L210 308.9" stroke="#4378f7"/><path d="M210 308.9L213.1 337.3" stroke="#615ced"/><path d="M216.6 330L220.1 318.6L204.5 191.7L201 192.8Z"/><path d="M216.6 330L220.1 318.6" stroke="#625cec"/><path d="M201 192.8L204.1 220.2" stroke="#69cc7e"/><path d="M204.1 220.2L207.2 247.7" stroke="#23bfb8"/><path d="M207.2 247.7L210.4 275.1" stroke="#14a4de"/><path d="M210.4 275.1L213.5 302.6" stroke="#3980f4"/><path d="M213.5 302.6L216.6 330" stroke="#5b62f1"/><path d="M220.1 318.6L223.5 302.4L208 192.6L204.5 191.7Z"/><path d="M220.1 318.6L223.5 302.4" stroke="#5766f4"/><path d="M204.5 191.7L208.4 223.5" stroke="#67cc7f"/><path d="M208.4 223.5L212.3 255.2" stroke="#1dbac0"/><path d="M212.3 255.2L216.2 286.9" stroke="#1e98e8"/><path d="M216.2 286.9L220.1 318.6" stroke="#4f6df8"/><path d="M223.5 302.4L227 281.7L211.4 196.6L208 192.6Z"/><path d="M223.5 302.4L227 281.7" stroke="#4279f7"/><path d="M208 192.6L211.9 220" stroke="#6ccc7c"/><path d="M211.9 220L215.8 247.5" stroke="#23bfb7"/><path d="M215.8 247.5L219.6 275" stroke="#15a4de"/><path d="M219.6 275L223.5 302.4" stroke="#3a7ff4"/><path d="M227 281.7L230.5 257.9L214.9 203.3L211.4 196.6Z"/><path d="M227 281.7L230.5 257.9" stroke="#2096e9"/><path d="M211.4 196.6L216.6 224.9" stroke="#60cb84"/><path d="M216.6 224.9L221.8 253.3" stroke="#1dbac0"/><path d="M221.8 253.3L227 281.7" stroke="#1c9be6"/><path d="M230.5 257.9L234 233.9L218.4 211.8L214.9 203.3Z"/><path d="M230.5 257.9L234 233.9" stroke="#11b0d1"/><path d="M214.9 203.3L222.7 230.6" stroke="#50c891"/><path d="M222.7 230.6L230.5 257.9" stroke="#15b4cb"/><path d="M234 233.9L237.5 213.5L221.9 221.6L218.4 211.8Z"/><path d="M234 233.9L237.5 213.5" stroke="#2ac2b0"/><path d="M218.4 211.8L234 233.9" stroke="#3ac5a2"/><path d="M237.5 213.5L240.9 200.4L225.4 233L221.9 221.6Z"/><path d="M237.5 213.5L240.9 200.4" stroke="#56c98c"/><path d="M221.9 221.6L237.5 213.5" stroke="#49c796"/><path d="M240.9 200.4L244.4 197L228.8 245.2L225.4 233Z"/><path d="M240.9 200.4L244.4 197" stroke="#6ccc7c"/><path d="M225.4 233L240.9 200.4" stroke="#4dc893"/><path d="M244.4 197L247.9 198.9L232.3 257.7L228.8 245.2Z"/><path d="M244.4 197L247.9 198.9" stroke="#70cc7a"/><path d="M228.8 245.2L236.6 221.1" stroke="#2cc3ae"/><path d="M236.6 221.1L244.4 197" stroke="#5aca89"/><path d="M247.9 198.9L251.4 203.4L235.8 270L232.3 257.7Z"/><path d="M247.9 198.9L251.4 203.4" stroke="#69cc7e"/><path d="M232.3 257.7L240.1 228.3" stroke="#1fbcbc"/><path d="M240.1 228.3L247.9 198.9" stroke="#50c991"/><path d="M251.4 203.4L254.8 210.4L239.3 282.1L235.8 270Z"/><path d="M251.4 203.4L254.8 210.4" stroke="#5cca88"/><path d="M235.8 270L243.6 236.7" stroke="#15b4ca"/><path d="M243.6 236.7L251.4 203.4" stroke="#41c69d"/><path d="M254.8 210.4L258.3 219.2L242.7 293.7L239.3 282.1Z"/><path d="M254.8 210.4L258.3 219.2" stroke="#49c797"/><path d="M239.3 282.1L247.1 246.2" stroke="#0eabd8"/><path d="M247.1 246.2L254.8 210.4" stroke="#2ec3ad"/><path d="M258.3 219.2L261.8 229.2L246.2 304.6L242.7 293.7Z"/><path d="M258.3 219.2L261.8 229.2" stroke="#33c4a9"/><path d="M242.7 293.7L250.5 256.4" stroke="#18a0e1"/><path d="M250.5 256.4L258.3 219.2" stroke="#20bdbb"/><path d="M261.8 229.2L265.3 239.9L249.7 314.8L246.2 304.6Z"/><path d="M261.8 229.2L265.3 239.9" stroke="#21beb9"/><path d="M246.2 304.6L254 266.9" stroke="#2195eb"/><path d="M254 266.9L261.8 229.2" stroke="#16b5c9"/><path d="M265.3 239.9L268.8 250.7L253.2 324.1L249.7 314.8Z"/><path d="M265.3 239.9L268.8 250.7" stroke="#17b6c8"/><path d="M249.7 314.8L257.5 277.4" stroke="#2f88f1"/><path d="M257.5 277.4L265.3 239.9" stroke="#0dadd7"/><path d="M268.8 250.7L272.2 261L256.7 332.2L253.2 324.1Z"/><path d="M268.8 250.7L272.2 261" stroke="#0dadd6"/><path d="M253.2 324.1L261 287.4" stroke="#3e7cf5"/><path d="M261 287.4L268.8 250.7" stroke="#16a2e0"/><path d="M272.2 261L275.7 270.5L260.1 339.2L256.7 332.2Z"/><path d="M272.2 261L275.7 270.5" stroke="#15a3df"/><path d="M256.7 332.2L264.4 296.6" stroke="#4b72f9"/><path d="M264.4 296.6L272.2 261" stroke="#1f97e8"/><path d="M275.7 270.5L279.2 278.9L263.6 345L260.1 339.2Z"/><path d="M275.7 270.5L279.2 278.9" stroke="#1d9ae6"/><path d="M260.1 339.2L267.9 304.9" stroke="#516bf7"/><path d="M267.9 304.9L275.7 270.5" stroke="#288eef"/><path d="M279.2 278.9L282.7 286.1L267.1 349.5L263.6 345Z"/><path d="M279.2 278.9L282.7 286.1" stroke="#2492ed"/><path d="M263.6 345L271.4 312" stroke="#5667f4"/><path d="M271.4 312L279.2 278.9" stroke="#3484f2"/><path d="M282.7 286.1L286.1 292.1L270.6 352.9L267.1 349.5Z"/><path d="M282.7 286.1L286.1 292.1" stroke="#2d8af0"/><path d="M267.1 349.5L274.9 317.8" stroke="#5a63f2"/><path d="M274.9 317.8L282.7 286.1" stroke="#3e7cf5"/><path d="M286.1 292.1L289.6 297L274 355.1L270.6 352.9Z"/><path d="M286.1 292.1L289.6 297" stroke="#3583f3"/><path d="M270.6 352.9L278.4 322.5" stroke="#5d60f0"/><path d="M278.4 322.5L286.1 292.1" stroke="#4576f8"/><path d="M289.6 297L293.1 301.1L277.5 356.4L274 355.1Z"/><path d="M289.6 297L293.1 301.1" stroke="#3b7ef5"/><path d="M274 355.1L281.8 326.1" stroke="#5f5eef"/><path d="M281.8 326.1L289.6 297" stroke="#4b71fa"/><path d="M293.1 301.1L296.6 304.6L281 356.9L277.5 356.4Z"/><path d="M293.1 301.1L296.6 304.6" stroke="#417af6"/><path d="M277.5 356.4L285.3 328.8" stroke="#605dee"/><path d="M285.3 328.8L293.1 301.1" stroke="#4e6ef9"/><path d="M296.6 304.6L300.1 307.8L284.5 356.7L281 356.9Z"/><path d="M296.6 304.6L300.1 307.8" stroke="#4576f8"/><path d="M281 356.9L288.8 330.7" stroke="#605cee"/><path d="M288.8 330.7L296.6 304.6" stroke="#506df8"/><path d="M300.1 307.8L303.5 310.9L288 356L284.5 356.7Z"/><path d="M300.1 307.8L303.5 310.9" stroke="#4973f9"/><path d="M284.5 356.7L292.3 332.2" stroke="#605ced"/><path d="M292.3 332.2L300.1 307.8" stroke="#516bf7"/><path d="M303.5 310.9L307 314L291.4 355L288 356Z"/><path d="M303.5 310.9L307 314" stroke="#4d70fa"/><path d="M288 356L303.5 310.9" stroke="#5963f2"/><path d="M307 314L310.5 316.9L294.9 353.9L291.4 355Z"/><path d="M307 314L310.5 316.9" stroke="#4f6ef8"/><path d="M291.4 355L307 314" stroke="#5a63f2"/><path d="M310.5 316.9L314 319.8L298.4 352.9L294.9 353.9Z"/><path d="M310.5 316.9L314 319.8" stroke="#516cf7"/><path d="M294.9 353.9L310.5 316.9" stroke="#5a63f1"/><path d="M314 319.8L317.4 322.8L301.9 352L298.4 352.9Z"/><path d="M314 319.8L317.4 322.8" stroke="#536af6"/><path d="M298.4 352.9L314 319.8" stroke="#5a62f1"/><path d="M317.4 322.8L320.9 325.9L305.3 351.5L301.9 352Z"/><path d="M317.4 322.8L320.9 325.9" stroke="#5568f5"/><path d="M301.9 352L317.4 322.8" stroke="#5b62f1"/><path d="M320.9 325.9L324.4 329.2L308.8 351.3L305.3 351.5Z"/><path d="M320.9 325.9L324.4 329.2" stroke="#5766f3"/><path d="M305.3 351.5L320.9 325.9" stroke="#5b61f1"/><path d="M324.4 329.2L327.9 332.5L312.3 351.7L308.8 351.3Z"/><path d="M324.4 329.2L327.9 332.5" stroke="#5964f2"/><path d="M308.8 351.3L324.4 329.2" stroke="#5c61f0"/><path d="M327.9 332.5L331.4 335.9L315.8 352.4L312.3 351.7Z"/><path d="M327.9 332.5L331.4 335.9" stroke="#5b61f1"/><path d="M312.3 351.7L327.9 332.5" stroke="#5d60ef"/><path d="M331.4 335.9L334.8 339.4L319.3 353.4L315.8 352.4Z"/><path d="M331.4 335.9L334.8 339.4" stroke="#5e5fef"/><path d="M315.8 352.4L331.4 335.9" stroke="#5e5eef"/><path d="M334.8 339.4L338.3 342.8L322.7 354.7L319.3 353.4Z"/><path d="M334.8 339.4L338.3 342.8M319.3 353.4L334.8 339.4" stroke="#605dee"/><path d="M338.3 342.8L341.8 346.2L326.2 356.3L322.7 354.7Z"/><path d="M338.3 342.8L341.8 346.2" stroke="#625cec"/><path d="M322.7 354.7L338.3 342.8" stroke="#615ced"/><path d="M341.8 346.2L345.3 349.5L329.7 358L326.2 356.3Z"/><path d="M341.8 346.2L345.3 349.5" stroke="#635cea"/><path d="M326.2 356.3L341.8 346.2" stroke="#625cec"/><path d="M345.3 349.5L348.7 352.6L333.2 360L329.7 358Z"/><path d="M345.3 349.5L348.7 352.6" stroke="#645de8"/><path d="M329.7 358L345.3 349.5" stroke="#635cea"/><path d="M348.7 352.6L352.2 355.6L336.6 362.1L333.2 360Z"/><path d="M348.7 352.6L352.2 355.6" stroke="#655de6"/><path d="M333.2 360L348.7 352.6" stroke="#635ce9"/><path d="M352.2 355.6L355.7 358.3L340.1 364.3L336.6 362.1Z"/><path d="M352.2 355.6L355.7 358.3" stroke="#665de5"/><path d="M336.6 362.1L352.2 355.6" stroke="#645de7"/><path d="M355.7 358.3L359.2 360.9L343.6 366.5L340.1 364.3Z"/><path d="M355.7 358.3L359.2 360.9" stroke="#675de3"/><path d="M340.1 364.3L355.7 358.3" stroke="#655de6"/><path d="M359.2 360.9L362.7 363.2L347.1 368.8L343.6 366.5Z"/><path d="M359.2 360.9L362.7 363.2" stroke="#675de2"/><path d="M343.6 366.5L359.2 360.9" stroke="#665de5"/><path d="M362.7 363.2L366.1 365.3L350.6 371L347.1 368.8Z"/><path d="M362.7 363.2L366.1 365.3" stroke="#685ee1"/><path d="M347.1 368.8L362.7 363.2" stroke="#665de3"/><path d="M366.1 365.3L369.6 367.1L354 373.2L350.6 371Z"/><path d="M366.1 365.3L369.6 367.1" stroke="#695ee0"/><path d="M350.6 371L366.1 365.3" stroke="#675de2"/><path d="M369.6 367.1L373.1 368.8L357.5 375.3L354 373.2Z"/><path d="M369.6 367.1L373.1 368.8" stroke="#695edf"/><path d="M354 373.2L369.6 367.1" stroke="#685de1"/><path d="M373.1 368.8L376.6 370.3L361 377.3L357.5 375.3Z"/><path d="M373.1 368.8L376.6 370.3" stroke="#695ede"/><path d="M357.5 375.3L373.1 368.8" stroke="#685ee0"/><path d="M376.6 370.3L380 371.6L364.5 379.2L361 377.3Z"/><path d="M376.6 370.3L380 371.6" stroke="#6a5ede"/><path d="M361 377.3L376.6 370.3" stroke="#695ee0"/><path d="M380 371.6L383.5 372.8L367.9 380.9L364.5 379.2Z"/><path d="M380 371.6L383.5 372.8" stroke="#6a5edd"/><path d="M364.5 379.2L380 371.6" stroke="#695edf"/><path d="M383.5 372.8L387 373.9L371.4 382.6L367.9 380.9Z"/><path d="M383.5 372.8L387 373.9" stroke="#6a5edd"/><path d="M367.9 380.9L383.5 372.8" stroke="#695ede"/><path d="M387 373.9L390.5 374.9L374.9 384L371.4 382.6Z"/><path d="M387 373.9L390.5 374.9" stroke="#6b5edc"/><path d="M371.4 382.6L387 373.9" stroke="#6a5ede"/><path d="M390.5 374.9L394 375.7L378.4 385.4L374.9 384Z"/><path d="M390.5 374.9L394 375.7" stroke="#6b5edc"/><path d="M374.9 384L390.5 374.9" stroke="#6a5edd"/><path d="M394 375.7L397.4 376.6L381.9 386.6L378.4 385.4Z"/><path d="M394 375.7L397.4 376.6" stroke="#6b5edc"/><path d="M378.4 385.4L394 375.7" stroke="#6a5edd"/><path d="M397.4 376.6L400.9 377.3L385.3 387.8L381.9 386.6Z"/><path d="M397.4 376.6L400.9 377.3" stroke="#6b5edc"/><path d="M381.9 386.6L397.4 376.6" stroke="#6a5edc"/><path d="M400.9 377.3L404.4 378L388.8 388.8L385.3 387.8Z"/><path d="M400.9 377.3L404.4 378M385.3 387.8L400.9 377.3" stroke="#6b5edc"/><path d="M404.4 378L407.9 378.7L392.3 389.7L388.8 388.8Z"/><path d="M404.4 378L407.9 378.7M388.8 388.8L404.4 378" stroke="#6b5edc"/><path d="M407.9 378.7L411.3 379.3L395.8 390.6L392.3 389.7Z"/><path d="M407.9 378.7L411.3 379.3" stroke="#6b5edb"/><path d="M392.3 389.7L407.9 378.7" stroke="#6b5edc"/><path d="M411.3 379.3L414.8 380L399.2 391.4L395.8 390.6Z"/><path d="M411.3 379.3L414.8 380" stroke="#6b5edb"/><path d="M395.8 390.6L411.3 379.3" stroke="#6b5edc"/><path d="M414.8 380L418.3 380.6L402.7 392.2L399.2 391.4Z"/><path d="M414.8 380L418.3 380.6" stroke="#6b5edb"/><path d="M399.2 391.4L414.8 380" stroke="#6b5edc"/><path d="M418.3 380.6L421.8 381.2L406.2 392.9L402.7 392.2Z"/><path d="M418.3 380.6L421.8 381.2" stroke="#6b5edb"/><path d="M402.7 392.2L418.3 380.6" stroke="#6b5edc"/><path d="M421.8 381.2L425.3 381.8L409.7 393.5L406.2 392.9Z"/><path d="M421.8 381.2L425.3 381.8M406.2 392.9L421.8 381.2" stroke="#6b5edb"/><path d="M425.3 381.8L428.7 382.4L413.2 394.2L409.7 393.5Z"/><path d="M425.3 381.8L428.7 382.4M409.7 393.5L425.3 381.8" stroke="#6b5edb"/><path d="M428.7 382.4L432.2 382.9L416.6 394.8L413.2 394.2Z"/><path d="M428.7 382.4L432.2 382.9M413.2 394.2L428.7 382.4" stroke="#6b5edb"/><path d="M432.2 382.9L435.7 383.5L420.1 395.4L416.6 394.8Z"/><path d="M432.2 382.9L435.7 383.5M416.6 394.8L432.2 382.9" stroke="#6b5edb"/><path d="M435.7 383.5L439.2 384.1L423.6 396L420.1 395.4Z"/><path d="M435.7 383.5L439.2 384.1M420.1 395.4L435.7 383.5" stroke="#6b5edb"/><path d="M439.2 384.1L442.6 384.7L427.1 396.5L423.6 396Z"/><path d="M439.2 384.1L442.6 384.7M423.6 396L439.2 384.1" stroke="#6b5edb"/><path d="M442.6 384.7L446.1 385.2L430.5 396.9L427.1 396.5Z"/><path d="M442.6 384.7L446.1 385.2M427.1 396.5L442.6 384.7" stroke="#6b5edb"/><path d="M446.1 385.2L449.6 385.8L434 397.3L430.5 396.9Z"/><path d="M446.1 385.2L449.6 385.8M430.5 396.9L446.1 385.2" stroke="#6b5edb"/><path d="M449.6 385.8L453.1 386.3L437.5 397.6L434 397.3Z"/><path d="M449.6 385.8L453.1 386.3" stroke="#6b5edb"/><path d="M434 397.3L449.6 385.8" stroke="#6b5edc"/><path d="M453.1 386.3L456.6 386.8L441 397.7L437.5 397.6Z"/><path d="M453.1 386.3L456.6 386.8" stroke="#6b5edb"/><path d="M437.5 397.6L453.1 386.3" stroke="#6b5edc"/><path d="M456.6 386.8L460 387.2L444.5 397.7L441 397.7Z"/><path d="M456.6 386.8L460 387.2" stroke="#6b5edb"/><path d="M441 397.7L456.6 386.8" stroke="#6b5edc"/><path d="M460 387.2L463.5 387.5L447.9 397.4L444.5 397.7Z"/><path d="M460 387.2L463.5 387.5M444.5 397.7L460 387.2" stroke="#6b5edc"/><path d="M463.5 387.5L467 387.6L451.4 396.8L447.9 397.4Z"/><path d="M463.5 387.5L467 387.6" stroke="#6b5edc"/><path d="M447.9 397.4L463.5 387.5" stroke="#6a5edd"/><path d="M467 387.6L470.5 387.5L454.9 395.9L451.4 396.8Z"/><path d="M467 387.6L470.5 387.5" stroke="#6b5edc"/><path d="M451.4 396.8L467 387.6" stroke="#6a5edd"/><path d="M470.5 387.5L473.9 387L458.4 394.6L454.9 395.9Z"/><path d="M470.5 387.5L473.9 387" stroke="#6a5edd"/><path d="M454.9 395.9L470.5 387.5" stroke="#6a5ede"/><path d="M473.9 387L477.4 386.2L461.8 393.1L458.4 394.6Z"/><path d="M473.9 387L477.4 386.2" stroke="#6a5ede"/><path d="M458.4 394.6L473.9 387" stroke="#695edf"/><path d="M477.4 386.2L480.9 384.9L465.3 391.2L461.8 393.1Z"/><path d="M477.4 386.2L480.9 384.9" stroke="#695edf"/><path d="M461.8 393.1L477.4 386.2" stroke="#685ee0"/><path d="M480.9 384.9L484.4 383.3L468.8 389.2L465.3 391.2Z"/><path d="M480.9 384.9L484.4 383.3" stroke="#685ee0"/><path d="M465.3 391.2L480.9 384.9" stroke="#675de2"/><path d="M484.4 383.3L487.9 381.3L472.3 387L468.8 389.2Z"/><path d="M484.4 383.3L487.9 381.3" stroke="#675de2"/><path d="M468.8 389.2L484.4 383.3" stroke="#665de3"/><path d="M487.9 381.3L491.3 379.2L475.8 385L472.3 387Z"/><path d="M487.9 381.3L491.3 379.2" stroke="#665de4"/><path d="M472.3 387L487.9 381.3" stroke="#655de5"/><path d="M491.3 379.2L494.8 377.1L479.2 383.2L475.8 385Z"/><path d="M491.3 379.2L494.8 377.1" stroke="#655de6"/><path d="M475.8 385L491.3 379.2" stroke="#645de7"/><path d="M494.8 377.1L498.3 375.5L482.7 381.8L479.2 383.2Z"/><path d="M494.8 377.1L498.3 375.5" stroke="#645de8"/><path d="M479.2 383.2L494.8 377.1" stroke="#635ce9"/><path d="M498.3 375.5L501.8 374.4L486.2 381.1L482.7 381.8Z"/><path d="M498.3 375.5L501.8 374.4" stroke="#635ce9"/><path d="M482.7 381.8L498.3 375.5" stroke="#625cea"/><path d="M501.8 374.4L505.2 374.2L489.7 381L486.2 381.1Z"/><path d="M501.8 374.4L505.2 374.2" stroke="#635cea"/><path d="M486.2 381.1L501.8 374.4" stroke="#625ceb"/><path d="M505.2 374.2L508.7 374.9L493.1 381.8L489.7 381Z"/><path d="M505.2 374.2L508.7 374.9" stroke="#635cea"/><path d="M489.7 381L505.2 374.2" stroke="#625cec"/><path d="M508.7 374.9L512.2 376.6L496.6 383.4L493.1 381.8Z"/><path d="M508.7 374.9L512.2 376.6" stroke="#635cea"/><path d="M493.1 381.8L508.7 374.9" stroke="#625cec"/><path d="M512.2 376.6L515.7 379L500.1 386L496.6 383.4Z"/><path d="M512.2 376.6L515.7 379" stroke="#645ce9"/><path d="M496.6 383.4L512.2 376.6" stroke="#625ceb"/><path d="M515.7 379L519.2 382L503.6 389.1L500.1 386Z"/><path d="M515.7 379L519.2 382" stroke="#645de7"/><path d="M500.1 386L515.7 379" stroke="#635cea"/><path d="M519.2 382L522.6 385.2L507.1 392.6L503.6 389.1Z"/><path d="M519.2 382L522.6 385.2" stroke="#655de5"/><path d="M503.6 389.1L519.2 382" stroke="#645de8"/><path d="M522.6 385.2L526.1 388.4L510.5 396.3L507.1 392.6Z"/><path d="M522.6 385.2L526.1 388.4" stroke="#675de3"/><path d="M507.1 392.6L522.6 385.2" stroke="#655de6"/><path d="M526.1 388.4L529.6 391.5L514 399.8L510.5 396.3Z"/><path d="M526.1 388.4L529.6 391.5" stroke="#685de2"/><path d="M510.5 396.3L526.1 388.4" stroke="#665de4"/><path d="M529.6 391.5L533.1 394.2L517.5 403.1L514 399.8Z"/><path d="M529.6 391.5L533.1 394.2" stroke="#685ee0"/><path d="M514 399.8L529.6 391.5" stroke="#675de2"/><path d="M533.1 394.2L536.5 396.4L521 405.9L517.5 403.1Z"/><path d="M533.1 394.2L536.5 396.4" stroke="#695edf"/><path d="M517.5 403.1L533.1 394.2" stroke="#685ee0"/><path d="M536.5 396.4L540 398.3L524.4 408.3L521 405.9Z"/><path d="M536.5 396.4L540 398.3" stroke="#6a5edd"/><path d="M521 405.9L536.5 396.4" stroke="#695edf"/><path d="M540 398.3L543.5 399.8L527.9 410.3L524.4 408.3Z"/><path d="M540 398.3L543.5 399.8" stroke="#6a5edd"/><path d="M524.4 408.3L540 398.3" stroke="#6a5ede"/><path d="M543.5 399.8L547 400.9L531.4 411.9L527.9 410.3Z"/><path d="M543.5 399.8L547 400.9M531.4 411.9L547 400.9" stroke="#6b5edc"/><path d="M527.9 410.3L543.5 399.8" stroke="#6a5edd"/><path d="M145.4 349.7L148.8 349.9L133.3 350.7L129.8 354.7Z"/><path d="M145.4 349.7L148.8 349.9" stroke="#6b5edc"/><path d="M129.8 354.7L145.4 349.7" stroke="#695ede"/><path d="M148.8 349.9L152.3 349.8L136.7 345.1L133.3 350.7Z"/><path d="M148.8 349.9L152.3 349.8" stroke="#6b5edc"/><path d="M133.3 350.7L148.8 349.9" stroke="#685ee0"/><path d="M152.3 349.8L155.8 349.5L140.2 337.9L136.7 345.1Z"/><path d="M152.3 349.8L155.8 349.5" stroke="#6a5edd"/><path d="M136.7 345.1L152.3 349.8" stroke="#675de2"/><path d="M155.8 349.5L159.3 348.2L143.7 329.3L140.2 337.9Z"/><path d="M155.8 349.5L159.3 348.2" stroke="#6a5ede"/><path d="M140.2 337.9L155.8 349.5" stroke="#655de6"/><path d="M159.3 348.2L162.8 343.3L147.2 319.6L143.7 329.3Z"/><path d="M159.3 348.2L162.8 343.3" stroke="#685ee0"/><path d="M143.7 329.3L159.3 348.2" stroke="#635ce9"/><path d="M162.8 343.3L166.2 330L150.7 309.4L147.2 319.6Z"/><path d="M162.8 343.3L166.2 330" stroke="#645de7"/><path d="M147.2 319.6L155 331.5" stroke="#5865f3"/><path d="M155 331.5L162.8 343.3" stroke="#635ce9"/><path d="M166.2 330L169.7 307.3L154.1 299.2L150.7 309.4Z"/><path d="M166.2 330L169.7 307.3" stroke="#5964f2"/><path d="M150.7 309.4L166.2 330" stroke="#5568f5"/><path d="M169.7 307.3L173.2 280.4L157.6 289.6L154.1 299.2Z"/><path d="M169.7 307.3L173.2 280.4" stroke="#3b7ef5"/><path d="M154.1 299.2L169.7 307.3" stroke="#4179f6"/><path d="M173.2 280.4L176.7 255.8L161.1 280.9L157.6 289.6Z"/><path d="M173.2 280.4L176.7 255.8" stroke="#199ee2"/><path d="M157.6 289.6L173.2 280.4" stroke="#2392ed"/><path d="M176.7 255.8L180.1 236.6L164.6 273.6L161.1 280.9Z"/><path d="M176.7 255.8L180.1 236.6" stroke="#16b5c9"/><path d="M161.1 280.9L176.7 255.8" stroke="#13a5dd"/><path d="M180.1 236.6L183.6 222.6L168 267.7L164.6 273.6Z"/><path d="M180.1 236.6L183.6 222.6" stroke="#29c2b0"/><path d="M164.6 273.6L180.1 236.6" stroke="#13b3cd"/><path d="M183.6 222.6L187.1 212.5L171.5 263.3L168 267.7Z"/><path d="M183.6 222.6L187.1 212.5" stroke="#49c796"/><path d="M168 267.7L183.6 222.6" stroke="#1ebbbe"/><path d="M187.1 212.5L190.6 205.1L175 260.2L171.5 263.3Z"/><path d="M187.1 212.5L190.6 205.1" stroke="#61cb83"/><path d="M171.5 263.3L179.3 237.9" stroke="#1cbac1"/><path d="M179.3 237.9L187.1 212.5" stroke="#3ec69f"/><path d="M190.6 205.1L194.1 199.5L178.5 258.4L175 260.2Z"/><path d="M190.6 205.1L194.1 199.5" stroke="#73cb78"/><path d="M175 260.2L182.8 232.7" stroke="#21beba"/><path d="M182.8 232.7L190.6 205.1" stroke="#50c891"/><path d="M194.1 199.5L197.5 195.4L182 257.5L178.5 258.4Z"/><path d="M194.1 199.5L197.5 195.4" stroke="#81cb6f"/><path d="M178.5 258.4L186.3 228.9" stroke="#24c0b5"/><path d="M186.3 228.9L194.1 199.5" stroke="#5dcb87"/><path d="M197.5 195.4L201 192.8L185.4 257.2L182 257.5Z"/><path d="M197.5 195.4L201 192.8" stroke="#8bcb69"/><path d="M182 257.5L189.7 226.4" stroke="#27c2b2"/><path d="M189.7 226.4L197.5 195.4" stroke="#67cc7f"/><path d="M201 192.8L204.5 191.7L188.9 257.4L185.4 257.2Z"/><path d="M201 192.8L204.5 191.7" stroke="#91ca66"/><path d="M185.4 257.2L193.2 225" stroke="#2bc3af"/><path d="M193.2 225L201 192.8" stroke="#6ecc7b"/><path d="M204.5 191.7L208 192.6L192.4 257.8L188.9 257.4Z"/><path d="M204.5 191.7L208 192.6" stroke="#93ca65"/><path d="M188.9 257.4L196.7 224.6" stroke="#2dc3ad"/><path d="M196.7 224.6L204.5 191.7" stroke="#71cc79"/><path d="M208 192.6L211.4 196.6L195.9 258.3L192.4 257.8Z"/><path d="M208 192.6L211.4 196.6" stroke="#8eca68"/><path d="M192.4 257.8L200.2 225.2" stroke="#2dc3ad"/><path d="M200.2 225.2L208 192.6" stroke="#71cc79"/><path d="M211.4 196.6L214.9 203.3L199.3 259.3L195.9 258.3Z"/><path d="M211.4 196.6L214.9 203.3" stroke="#82cb6f"/><path d="M195.9 258.3L203.7 227.4" stroke="#2bc3af"/><path d="M203.7 227.4L211.4 196.6" stroke="#6acc7d"/><path d="M214.9 203.3L218.4 211.8L202.8 261.3L199.3 259.3Z"/><path d="M214.9 203.3L218.4 211.8" stroke="#70cc7a"/><path d="M199.3 259.3L207.1 231.3" stroke="#26c2b3"/><path d="M207.1 231.3L214.9 203.3" stroke="#5ecb86"/><path d="M218.4 211.8L221.9 221.6L206.3 264.2L202.8 261.3Z"/><path d="M218.4 211.8L221.9 221.6" stroke="#5aca89"/><path d="M202.8 261.3L210.6 236.6" stroke="#23bfb7"/><path d="M210.6 236.6L218.4 211.8" stroke="#4ec893"/><path d="M221.9 221.6L225.4 233L209.8 267.8L206.3 264.2Z"/><path d="M221.9 221.6L225.4 233" stroke="#41c69d"/><path d="M206.3 264.2L221.9 221.6" stroke="#28c2b1"/><path d="M225.4 233L228.8 245.2L213.3 272L209.8 267.8Z"/><path d="M225.4 233L228.8 245.2" stroke="#25c1b4"/><path d="M209.8 267.8L225.4 233" stroke="#20bdbc"/><path d="M228.8 245.2L232.3 257.7L216.7 276.8L213.3 272Z"/><path d="M228.8 245.2L232.3 257.7" stroke="#19b8c4"/><path d="M213.3 272L228.8 245.2" stroke="#18b6c6"/><path d="M232.3 257.7L235.8 270L220.2 281.8L216.7 276.8Z"/><path d="M232.3 257.7L235.8 270" stroke="#0daed5"/><path d="M216.7 276.8L232.3 257.7" stroke="#10b0d2"/><path d="M235.8 270L239.3 282.1L223.7 287L220.2 281.8Z"/><path d="M235.8 270L239.3 282.1" stroke="#17a1e0"/><path d="M220.2 281.8L235.8 270" stroke="#11a8db"/><path d="M239.3 282.1L242.7 293.7L227.2 292.1L223.7 287Z"/><path d="M239.3 282.1L242.7 293.7" stroke="#2195eb"/><path d="M223.7 287L239.3 282.1" stroke="#199fe2"/><path d="M242.7 293.7L246.2 304.6L230.6 297L227.2 292.1Z"/><path d="M242.7 293.7L246.2 304.6" stroke="#3087f1"/><path d="M227.2 292.1L242.7 293.7" stroke="#2096e9"/><path d="M246.2 304.6L249.7 314.8L234.1 301.6L230.6 297Z"/><path d="M246.2 304.6L249.7 314.8" stroke="#417af6"/><path d="M230.6 297L246.2 304.6" stroke="#298def"/><path d="M249.7 314.8L253.2 324.1L237.6 305.7L234.1 301.6Z"/><path d="M249.7 314.8L253.2 324.1" stroke="#4e6ff9"/><path d="M234.1 301.6L249.7 314.8" stroke="#3484f2"/><path d="M253.2 324.1L256.7 332.2L241.1 309.3L237.6 305.7Z"/><path d="M253.2 324.1L256.7 332.2" stroke="#5568f5"/><path d="M237.6 305.7L253.2 324.1" stroke="#3e7cf5"/><path d="M256.7 332.2L260.1 339.2L244.6 312.4L241.1 309.3Z"/><path d="M256.7 332.2L260.1 339.2" stroke="#5a62f1"/><path d="M241.1 309.3L248.9 320.8" stroke="#3881f4"/><path d="M248.9 320.8L256.7 332.2" stroke="#516cf7"/><path d="M260.1 339.2L263.6 345L248 315L244.6 312.4Z"/><path d="M260.1 339.2L263.6 345" stroke="#5f5eee"/><path d="M244.6 312.4L252.3 325.8" stroke="#3e7cf5"/><path d="M252.3 325.8L260.1 339.2" stroke="#5568f5"/><path d="M263.6 345L267.1 349.5L251.5 317.2L248 315Z"/><path d="M263.6 345L267.1 349.5" stroke="#625cec"/><path d="M248 315L255.8 330" stroke="#4378f7"/><path d="M255.8 330L263.6 345" stroke="#5964f2"/><path d="M267.1 349.5L270.6 352.9L255 319.1L251.5 317.2Z"/><path d="M267.1 349.5L270.6 352.9" stroke="#635ce9"/><path d="M251.5 317.2L259.3 333.4" stroke="#4675f8"/><path d="M259.3 333.4L267.1 349.5" stroke="#5b61f1"/><path d="M270.6 352.9L274 355.1L258.5 320.9L255 319.1Z"/><path d="M270.6 352.9L274 355.1" stroke="#645de8"/><path d="M255 319.1L262.8 336" stroke="#4973f9"/><path d="M262.8 336L270.6 352.9" stroke="#5d5fef"/><path d="M274 355.1L277.5 356.4L261.9 322.8L258.5 320.9Z"/><path d="M274 355.1L277.5 356.4" stroke="#655de7"/><path d="M258.5 320.9L266.3 338" stroke="#4b71f9"/><path d="M266.3 338L274 355.1" stroke="#5f5eef"/><path d="M277.5 356.4L281 356.9L265.4 324.8L261.9 322.8Z"/><path d="M277.5 356.4L281 356.9" stroke="#655de6"/><path d="M261.9 322.8L269.7 339.6" stroke="#4d70fa"/><path d="M269.7 339.6L277.5 356.4" stroke="#5f5dee"/><path d="M281 356.9L284.5 356.7L268.9 327.2L265.4 324.8Z"/><path d="M281 356.9L284.5 356.7" stroke="#655de7"/><path d="M265.4 324.8L273.2 340.8" stroke="#4e6ff9"/><path d="M273.2 340.8L281 356.9" stroke="#605dee"/><path d="M284.5 356.7L288 356L272.4 330L268.9 327.2Z"/><path d="M284.5 356.7L288 356" stroke="#645de8"/><path d="M268.9 327.2L276.7 341.9" stroke="#4f6ef9"/><path d="M276.7 341.9L284.5 356.7" stroke="#5f5dee"/><path d="M288 356L291.4 355L275.9 333.1L272.4 330Z"/><path d="M288 356L291.4 355" stroke="#645ce8"/><path d="M272.4 330L280.2 343" stroke="#506df8"/><path d="M280.2 343L288 356" stroke="#5f5eee"/><path d="M291.4 355L294.9 353.9L279.3 336.3L275.9 333.1Z"/><path d="M291.4 355L294.9 353.9" stroke="#635cea"/><path d="M275.9 333.1L291.4 355" stroke="#5865f3"/><path d="M294.9 353.9L298.4 352.9L282.8 339.7L279.3 336.3Z"/><path d="M294.9 353.9L298.4 352.9" stroke="#625ceb"/><path d="M279.3 336.3L294.9 353.9" stroke="#5865f3"/><path d="M298.4 352.9L301.9 352L286.3 343.2L282.8 339.7Z"/><path d="M298.4 352.9L301.9 352" stroke="#625cec"/><path d="M282.8 339.7L298.4 352.9" stroke="#5964f2"/><path d="M301.9 352L305.3 351.5L289.8 346.9L286.3 343.2Z"/><path d="M301.9 352L305.3 351.5" stroke="#615ced"/><path d="M286.3 343.2L301.9 352" stroke="#5963f2"/><path d="M305.3 351.5L308.8 351.3L293.2 350.7L289.8 346.9Z"/><path d="M305.3 351.5L308.8 351.3" stroke="#615ced"/><path d="M289.8 346.9L305.3 351.5" stroke="#5a63f1"/><path d="M308.8 351.3L312.3 351.7L296.7 354.5L293.2 350.7Z"/><path d="M308.8 351.3L312.3 351.7" stroke="#605dee"/><path d="M293.2 350.7L308.8 351.3" stroke="#5b62f1"/><path d="M312.3 351.7L315.8 352.4L300.2 358.4L296.7 354.5Z"/><path d="M312.3 351.7L315.8 352.4" stroke="#605dee"/><path d="M296.7 354.5L312.3 351.7" stroke="#5c60f0"/><path d="M315.8 352.4L319.3 353.4L303.7 362.2L300.2 358.4Z"/><path d="M315.8 352.4L319.3 353.4" stroke="#605ced"/><path d="M300.2 358.4L315.8 352.4" stroke="#5e5fef"/><path d="M319.3 353.4L322.7 354.7L307.2 365.9L303.7 362.2Z"/><path d="M319.3 353.4L322.7 354.7" stroke="#615ced"/><path d="M303.7 362.2L319.3 353.4" stroke="#5f5dee"/><path d="M322.7 354.7L326.2 356.3L310.6 369.6L307.2 365.9Z"/><path d="M322.7 354.7L326.2 356.3M307.2 365.9L322.7 354.7" stroke="#615ced"/><path d="M326.2 356.3L329.7 358L314.1 373L310.6 369.6Z"/><path d="M326.2 356.3L329.7 358M310.6 369.6L326.2 356.3" stroke="#625cec"/><path d="M329.7 358L333.2 360L317.6 376.3L314.1 373Z"/><path d="M329.7 358L333.2 360" stroke="#625ceb"/><path d="M314.1 373L329.7 358" stroke="#635cea"/><path d="M333.2 360L336.6 362.1L321.1 379.4L317.6 376.3Z"/><path d="M333.2 360L336.6 362.1" stroke="#635cea"/><path d="M317.6 376.3L333.2 360" stroke="#635ce9"/><path d="M336.6 362.1L340.1 364.3L324.5 382.2L321.1 379.4Z"/><path d="M336.6 362.1L340.1 364.3" stroke="#635ce9"/><path d="M321.1 379.4L336.6 362.1" stroke="#645de7"/><path d="M340.1 364.3L343.6 366.5L328 384.8L324.5 382.2Z"/><path d="M340.1 364.3L343.6 366.5" stroke="#645de8"/><path d="M324.5 382.2L340.1 364.3" stroke="#655de6"/><path d="M343.6 366.5L347.1 368.8L331.5 387.1L328 384.8Z"/><path d="M343.6 366.5L347.1 368.8" stroke="#655de6"/><path d="M328 384.8L343.6 366.5" stroke="#665de5"/><path d="M347.1 368.8L350.6 371L335 389.3L331.5 387.1Z"/><path d="M347.1 368.8L350.6 371" stroke="#655de5"/><path d="M331.5 387.1L347.1 368.8" stroke="#665de4"/><path d="M350.6 371L354 373.2L338.5 391.2L335 389.3Z"/><path d="M350.6 371L354 373.2" stroke="#665de4"/><path d="M335 389.3L350.6 371" stroke="#675de2"/><path d="M354 373.2L357.5 375.3L341.9 392.9L338.5 391.2Z"/><path d="M354 373.2L357.5 375.3" stroke="#675de3"/><path d="M338.5 391.2L354 373.2" stroke="#685de1"/><path d="M357.5 375.3L361 377.3L345.4 394.4L341.9 392.9Z"/><path d="M357.5 375.3L361 377.3" stroke="#675de2"/><path d="M341.9 392.9L357.5 375.3" stroke="#685ee0"/><path d="M361 377.3L364.5 379.2L348.9 395.7L345.4 394.4Z"/><path d="M361 377.3L364.5 379.2" stroke="#685ee1"/><path d="M345.4 394.4L361 377.3" stroke="#695ee0"/><path d="M364.5 379.2L367.9 380.9L352.4 396.9L348.9 395.7Z"/><path d="M364.5 379.2L367.9 380.9" stroke="#685ee0"/><path d="M348.9 395.7L364.5 379.2" stroke="#695edf"/><path d="M367.9 380.9L371.4 382.6L355.8 398L352.4 396.9Z"/><path d="M367.9 380.9L371.4 382.6" stroke="#695edf"/><path d="M352.4 396.9L367.9 380.9" stroke="#695ede"/><path d="M371.4 382.6L374.9 384L359.3 398.9L355.8 398Z"/><path d="M371.4 382.6L374.9 384" stroke="#695edf"/><path d="M355.8 398L371.4 382.6" stroke="#6a5ede"/><path d="M374.9 384L378.4 385.4L362.8 399.8L359.3 398.9Z"/><path d="M374.9 384L378.4 385.4" stroke="#6a5ede"/><path d="M359.3 398.9L374.9 384" stroke="#6a5edd"/><path d="M378.4 385.4L381.9 386.6L366.3 400.6L362.8 399.8Z"/><path d="M378.4 385.4L381.9 386.6M362.8 399.8L378.4 385.4" stroke="#6a5edd"/><path d="M381.9 386.6L385.3 387.8L369.8 401.4L366.3 400.6Z"/><path d="M381.9 386.6L385.3 387.8" stroke="#6a5edd"/><path d="M366.3 400.6L381.9 386.6" stroke="#6a5edc"/><path d="M385.3 387.8L388.8 388.8L373.2 402.1L369.8 401.4Z"/><path d="M385.3 387.8L388.8 388.8" stroke="#6a5edd"/><path d="M369.8 401.4L385.3 387.8" stroke="#6b5edc"/><path d="M388.8 388.8L392.3 389.7L376.7 402.8L373.2 402.1Z"/><path d="M388.8 388.8L392.3 389.7M373.2 402.1L388.8 388.8" stroke="#6b5edc"/><path d="M392.3 389.7L395.8 390.6L380.2 403.4L376.7 402.8Z"/><path d="M392.3 389.7L395.8 390.6M376.7 402.8L392.3 389.7" stroke="#6b5edc"/><path d="M395.8 390.6L399.2 391.4L383.7 404L380.2 403.4Z"/><path d="M395.8 390.6L399.2 391.4M380.2 403.4L395.8 390.6" stroke="#6b5edc"/><path d="M399.2 391.4L402.7 392.2L387.1 404.7L383.7 404Z"/><path d="M399.2 391.4L402.7 392.2M383.7 404L399.2 391.4" stroke="#6b5edc"/><path d="M402.7 392.2L406.2 392.9L390.6 405.3L387.1 404.7Z"/><path d="M402.7 392.2L406.2 392.9M387.1 404.7L402.7 392.2" stroke="#6b5edc"/><path d="M406.2 392.9L409.7 393.5L394.1 405.8L390.6 405.3Z"/><path d="M406.2 392.9L409.7 393.5" stroke="#6b5edc"/><path d="M390.6 405.3L406.2 392.9" stroke="#6b5edb"/><path d="M409.7 393.5L413.2 394.2L397.6 406.4L394.1 405.8Z"/><path d="M409.7 393.5L413.2 394.2M394.1 405.8L409.7 393.5" stroke="#6b5edb"/><path d="M413.2 394.2L416.6 394.8L401.1 407L397.6 406.4Z"/><path d="M413.2 394.2L416.6 394.8M397.6 406.4L413.2 394.2" stroke="#6b5edb"/><path d="M416.6 394.8L420.1 395.4L404.5 407.5L401.1 407Z"/><path d="M416.6 394.8L420.1 395.4M401.1 407L416.6 394.8" stroke="#6b5edb"/><path d="M420.1 395.4L423.6 396L408 408L404.5 407.5Z"/><path d="M420.1 395.4L423.6 396M404.5 407.5L420.1 395.4" stroke="#6b5edb"/><path d="M423.6 396L427.1 396.5L411.5 408.5L408 408Z"/><path d="M423.6 396L427.1 396.5M408 408L423.6 396" stroke="#6b5edb"/><path d="M427.1 396.5L430.5 396.9L415 408.9L411.5 408.5Z"/><path d="M427.1 396.5L430.5 396.9" stroke="#6b5edc"/><path d="M411.5 408.5L427.1 396.5" stroke="#6b5edb"/><path d="M430.5 396.9L434 397.3L418.4 409.2L415 408.9Z"/><path d="M430.5 396.9L434 397.3M415 408.9L430.5 396.9" stroke="#6b5edc"/><path d="M434 397.3L437.5 397.6L421.9 409.4L418.4 409.2Z"/><path d="M434 397.3L437.5 397.6M418.4 409.2L434 397.3" stroke="#6b5edc"/><path d="M437.5 397.6L441 397.7L425.4 409.4L421.9 409.4Z"/><path d="M437.5 397.6L441 397.7M421.9 409.4L437.5 397.6" stroke="#6b5edc"/><path d="M441 397.7L444.5 397.7L428.9 409.2L425.4 409.4Z"/><path d="M441 397.7L444.5 397.7" stroke="#6a5edc"/><path d="M425.4 409.4L441 397.7" stroke="#6b5edc"/><path d="M444.5 397.7L447.9 397.4L432.4 408.7L428.9 409.2Z"/><path d="M444.5 397.7L447.9 397.4M428.9 409.2L444.5 397.7" stroke="#6a5edd"/><path d="M447.9 397.4L451.4 396.8L435.8 407.8L432.4 408.7Z"/><path d="M447.9 397.4L451.4 396.8M432.4 408.7L447.9 397.4" stroke="#6a5ede"/><path d="M451.4 396.8L454.9 395.9L439.3 406.5L435.8 407.8Z"/><path d="M451.4 396.8L454.9 395.9" stroke="#695edf"/><path d="M435.8 407.8L451.4 396.8" stroke="#695ede"/><path d="M454.9 395.9L458.4 394.6L442.8 404.8L439.3 406.5Z"/><path d="M454.9 395.9L458.4 394.6M439.3 406.5L454.9 395.9" stroke="#695ee0"/><path d="M458.4 394.6L461.8 393.1L446.3 402.6L442.8 404.8Z"/><path d="M458.4 394.6L461.8 393.1M442.8 404.8L458.4 394.6" stroke="#685ee1"/><path d="M461.8 393.1L465.3 391.2L449.7 400.1L446.3 402.6Z"/><path d="M461.8 393.1L465.3 391.2M446.3 402.6L461.8 393.1" stroke="#675de3"/><path d="M465.3 391.2L468.8 389.2L453.2 397.4L449.7 400.1Z"/><path d="M465.3 391.2L468.8 389.2M449.7 400.1L465.3 391.2" stroke="#665de5"/><path d="M468.8 389.2L472.3 387L456.7 394.5L453.2 397.4Z"/><path d="M468.8 389.2L472.3 387" stroke="#655de7"/><path d="M453.2 397.4L468.8 389.2" stroke="#645de7"/><path d="M472.3 387L475.8 385L460.2 391.8L456.7 394.5Z"/><path d="M472.3 387L475.8 385" stroke="#645ce8"/><path d="M456.7 394.5L472.3 387" stroke="#635ce9"/><path d="M475.8 385L479.2 383.2L463.7 389.3L460.2 391.8Z"/><path d="M475.8 385L479.2 383.2" stroke="#635cea"/><path d="M460.2 391.8L475.8 385" stroke="#625ceb"/><path d="M479.2 383.2L482.7 381.8L467.1 387.5L463.7 389.3Z"/><path d="M479.2 383.2L482.7 381.8" stroke="#625cec"/><path d="M463.7 389.3L479.2 383.2" stroke="#615ced"/><path d="M482.7 381.8L486.2 381.1L470.6 386.3L467.1 387.5Z"/><path d="M482.7 381.8L486.2 381.1" stroke="#615ced"/><path d="M467.1 387.5L482.7 381.8" stroke="#5f5eee"/><path d="M486.2 381.1L489.7 381L474.1 386.1L470.6 386.3Z"/><path d="M486.2 381.1L489.7 381" stroke="#605ced"/><path d="M470.6 386.3L486.2 381.1" stroke="#5e5fef"/><path d="M489.7 381L493.1 381.8L477.6 386.9L474.1 386.1Z"/><path d="M489.7 381L493.1 381.8" stroke="#605cee"/><path d="M474.1 386.1L489.7 381" stroke="#5d5fef"/><path d="M493.1 381.8L496.6 383.4L481 388.9L477.6 386.9Z"/><path d="M493.1 381.8L496.6 383.4" stroke="#615ced"/><path d="M477.6 386.9L493.1 381.8" stroke="#5d5fef"/><path d="M496.6 383.4L500.1 386L484.5 391.9L481 388.9Z"/><path d="M496.6 383.4L500.1 386" stroke="#615cec"/><path d="M481 388.9L496.6 383.4" stroke="#5f5eef"/><path d="M500.1 386L503.6 389.1L488 395.8L484.5 391.9Z"/><path d="M500.1 386L503.6 389.1" stroke="#625ceb"/><path d="M484.5 391.9L500.1 386" stroke="#605cee"/><path d="M503.6 389.1L507.1 392.6L491.5 400.1L488 395.8Z"/><path d="M503.6 389.1L507.1 392.6" stroke="#635ce9"/><path d="M488 395.8L503.6 389.1" stroke="#625cec"/><path d="M507.1 392.6L510.5 396.3L495 404.5L491.5 400.1Z"/><path d="M507.1 392.6L510.5 396.3" stroke="#655de6"/><path d="M491.5 400.1L507.1 392.6" stroke="#635ce9"/><path d="M510.5 396.3L514 399.8L498.4 408.9L495 404.5Z"/><path d="M510.5 396.3L514 399.8" stroke="#665de4"/><path d="M495 404.5L510.5 396.3" stroke="#655de7"/><path d="M514 399.8L517.5 403.1L501.9 412.8L498.4 408.9Z"/><path d="M514 399.8L517.5 403.1" stroke="#675de2"/><path d="M498.4 408.9L514 399.8" stroke="#665de4"/><path d="M517.5 403.1L521 405.9L505.4 416.3L501.9 412.8Z"/><path d="M517.5 403.1L521 405.9" stroke="#685ee1"/><path d="M501.9 412.8L517.5 403.1" stroke="#675de2"/><path d="M521 405.9L524.4 408.3L508.9 419.2L505.4 416.3Z"/><path d="M521 405.9L524.4 408.3" stroke="#695edf"/><path d="M505.4 416.3L521 405.9" stroke="#685ee0"/><path d="M524.4 408.3L527.9 410.3L512.3 421.6L508.9 419.2Z"/><path d="M524.4 408.3L527.9 410.3" stroke="#6a5ede"/><path d="M508.9 419.2L524.4 408.3" stroke="#695edf"/><path d="M527.9 410.3L531.4 411.9L515.8 423.4L512.3 421.6Z"/><path d="M527.9 410.3L531.4 411.9M515.8 423.4L531.4 411.9" stroke="#6a5edd"/><path d="M512.3 421.6L527.9 410.3" stroke="#6a5ede"/><path d="M129.8 354.7L133.3 350.7L117.7 374.8L114.2 374.3Z"/><path d="M129.8 354.7L133.3 350.7" stroke="#675de2"/><path d="M114.2 374.3L129.8 354.7" stroke="#6a5ede"/><path d="M133.3 350.7L136.7 345.1L121.2 375.2L117.7 374.8Z"/><path d="M133.3 350.7L136.7 345.1" stroke="#655de6"/><path d="M117.7 374.8L133.3 350.7" stroke="#695ee0"/><path d="M136.7 345.1L140.2 337.9L124.6 375.5L121.2 375.2Z"/><path d="M136.7 345.1L140.2 337.9" stroke="#625ceb"/><path d="M121.2 375.2L136.7 345.1" stroke="#675de2"/><path d="M140.2 337.9L143.7 329.3L128.1 375.4L124.6 375.5Z"/><path d="M140.2 337.9L143.7 329.3" stroke="#5c60f0"/><path d="M124.6 375.5L140.2 337.9" stroke="#665de5"/><path d="M143.7 329.3L147.2 319.6L131.6 375L128.1 375.4Z"/><path d="M143.7 329.3L147.2 319.6" stroke="#5468f5"/><path d="M128.1 375.4L143.7 329.3" stroke="#645ce8"/><path d="M147.2 319.6L150.7 309.4L135.1 373.9L131.6 375Z"/><path d="M147.2 319.6L150.7 309.4" stroke="#4b71fa"/><path d="M131.6 375L139.4 347.3" stroke="#665de5"/><path d="M139.4 347.3L147.2 319.6" stroke="#5964f2"/><path d="M150.7 309.4L154.1 299.2L138.5 371.9L135.1 373.9Z"/><path d="M150.7 309.4L154.1 299.2" stroke="#3a7ff4"/><path d="M135.1 373.9L142.9 341.7" stroke="#645de7"/><path d="M142.9 341.7L150.7 309.4" stroke="#526bf6"/><path d="M154.1 299.2L157.6 289.6L142 368.9L138.5 371.9Z"/><path d="M154.1 299.2L157.6 289.6" stroke="#298def"/><path d="M138.5 371.9L146.3 335.6" stroke="#625ceb"/><path d="M146.3 335.6L154.1 299.2" stroke="#4a73f9"/><path d="M157.6 289.6L161.1 280.9L145.5 364.4L142 368.9Z"/><path d="M157.6 289.6L161.1 280.9" stroke="#1e99e7"/><path d="M142 368.9L149.8 329.2" stroke="#5f5dee"/><path d="M149.8 329.2L157.6 289.6" stroke="#3c7ef5"/><path d="M161.1 280.9L164.6 273.6L149 358.4L145.5 364.4Z"/><path d="M161.1 280.9L164.6 273.6" stroke="#16a2df"/><path d="M145.5 364.4L150.7 336.6" stroke="#5f5dee"/><path d="M150.7 336.6L155.9 308.7" stroke="#4b71fa"/><path d="M155.9 308.7L161.1 280.9" stroke="#2591ed"/><path d="M164.6 273.6L168 267.7L152.5 350.9L149 358.4Z"/><path d="M164.6 273.6L168 267.7" stroke="#0faad9"/><path d="M149 358.4L154.2 330.2" stroke="#5a63f2"/><path d="M154.2 330.2L159.4 301.9" stroke="#407bf6"/><path d="M159.4 301.9L164.6 273.6" stroke="#1d99e7"/><path d="M168 267.7L171.5 263.3L155.9 342L152.5 350.9Z"/><path d="M168 267.7L171.5 263.3" stroke="#10b0d2"/><path d="M152.5 350.9L157.7 323.2" stroke="#5369f6"/><path d="M157.7 323.2L162.8 295.4" stroke="#3484f2"/><path d="M162.8 295.4L168 267.7" stroke="#17a1e1"/><path d="M171.5 263.3L175 260.2L159.4 331.8L155.9 342Z"/><path d="M171.5 263.3L175 260.2" stroke="#14b3cc"/><path d="M155.9 342L163.7 302.6" stroke="#4378f7"/><path d="M163.7 302.6L171.5 263.3" stroke="#17a1e0"/><path d="M175 260.2L178.5 258.4L162.9 320.8L159.4 331.8Z"/><path d="M175 260.2L178.5 258.4" stroke="#17b6c7"/><path d="M159.4 331.8L167.2 296" stroke="#3584f2"/><path d="M167.2 296L175 260.2" stroke="#12a7db"/><path d="M178.5 258.4L182 257.5L166.4 309.5L162.9 320.8Z"/><path d="M178.5 258.4L182 257.5" stroke="#19b7c5"/><path d="M162.9 320.8L170.7 289.6" stroke="#2690ee"/><path d="M170.7 289.6L178.5 258.4" stroke="#0eacd7"/><path d="M182 257.5L185.4 257.2L169.8 298.4L166.4 309.5Z"/><path d="M182 257.5L185.4 257.2" stroke="#1ab8c3"/><path d="M166.4 309.5L174.2 283.5" stroke="#1c9ae6"/><path d="M174.2 283.5L182 257.5" stroke="#10b0d2"/><path d="M185.4 257.2L188.9 257.4L173.3 287.9L169.8 298.4Z"/><path d="M185.4 257.2L188.9 257.4" stroke="#1bb9c2"/><path d="M169.8 298.4L185.4 257.2" stroke="#0dadd7"/><path d="M188.9 257.4L192.4 257.8L176.8 278.4L173.3 287.9Z"/><path d="M188.9 257.4L192.4 257.8" stroke="#1bb9c2"/><path d="M173.3 287.9L188.9 257.4" stroke="#12b2cf"/><path d="M192.4 257.8L195.9 258.3L180.3 270.3L176.8 278.4Z"/><path d="M192.4 257.8L195.9 258.3" stroke="#1bb9c2"/><path d="M176.8 278.4L192.4 257.8" stroke="#17b6c8"/><path d="M195.9 258.3L199.3 259.3L183.8 263.6L180.3 270.3Z"/><path d="M195.9 258.3L199.3 259.3" stroke="#1bb9c2"/><path d="M180.3 270.3L195.9 258.3" stroke="#1cb9c2"/><path d="M199.3 259.3L202.8 261.3L187.2 258.4L183.8 263.6Z"/><path d="M199.3 259.3L202.8 261.3" stroke="#1ab8c3"/><path d="M183.8 263.6L199.3 259.3" stroke="#1fbcbd"/><path d="M202.8 261.3L206.3 264.2L190.7 254.5L187.2 258.4Z"/><path d="M202.8 261.3L206.3 264.2" stroke="#18b7c6"/><path d="M187.2 258.4L202.8 261.3" stroke="#21beba"/><path d="M206.3 264.2L209.8 267.8L194.2 251.7L190.7 254.5Z"/><path d="M206.3 264.2L209.8 267.8" stroke="#16b5ca"/><path d="M190.7 254.5L206.3 264.2" stroke="#22bfb8"/><path d="M209.8 267.8L213.3 272L197.7 249.6L194.2 251.7Z"/><path d="M209.8 267.8L213.3 272" stroke="#12b2ce"/><path d="M194.2 251.7L209.8 267.8" stroke="#23bfb8"/><path d="M213.3 272L216.7 276.8L201.1 248L197.7 249.6Z"/><path d="M213.3 272L216.7 276.8" stroke="#0eafd4"/><path d="M197.7 249.6L213.3 272" stroke="#22beb8"/><path d="M216.7 276.8L220.2 281.8L204.6 246.5L201.1 248Z"/><path d="M216.7 276.8L220.2 281.8" stroke="#0faad9"/><path d="M201.1 248L208.9 262.4" stroke="#33c4a8"/><path d="M208.9 262.4L216.7 276.8" stroke="#17b5c8"/><path d="M220.2 281.8L223.7 287L208.1 246.3L204.6 246.5Z"/><path d="M220.2 281.8L223.7 287" stroke="#13a5dd"/><path d="M204.6 246.5L212.4 264.2" stroke="#34c4a7"/><path d="M212.4 264.2L220.2 281.8" stroke="#14b3cc"/><path d="M223.7 287L227.2 292.1L211.6 249.5L208.1 246.3Z"/><path d="M223.7 287L227.2 292.1" stroke="#18a0e1"/><path d="M208.1 246.3L215.9 266.6" stroke="#33c4a9"/><path d="M215.9 266.6L223.7 287" stroke="#10b0d1"/><path d="M227.2 292.1L230.6 297L215.1 255.6L211.6 249.5Z"/><path d="M227.2 292.1L230.6 297" stroke="#1c9be5"/><path d="M211.6 249.5L219.4 270.8" stroke="#2bc3af"/><path d="M219.4 270.8L227.2 292.1" stroke="#0dadd7"/><path d="M230.6 297L234.1 301.6L218.5 264L215.1 255.6Z"/><path d="M230.6 297L234.1 301.6" stroke="#1f97e9"/><path d="M215.1 255.6L222.9 276.3" stroke="#23bfb7"/><path d="M222.9 276.3L230.6 297" stroke="#11a8db"/><path d="M234.1 301.6L237.6 305.7L222 273.9L218.5 264Z"/><path d="M234.1 301.6L237.6 305.7" stroke="#2392ec"/><path d="M218.5 264L226.3 282.8" stroke="#1cb9c1"/><path d="M226.3 282.8L234.1 301.6" stroke="#16a2df"/><path d="M237.6 305.7L241.1 309.3L225.5 284.4L222 273.9Z"/><path d="M237.6 305.7L241.1 309.3" stroke="#288eee"/><path d="M222 273.9L229.8 289.8" stroke="#14b3cc"/><path d="M229.8 289.8L237.6 305.7" stroke="#1b9de4"/><path d="M241.1 309.3L244.6 312.4L229 294.8L225.5 284.4Z"/><path d="M241.1 309.3L244.6 312.4" stroke="#2c8af0"/><path d="M225.5 284.4L233.3 296.9" stroke="#0eacd7"/><path d="M233.3 296.9L241.1 309.3" stroke="#1f97e8"/><path d="M244.6 312.4L248 315L232.4 304.2L229 294.8Z"/><path d="M244.6 312.4L248 315" stroke="#3087f1"/><path d="M229 294.8L244.6 312.4" stroke="#1c9be5"/><path d="M248 315L251.5 317.2L235.9 312.4L232.4 304.2Z"/><path d="M248 315L251.5 317.2" stroke="#3385f2"/><path d="M232.4 304.2L248 315" stroke="#2195ea"/><path d="M251.5 317.2L255 319.1L239.4 319.1L235.9 312.4Z"/><path d="M251.5 317.2L255 319.1" stroke="#3583f3"/><path d="M235.9 312.4L251.5 317.2" stroke="#268fee"/><path d="M255 319.1L258.5 320.9L242.9 324.3L239.4 319.1Z"/><path d="M255 319.1L258.5 320.9" stroke="#3781f3"/><path d="M239.4 319.1L255 319.1" stroke="#2d8af0"/><path d="M258.5 320.9L261.9 322.8L246.4 328.1L242.9 324.3Z"/><path d="M258.5 320.9L261.9 322.8" stroke="#3980f4"/><path d="M242.9 324.3L258.5 320.9" stroke="#3186f1"/><path d="M261.9 322.8L265.4 324.8L249.8 330.8L246.4 328.1Z"/><path d="M261.9 322.8L265.4 324.8" stroke="#3c7ef5"/><path d="M246.4 328.1L261.9 322.8" stroke="#3583f3"/><path d="M265.4 324.8L268.9 327.2L253.3 332.6L249.8 330.8Z"/><path d="M265.4 324.8L268.9 327.2" stroke="#3e7cf5"/><path d="M249.8 330.8L265.4 324.8" stroke="#3881f3"/><path d="M268.9 327.2L272.4 330L256.8 333.9L253.3 332.6Z"/><path d="M268.9 327.2L272.4 330" stroke="#4179f6"/><path d="M253.3 332.6L268.9 327.2" stroke="#3a7ff4"/><path d="M272.4 330L275.9 333.1L260.3 335.1L256.8 333.9Z"/><path d="M272.4 330L275.9 333.1" stroke="#4576f8"/><path d="M256.8 333.9L272.4 330" stroke="#3d7df5"/><path d="M275.9 333.1L279.3 336.3L263.7 336.3L260.3 335.1Z"/><path d="M275.9 333.1L279.3 336.3" stroke="#4a73f9"/><path d="M260.3 335.1L275.9 333.1" stroke="#3f7bf6"/><path d="M279.3 336.3L282.8 339.7L267.2 337.7L263.7 336.3Z"/><path d="M279.3 336.3L282.8 339.7" stroke="#4d6ff9"/><path d="M263.7 336.3L279.3 336.3" stroke="#4279f7"/><path d="M282.8 339.7L286.3 343.2L270.7 339.3L267.2 337.7Z"/><path d="M282.8 339.7L286.3 343.2" stroke="#506df8"/><path d="M267.2 337.7L282.8 339.7" stroke="#4576f8"/><path d="M286.3 343.2L289.8 346.9L274.2 341.1L270.7 339.3Z"/><path d="M286.3 343.2L289.8 346.9" stroke="#526bf6"/><path d="M270.7 339.3L286.3 343.2" stroke="#4874f9"/><path d="M289.8 346.9L293.2 350.7L277.7 343.2L274.2 341.1Z"/><path d="M289.8 346.9L293.2 350.7" stroke="#5568f5"/><path d="M274.2 341.1L289.8 346.9" stroke="#4c71fa"/><path d="M293.2 350.7L296.7 354.5L281.1 345.6L277.7 343.2Z"/><path d="M293.2 350.7L296.7 354.5" stroke="#5765f3"/><path d="M277.7 343.2L293.2 350.7" stroke="#4e6ff9"/><path d="M296.7 354.5L300.2 358.4L284.6 348.3L281.1 345.6Z"/><path d="M296.7 354.5L300.2 358.4" stroke="#5a63f2"/><path d="M281.1 345.6L296.7 354.5" stroke="#506df8"/><path d="M300.2 358.4L303.7 362.2L288.1 351.3L284.6 348.3Z"/><path d="M300.2 358.4L303.7 362.2" stroke="#5d60f0"/><path d="M284.6 348.3L300.2 358.4" stroke="#526af6"/><path d="M303.7 362.2L307.2 365.9L291.6 354.5L288.1 351.3Z"/><path d="M303.7 362.2L307.2 365.9" stroke="#5f5eee"/><path d="M288.1 351.3L303.7 362.2" stroke="#5568f5"/><path d="M307.2 365.9L310.6 369.6L295 357.9L291.6 354.5Z"/><path d="M307.2 365.9L310.6 369.6" stroke="#615cec"/><path d="M291.6 354.5L307.2 365.9" stroke="#5766f3"/><path d="M310.6 369.6L314.1 373L298.5 361.5L295 357.9Z"/><path d="M310.6 369.6L314.1 373" stroke="#635cea"/><path d="M295 357.9L310.6 369.6" stroke="#5963f2"/><path d="M314.1 373L317.6 376.3L302 365.2L298.5 361.5Z"/><path d="M314.1 373L317.6 376.3" stroke="#645ce8"/><path d="M298.5 361.5L314.1 373" stroke="#5c61f0"/><path d="M317.6 376.3L321.1 379.4L305.5 368.9L302 365.2Z"/><path d="M317.6 376.3L321.1 379.4" stroke="#655de6"/><path d="M302 365.2L317.6 376.3" stroke="#5e5fef"/><path d="M321.1 379.4L324.5 382.2L309 372.6L305.5 368.9Z"/><path d="M321.1 379.4L324.5 382.2" stroke="#665de5"/><path d="M305.5 368.9L321.1 379.4" stroke="#605ced"/><path d="M324.5 382.2L328 384.8L312.4 376.3L309 372.6Z"/><path d="M324.5 382.2L328 384.8" stroke="#675de3"/><path d="M309 372.6L324.5 382.2" stroke="#625cec"/><path d="M328 384.8L331.5 387.1L315.9 379.9L312.4 376.3Z"/><path d="M328 384.8L331.5 387.1" stroke="#675de2"/><path d="M312.4 376.3L328 384.8" stroke="#635cea"/><path d="M331.5 387.1L335 389.3L319.4 383.4L315.9 379.9Z"/><path d="M331.5 387.1L335 389.3" stroke="#685ee1"/><path d="M315.9 379.9L331.5 387.1" stroke="#645de8"/><path d="M335 389.3L338.5 391.2L322.9 386.8L319.4 383.4Z"/><path d="M335 389.3L338.5 391.2" stroke="#695ee0"/><path d="M319.4 383.4L335 389.3" stroke="#655de7"/><path d="M338.5 391.2L341.9 392.9L326.3 389.9L322.9 386.8Z"/><path d="M338.5 391.2L341.9 392.9" stroke="#695edf"/><path d="M322.9 386.8L338.5 391.2" stroke="#665de5"/><path d="M341.9 392.9L345.4 394.4L329.8 392.9L326.3 389.9Z"/><path d="M341.9 392.9L345.4 394.4" stroke="#695ede"/><path d="M326.3 389.9L341.9 392.9" stroke="#665de4"/><path d="M345.4 394.4L348.9 395.7L333.3 395.7L329.8 392.9Z"/><path d="M345.4 394.4L348.9 395.7" stroke="#6a5ede"/><path d="M329.8 392.9L345.4 394.4" stroke="#675de3"/><path d="M348.9 395.7L352.4 396.9L336.8 398.3L333.3 395.7Z"/><path d="M348.9 395.7L352.4 396.9" stroke="#6a5edd"/><path d="M333.3 395.7L348.9 395.7" stroke="#685de2"/><path d="M352.4 396.9L355.8 398L340.3 400.7L336.8 398.3Z"/><path d="M352.4 396.9L355.8 398" stroke="#6a5edd"/><path d="M336.8 398.3L352.4 396.9" stroke="#685ee1"/><path d="M355.8 398L359.3 398.9L343.7 402.9L340.3 400.7Z"/><path d="M355.8 398L359.3 398.9" stroke="#6b5edc"/><path d="M340.3 400.7L355.8 398" stroke="#695ee0"/><path d="M359.3 398.9L362.8 399.8L347.2 405L343.7 402.9Z"/><path d="M359.3 398.9L362.8 399.8" stroke="#6b5edc"/><path d="M343.7 402.9L359.3 398.9" stroke="#695edf"/><path d="M362.8 399.8L366.3 400.6L350.7 406.8L347.2 405Z"/><path d="M362.8 399.8L366.3 400.6" stroke="#6b5edc"/><path d="M347.2 405L362.8 399.8" stroke="#695ede"/><path d="M366.3 400.6L369.8 401.4L354.2 408.5L350.7 406.8Z"/><path d="M366.3 400.6L369.8 401.4" stroke="#6b5edc"/><path d="M350.7 406.8L366.3 400.6" stroke="#6a5ede"/><path d="M369.8 401.4L373.2 402.1L357.7 410L354.2 408.5Z"/><path d="M369.8 401.4L373.2 402.1" stroke="#6b5edc"/><path d="M354.2 408.5L369.8 401.4" stroke="#6a5edd"/><path d="M373.2 402.1L376.7 402.8L361.1 411.4L357.7 410Z"/><path d="M373.2 402.1L376.7 402.8" stroke="#6b5edc"/><path d="M357.7 410L373.2 402.1" stroke="#6a5edd"/><path d="M376.7 402.8L380.2 403.4L364.6 412.6L361.1 411.4Z"/><path d="M376.7 402.8L380.2 403.4" stroke="#6b5edb"/><path d="M361.1 411.4L376.7 402.8" stroke="#6a5edd"/><path d="M380.2 403.4L383.7 404L368.1 413.8L364.6 412.6Z"/><path d="M380.2 403.4L383.7 404" stroke="#6b5edb"/><path d="M364.6 412.6L380.2 403.4" stroke="#6a5edc"/><path d="M383.7 404L387.1 404.7L371.6 414.8L368.1 413.8Z"/><path d="M383.7 404L387.1 404.7" stroke="#6b5edb"/><path d="M368.1 413.8L383.7 404" stroke="#6b5edc"/><path d="M387.1 404.7L390.6 405.3L375 415.8L371.6 414.8Z"/><path d="M387.1 404.7L390.6 405.3" stroke="#6b5edb"/><path d="M371.6 414.8L387.1 404.7" stroke="#6b5edc"/><path d="M390.6 405.3L394.1 405.8L378.5 416.7L375 415.8Z"/><path d="M390.6 405.3L394.1 405.8" stroke="#6b5edb"/><path d="M375 415.8L390.6 405.3" stroke="#6b5edc"/><path d="M394.1 405.8L397.6 406.4L382 417.5L378.5 416.7Z"/><path d="M394.1 405.8L397.6 406.4" stroke="#6b5edb"/><path d="M378.5 416.7L394.1 405.8" stroke="#6b5edc"/><path d="M397.6 406.4L401.1 407L385.5 418.3L382 417.5Z"/><path d="M397.6 406.4L401.1 407" stroke="#6b5edb"/><path d="M382 417.5L397.6 406.4" stroke="#6b5edc"/><path d="M401.1 407L404.5 407.5L389 419L385.5 418.3Z"/><path d="M401.1 407L404.5 407.5" stroke="#6b5edb"/><path d="M385.5 418.3L401.1 407" stroke="#6b5edc"/><path d="M404.5 407.5L408 408L392.4 419.6L389 419Z"/><path d="M404.5 407.5L408 408" stroke="#6b5edb"/><path d="M389 419L404.5 407.5" stroke="#6b5edc"/><path d="M408 408L411.5 408.5L395.9 420.2L392.4 419.6Z"/><path d="M408 408L411.5 408.5" stroke="#6b5edb"/><path d="M392.4 419.6L408 408" stroke="#6b5edc"/><path d="M411.5 408.5L415 408.9L399.4 420.6L395.9 420.2Z"/><path d="M411.5 408.5L415 408.9M395.9 420.2L411.5 408.5" stroke="#6b5edc"/><path d="M415 408.9L418.4 409.2L402.9 421L399.4 420.6Z"/><path d="M415 408.9L418.4 409.2M399.4 420.6L415 408.9" stroke="#6b5edc"/><path d="M418.4 409.2L421.9 409.4L406.3 421.1L402.9 421Z"/><path d="M418.4 409.2L421.9 409.4M402.9 421L418.4 409.2" stroke="#6b5edc"/><path d="M421.9 409.4L425.4 409.4L409.8 421L406.3 421.1Z"/><path d="M421.9 409.4L425.4 409.4M406.3 421.1L421.9 409.4" stroke="#6b5edc"/><path d="M425.4 409.4L428.9 409.2L413.3 420.7L409.8 421Z"/><path d="M425.4 409.4L428.9 409.2M409.8 421L425.4 409.4" stroke="#6a5edd"/><path d="M428.9 409.2L432.4 408.7L416.8 419.9L413.3 420.7Z"/><path d="M428.9 409.2L432.4 408.7M413.3 420.7L428.9 409.2" stroke="#6a5edd"/><path d="M432.4 408.7L435.8 407.8L420.3 418.7L416.8 419.9Z"/><path d="M432.4 408.7L435.8 407.8" stroke="#695ede"/><path d="M416.8 419.9L432.4 408.7" stroke="#6a5ede"/><path d="M435.8 407.8L439.3 406.5L423.7 417.1L420.3 418.7Z"/><path d="M435.8 407.8L439.3 406.5" stroke="#695ee0"/><path d="M420.3 418.7L435.8 407.8" stroke="#695edf"/><path d="M439.3 406.5L442.8 404.8L427.2 414.9L423.7 417.1Z"/><path d="M439.3 406.5L442.8 404.8M423.7 417.1L439.3 406.5" stroke="#685ee1"/><path d="M442.8 404.8L446.3 402.6L430.7 412.1L427.2 414.9Z"/><path d="M442.8 404.8L446.3 402.6" stroke="#675de3"/><path d="M427.2 414.9L442.8 404.8" stroke="#675de2"/><path d="M446.3 402.6L449.7 400.1L434.2 409L430.7 412.1Z"/><path d="M446.3 402.6L449.7 400.1M430.7 412.1L446.3 402.6" stroke="#665de5"/><path d="M449.7 400.1L453.2 397.4L437.6 405.5L434.2 409Z"/><path d="M449.7 400.1L453.2 397.4M434.2 409L449.7 400.1" stroke="#645de7"/><path d="M453.2 397.4L456.7 394.5L441.1 402L437.6 405.5Z"/><path d="M453.2 397.4L456.7 394.5M437.6 405.5L453.2 397.4" stroke="#635cea"/><path d="M456.7 394.5L460.2 391.8L444.6 398.5L441.1 402Z"/><path d="M456.7 394.5L460.2 391.8" stroke="#625cec"/><path d="M441.1 402L456.7 394.5" stroke="#615cec"/><path d="M460.2 391.8L463.7 389.3L448.1 395.5L444.6 398.5Z"/><path d="M460.2 391.8L463.7 389.3" stroke="#605dee"/><path d="M444.6 398.5L460.2 391.8" stroke="#5f5eee"/><path d="M463.7 389.3L467.1 387.5L451.6 393.1L448.1 395.5Z"/><path d="M463.7 389.3L467.1 387.5" stroke="#5e5fef"/><path d="M448.1 395.5L463.7 389.3" stroke="#5c61f0"/><path d="M467.1 387.5L470.6 386.3L455 391.6L451.6 393.1Z"/><path d="M467.1 387.5L470.6 386.3" stroke="#5c61f0"/><path d="M451.6 393.1L467.1 387.5" stroke="#5a63f1"/><path d="M470.6 386.3L474.1 386.1L458.5 391.2L455 391.6Z"/><path d="M470.6 386.3L474.1 386.1" stroke="#5b62f1"/><path d="M455 391.6L470.6 386.3" stroke="#5864f2"/><path d="M474.1 386.1L477.6 386.9L462 392L458.5 391.2Z"/><path d="M474.1 386.1L477.6 386.9" stroke="#5b62f1"/><path d="M458.5 391.2L474.1 386.1" stroke="#5865f3"/><path d="M477.6 386.9L481 388.9L465.5 394.3L462 392Z"/><path d="M477.6 386.9L481 388.9" stroke="#5b61f1"/><path d="M462 392L477.6 386.9" stroke="#5865f3"/><path d="M481 388.9L484.5 391.9L468.9 397.9L465.5 394.3Z"/><path d="M481 388.9L484.5 391.9" stroke="#5d60f0"/><path d="M465.5 394.3L481 388.9" stroke="#5964f2"/><path d="M484.5 391.9L488 395.8L472.4 402.4L468.9 397.9Z"/><path d="M484.5 391.9L488 395.8" stroke="#5f5eee"/><path d="M468.9 397.9L484.5 391.9" stroke="#5b61f1"/><path d="M488 395.8L491.5 400.1L475.9 407.5L472.4 402.4Z"/><path d="M488 395.8L491.5 400.1" stroke="#615cec"/><path d="M472.4 402.4L488 395.8" stroke="#5e5eef"/><path d="M491.5 400.1L495 404.5L479.4 412.8L475.9 407.5Z"/><path d="M491.5 400.1L495 404.5" stroke="#635ce9"/><path d="M475.9 407.5L491.5 400.1" stroke="#615cec"/><path d="M495 404.5L498.4 408.9L482.9 417.9L479.4 412.8Z"/><path d="M495 404.5L498.4 408.9" stroke="#655de7"/><path d="M479.4 412.8L495 404.5" stroke="#635ce9"/><path d="M498.4 408.9L501.9 412.8L486.3 422.6L482.9 417.9Z"/><path d="M498.4 408.9L501.9 412.8" stroke="#665de4"/><path d="M482.9 417.9L498.4 408.9" stroke="#655de6"/><path d="M501.9 412.8L505.4 416.3L489.8 426.6L486.3 422.6Z"/><path d="M501.9 412.8L505.4 416.3" stroke="#675de2"/><path d="M486.3 422.6L501.9 412.8" stroke="#665de4"/><path d="M505.4 416.3L508.9 419.2L493.3 430L489.8 426.6Z"/><path d="M505.4 416.3L508.9 419.2" stroke="#685ee0"/><path d="M489.8 426.6L505.4 416.3" stroke="#685de2"/><path d="M508.9 419.2L512.3 421.6L496.8 432.8L493.3 430Z"/><path d="M508.9 419.2L512.3 421.6" stroke="#695edf"/><path d="M493.3 430L508.9 419.2" stroke="#695ee0"/><path d="M512.3 421.6L515.8 423.4L500.2 435L496.8 432.8Z"/><path d="M512.3 421.6L515.8 423.4" stroke="#6a5ede"/><path d="M496.8 432.8L512.3 421.6" stroke="#695ede"/><path d="M500.2 435L515.8 423.4" stroke="#6a5edd"/><path d="M114.2 374.3L117.7 374.8L102.1 385L98.6 385.2Z"/><path d="M114.2 374.3L117.7 374.8" stroke="#6b5edb"/><path d="M98.6 385.2L114.2 374.3" stroke="#6b5edc"/><path d="M117.7 374.8L121.2 375.2L105.6 384.4L102.1 385Z"/><path d="M117.7 374.8L121.2 375.2" stroke="#6b5edb"/><path d="M102.1 385L117.7 374.8" stroke="#6b5edc"/><path d="M121.2 375.2L124.6 375.5L109.1 383.3L105.6 384.4Z"/><path d="M121.2 375.2L124.6 375.5" stroke="#6b5edc"/><path d="M105.6 384.4L121.2 375.2" stroke="#6a5edd"/><path d="M124.6 375.5L128.1 375.4L112.5 381.5L109.1 383.3Z"/><path d="M124.6 375.5L128.1 375.4" stroke="#6b5edc"/><path d="M109.1 383.3L124.6 375.5" stroke="#6a5edd"/><path d="M128.1 375.4L131.6 375L116 379L112.5 381.5Z"/><path d="M128.1 375.4L131.6 375" stroke="#6a5edd"/><path d="M112.5 381.5L128.1 375.4" stroke="#695ede"/><path d="M131.6 375L135.1 373.9L119.5 375.5L116 379Z"/><path d="M131.6 375L135.1 373.9" stroke="#6a5edd"/><path d="M116 379L131.6 375" stroke="#695ee0"/><path d="M135.1 373.9L138.5 371.9L123 371.1L119.5 375.5Z"/><path d="M135.1 373.9L138.5 371.9" stroke="#695edf"/><path d="M119.5 375.5L135.1 373.9" stroke="#675de2"/><path d="M138.5 371.9L142 368.9L126.4 365.6L123 371.1Z"/><path d="M138.5 371.9L142 368.9" stroke="#685ee1"/><path d="M123 371.1L138.5 371.9" stroke="#665de4"/><path d="M142 368.9L145.5 364.4L129.9 359.1L126.4 365.6Z"/><path d="M142 368.9L145.5 364.4" stroke="#665de4"/><path d="M126.4 365.6L142 368.9" stroke="#645de8"/><path d="M145.5 364.4L149 358.4L133.4 351.7L129.9 359.1Z"/><path d="M145.5 364.4L149 358.4" stroke="#645ce8"/><path d="M129.9 359.1L145.5 364.4" stroke="#615cec"/><path d="M149 358.4L152.5 350.9L136.9 343.5L133.4 351.7Z"/><path d="M149 358.4L152.5 350.9" stroke="#605ced"/><path d="M133.4 351.7L149 358.4" stroke="#5c61f0"/><path d="M152.5 350.9L155.9 342L140.4 334.7L136.9 343.5Z"/><path d="M152.5 350.9L155.9 342" stroke="#5963f2"/><path d="M136.9 343.5L152.5 350.9" stroke="#5568f4"/><path d="M155.9 342L159.4 331.8L143.8 325.7L140.4 334.7Z"/><path d="M155.9 342L159.4 331.8" stroke="#516cf7"/><path d="M140.4 334.7L155.9 342" stroke="#4e6ff9"/><path d="M159.4 331.8L162.9 320.8L147.3 316.6L143.8 325.7Z"/><path d="M159.4 331.8L162.9 320.8" stroke="#4378f7"/><path d="M143.8 325.7L159.4 331.8" stroke="#3e7cf5"/><path d="M162.9 320.8L166.4 309.5L150.8 307.7L147.3 316.6Z"/><path d="M162.9 320.8L166.4 309.5" stroke="#3087f1"/><path d="M147.3 316.6L162.9 320.8" stroke="#2d8af0"/><path d="M166.4 309.5L169.8 298.4L154.3 299.3L150.8 307.7Z"/><path d="M166.4 309.5L169.8 298.4" stroke="#2096e9"/><path d="M150.8 307.7L166.4 309.5" stroke="#1f97e9"/><path d="M169.8 298.4L173.3 287.9L157.7 291.5L154.3 299.3Z"/><path d="M169.8 298.4L173.3 287.9M154.3 299.3L169.8 298.4" stroke="#16a3df"/><path d="M173.3 287.9L176.8 278.4L161.2 284.6L157.7 291.5Z"/><path d="M173.3 287.9L176.8 278.4" stroke="#0eaed5"/><path d="M157.7 291.5L173.3 287.9" stroke="#0dadd6"/><path d="M176.8 278.4L180.3 270.3L164.7 278.4L161.2 284.6Z"/><path d="M176.8 278.4L180.3 270.3" stroke="#17b6c8"/><path d="M161.2 284.6L176.8 278.4" stroke="#16b5ca"/><path d="M180.3 270.3L183.8 263.6L168.2 273.2L164.7 278.4Z"/><path d="M180.3 270.3L183.8 263.6" stroke="#1fbcbc"/><path d="M164.7 278.4L180.3 270.3" stroke="#1ebbbf"/><path d="M183.8 263.6L187.2 258.4L171.7 268.8L168.2 273.2Z"/><path d="M183.8 263.6L187.2 258.4" stroke="#26c1b3"/><path d="M168.2 273.2L183.8 263.6" stroke="#24c0b5"/><path d="M187.2 258.4L190.7 254.5L175.1 265.1L171.7 268.8Z"/><path d="M187.2 258.4L190.7 254.5" stroke="#32c4a9"/><path d="M171.7 268.8L187.2 258.4" stroke="#2fc3ac"/><path d="M190.7 254.5L194.2 251.7L178.6 262L175.1 265.1Z"/><path d="M190.7 254.5L194.2 251.7" stroke="#3cc5a1"/><path d="M175.1 265.1L190.7 254.5" stroke="#3ac5a3"/><path d="M194.2 251.7L197.7 249.6L182.1 259.3L178.6 262Z"/><path d="M194.2 251.7L197.7 249.6" stroke="#44c79b"/><path d="M178.6 262L194.2 251.7" stroke="#43c69c"/><path d="M197.7 249.6L201.1 248L185.6 256.9L182.1 259.3Z"/><path d="M197.7 249.6L201.1 248M182.1 259.3L197.7 249.6" stroke="#4ac896"/><path d="M201.1 248L204.6 246.5L189 254.5L185.6 256.9Z"/><path d="M201.1 248L204.6 246.5" stroke="#4fc892"/><path d="M185.6 256.9L201.1 248" stroke="#51c990"/><path d="M204.6 246.5L208.1 246.3L192.5 252L189 254.5Z"/><path d="M204.6 246.5L208.1 246.3" stroke="#53c98f"/><path d="M189 254.5L204.6 246.5" stroke="#57ca8b"/><path d="M208.1 246.3L211.6 249.5L196 251.5L192.5 252Z"/><path d="M208.1 246.3L211.6 249.5" stroke="#51c990"/><path d="M192.5 252L208.1 246.3" stroke="#5cca87"/><path d="M211.6 249.5L215.1 255.6L199.5 255.4L196 251.5Z"/><path d="M211.6 249.5L215.1 255.6" stroke="#46c799"/><path d="M196 251.5L211.6 249.5" stroke="#5aca89"/><path d="M215.1 255.6L218.5 264L203 263L199.5 255.4Z"/><path d="M215.1 255.6L218.5 264" stroke="#35c4a6"/><path d="M199.5 255.4L215.1 255.6" stroke="#4fc892"/><path d="M218.5 264L222 273.9L206.4 273.2L203 263Z"/><path d="M218.5 264L222 273.9" stroke="#24c0b6"/><path d="M203 263L218.5 264" stroke="#3cc5a1"/><path d="M222 273.9L225.5 284.4L209.9 284.9L206.4 273.2Z"/><path d="M222 273.9L225.5 284.4" stroke="#1ab8c4"/><path d="M206.4 273.2L222 273.9" stroke="#25c1b4"/><path d="M225.5 284.4L229 294.8L213.4 296.9L209.9 284.9Z"/><path d="M225.5 284.4L229 294.8" stroke="#10b0d2"/><path d="M209.9 284.9L225.5 284.4" stroke="#1bb8c3"/><path d="M229 294.8L232.4 304.2L216.9 308.1L213.4 296.9Z"/><path d="M229 294.8L232.4 304.2" stroke="#13a6dc"/><path d="M213.4 296.9L229 294.8" stroke="#10b0d2"/><path d="M232.4 304.2L235.9 312.4L220.3 318L216.9 308.1Z"/><path d="M232.4 304.2L235.9 312.4" stroke="#1a9de4"/><path d="M216.9 308.1L232.4 304.2" stroke="#13a6dc"/><path d="M235.9 312.4L239.4 319.1L223.8 326.1L220.3 318Z"/><path d="M235.9 312.4L239.4 319.1" stroke="#2095ea"/><path d="M220.3 318L235.9 312.4" stroke="#1b9ce4"/><path d="M239.4 319.1L242.9 324.3L227.3 332.4L223.8 326.1Z"/><path d="M239.4 319.1L242.9 324.3" stroke="#278fee"/><path d="M223.8 326.1L239.4 319.1" stroke="#2195ea"/><path d="M242.9 324.3L246.4 328.1L230.8 337.2L227.3 332.4Z"/><path d="M242.9 324.3L246.4 328.1" stroke="#2d8af0"/><path d="M227.3 332.4L242.9 324.3" stroke="#278fee"/><path d="M246.4 328.1L249.8 330.8L234.3 340.8L230.8 337.2Z"/><path d="M246.4 328.1L249.8 330.8" stroke="#3186f1"/><path d="M230.8 337.2L246.4 328.1" stroke="#2d8af0"/><path d="M249.8 330.8L253.3 332.6L237.7 343.5L234.3 340.8Z"/><path d="M249.8 330.8L253.3 332.6" stroke="#3484f2"/><path d="M234.3 340.8L249.8 330.8" stroke="#3186f1"/><path d="M253.3 332.6L256.8 333.9L241.2 345.9L237.7 343.5Z"/><path d="M253.3 332.6L256.8 333.9" stroke="#3683f3"/><path d="M237.7 343.5L253.3 332.6" stroke="#3484f2"/><path d="M256.8 333.9L260.3 335.1L244.7 348L241.2 345.9Z"/><path d="M256.8 333.9L260.3 335.1" stroke="#3782f3"/><path d="M241.2 345.9L256.8 333.9" stroke="#3682f3"/><path d="M260.3 335.1L263.7 336.3L248.2 350.1L244.7 348Z"/><path d="M260.3 335.1L263.7 336.3M244.7 348L260.3 335.1" stroke="#3881f3"/><path d="M263.7 336.3L267.2 337.7L251.6 352.2L248.2 350.1Z"/><path d="M263.7 336.3L267.2 337.7" stroke="#3980f4"/><path d="M248.2 350.1L263.7 336.3" stroke="#3a80f4"/><path d="M267.2 337.7L270.7 339.3L255.1 354.5L251.6 352.2Z"/><path d="M267.2 337.7L270.7 339.3" stroke="#3a7ff4"/><path d="M251.6 352.2L267.2 337.7" stroke="#3b7ef5"/><path d="M270.7 339.3L274.2 341.1L258.6 357.1L255.1 354.5Z"/><path d="M270.7 339.3L274.2 341.1" stroke="#3c7ef5"/><path d="M255.1 354.5L270.7 339.3" stroke="#3e7cf5"/><path d="M274.2 341.1L277.7 343.2L262.1 359.9L258.6 357.1Z"/><path d="M274.2 341.1L277.7 343.2" stroke="#3e7cf5"/><path d="M258.6 357.1L274.2 341.1" stroke="#407af6"/><path d="M277.7 343.2L281.1 345.6L265.6 363L262.1 359.9Z"/><path d="M277.7 343.2L281.1 345.6" stroke="#4179f6"/><path d="M262.1 359.9L277.7 343.2" stroke="#4378f7"/><path d="M281.1 345.6L284.6 348.3L269 366.3L265.6 363Z"/><path d="M281.1 345.6L284.6 348.3" stroke="#4477f7"/><path d="M265.6 363L281.1 345.6" stroke="#4775f8"/><path d="M284.6 348.3L288.1 351.3L272.5 369.8L269 366.3Z"/><path d="M284.6 348.3L288.1 351.3" stroke="#4874f8"/><path d="M269 366.3L284.6 348.3" stroke="#4b71f9"/><path d="M288.1 351.3L291.6 354.5L276 373.4L272.5 369.8Z"/><path d="M288.1 351.3L291.6 354.5" stroke="#4c71fa"/><path d="M272.5 369.8L288.1 351.3" stroke="#4e6ff9"/><path d="M291.6 354.5L295 357.9L279.5 377.1L276 373.4Z"/><path d="M291.6 354.5L295 357.9" stroke="#4f6ef9"/><path d="M276 373.4L291.6 354.5" stroke="#506df8"/><path d="M295 357.9L298.5 361.5L282.9 380.9L279.5 377.1Z"/><path d="M295 357.9L298.5 361.5" stroke="#516cf7"/><path d="M279.5 377.1L295 357.9" stroke="#536af6"/><path d="M298.5 361.5L302 365.2L286.4 384.6L282.9 380.9Z"/><path d="M298.5 361.5L302 365.2" stroke="#5369f6"/><path d="M282.9 380.9L298.5 361.5" stroke="#5568f5"/><path d="M302 365.2L305.5 368.9L289.9 388.2L286.4 384.6Z"/><path d="M302 365.2L305.5 368.9" stroke="#5667f4"/><path d="M286.4 384.6L302 365.2" stroke="#5865f3"/><path d="M305.5 368.9L309 372.6L293.4 391.8L289.9 388.2Z"/><path d="M305.5 368.9L309 372.6" stroke="#5964f2"/><path d="M289.9 388.2L305.5 368.9" stroke="#5a62f1"/><path d="M309 372.6L312.4 376.3L296.9 395.2L293.4 391.8Z"/><path d="M309 372.6L312.4 376.3" stroke="#5b62f1"/><path d="M293.4 391.8L309 372.6" stroke="#5d60f0"/><path d="M312.4 376.3L315.9 379.9L300.3 398.5L296.9 395.2Z"/><path d="M312.4 376.3L315.9 379.9" stroke="#5e5fef"/><path d="M296.9 395.2L312.4 376.3" stroke="#5f5eee"/><path d="M315.9 379.9L319.4 383.4L303.8 401.7L300.3 398.5Z"/><path d="M315.9 379.9L319.4 383.4" stroke="#605dee"/><path d="M300.3 398.5L315.9 379.9" stroke="#615ced"/><path d="M319.4 383.4L322.9 386.8L307.3 404.6L303.8 401.7Z"/><path d="M319.4 383.4L322.9 386.8" stroke="#625cec"/><path d="M303.8 401.7L319.4 383.4" stroke="#625ceb"/><path d="M322.9 386.8L326.3 389.9L310.8 407.3L307.3 404.6Z"/><path d="M322.9 386.8L326.3 389.9" stroke="#635cea"/><path d="M307.3 404.6L322.9 386.8" stroke="#635ce9"/><path d="M326.3 389.9L329.8 392.9L314.2 409.9L310.8 407.3Z"/><path d="M326.3 389.9L329.8 392.9" stroke="#645de8"/><path d="M310.8 407.3L326.3 389.9" stroke="#645de7"/><path d="M329.8 392.9L333.3 395.7L317.7 412.2L314.2 409.9Z"/><path d="M329.8 392.9L333.3 395.7" stroke="#655de7"/><path d="M314.2 409.9L329.8 392.9" stroke="#655de6"/><path d="M333.3 395.7L336.8 398.3L321.2 414.3L317.7 412.2Z"/><path d="M333.3 395.7L336.8 398.3" stroke="#665de5"/><path d="M317.7 412.2L333.3 395.7" stroke="#665de4"/><path d="M336.8 398.3L340.3 400.7L324.7 416.3L321.2 414.3Z"/><path d="M336.8 398.3L340.3 400.7" stroke="#665de4"/><path d="M321.2 414.3L336.8 398.3" stroke="#675de3"/><path d="M340.3 400.7L343.7 402.9L328.2 418.1L324.7 416.3Z"/><path d="M340.3 400.7L343.7 402.9M324.7 416.3L340.3 400.7" stroke="#675de2"/><path d="M343.7 402.9L347.2 405L331.6 419.7L328.2 418.1Z"/><path d="M343.7 402.9L347.2 405" stroke="#685de1"/><path d="M328.2 418.1L343.7 402.9" stroke="#685ee1"/><path d="M347.2 405L350.7 406.8L335.1 421.2L331.6 419.7Z"/><path d="M347.2 405L350.7 406.8M331.6 419.7L347.2 405" stroke="#685ee0"/><path d="M350.7 406.8L354.2 408.5L338.6 422.5L335.1 421.2Z"/><path d="M350.7 406.8L354.2 408.5" stroke="#695ee0"/><path d="M335.1 421.2L350.7 406.8" stroke="#695edf"/><path d="M354.2 408.5L357.7 410L342.1 423.7L338.6 422.5Z"/><path d="M354.2 408.5L357.7 410" stroke="#695edf"/><path d="M338.6 422.5L354.2 408.5" stroke="#695ede"/><path d="M357.7 410L361.1 411.4L345.5 424.9L342.1 423.7Z"/><path d="M357.7 410L361.1 411.4" stroke="#695ede"/><path d="M342.1 423.7L357.7 410" stroke="#6a5ede"/><path d="M361.1 411.4L364.6 412.6L349 425.9L345.5 424.9Z"/><path d="M361.1 411.4L364.6 412.6" stroke="#6a5ede"/><path d="M345.5 424.9L361.1 411.4" stroke="#6a5edd"/><path d="M364.6 412.6L368.1 413.8L352.5 426.8L349 425.9Z"/><path d="M364.6 412.6L368.1 413.8M349 425.9L364.6 412.6" stroke="#6a5edd"/><path d="M368.1 413.8L371.6 414.8L356 427.7L352.5 426.8Z"/><path d="M368.1 413.8L371.6 414.8M352.5 426.8L368.1 413.8" stroke="#6a5edd"/><path d="M371.6 414.8L375 415.8L359.5 428.4L356 427.7Z"/><path d="M371.6 414.8L375 415.8" stroke="#6a5edd"/><path d="M356 427.7L371.6 414.8" stroke="#6a5edc"/><path d="M375 415.8L378.5 416.7L362.9 429.1L359.5 428.4Z"/><path d="M375 415.8L378.5 416.7M359.5 428.4L375 415.8" stroke="#6b5edc"/><path d="M378.5 416.7L382 417.5L366.4 429.7L362.9 429.1Z"/><path d="M378.5 416.7L382 417.5M362.9 429.1L378.5 416.7" stroke="#6b5edc"/><path d="M382 417.5L385.5 418.3L369.9 430.2L366.4 429.7Z"/><path d="M382 417.5L385.5 418.3M366.4 429.7L382 417.5" stroke="#6b5edc"/><path d="M385.5 418.3L389 419L373.4 430.6L369.9 430.2Z"/><path d="M385.5 418.3L389 419M369.9 430.2L385.5 418.3" stroke="#6b5edc"/><path d="M389 419L392.4 419.6L376.8 430.9L373.4 430.6Z"/><path d="M389 419L392.4 419.6M373.4 430.6L389 419" stroke="#6b5edc"/><path d="M392.4 419.6L395.9 420.2L380.3 430.9L376.8 430.9Z"/><path d="M392.4 419.6L395.9 420.2M376.8 430.9L392.4 419.6" stroke="#6b5edc"/><path d="M395.9 420.2L399.4 420.6L383.8 430.7L380.3 430.9Z"/><path d="M395.9 420.2L399.4 420.6M380.3 430.9L395.9 420.2" stroke="#6b5edc"/><path d="M399.4 420.6L402.9 421L387.3 430.1L383.8 430.7Z"/><path d="M399.4 420.6L402.9 421" stroke="#6b5edc"/><path d="M383.8 430.7L399.4 420.6" stroke="#6a5edd"/><path d="M402.9 421L406.3 421.1L390.8 429.3L387.3 430.1Z"/><path d="M402.9 421L406.3 421.1" stroke="#6b5edc"/><path d="M387.3 430.1L402.9 421" stroke="#6a5edd"/><path d="M406.3 421.1L409.8 421L394.2 428.1L390.8 429.3Z"/><path d="M406.3 421.1L409.8 421" stroke="#6a5edd"/><path d="M390.8 429.3L406.3 421.1" stroke="#6a5ede"/><path d="M409.8 421L413.3 420.7L397.7 426.5L394.2 428.1Z"/><path d="M409.8 421L413.3 420.7" stroke="#6a5edd"/><path d="M394.2 428.1L409.8 421" stroke="#695edf"/><path d="M413.3 420.7L416.8 419.9L401.2 424.6L397.7 426.5Z"/><path d="M413.3 420.7L416.8 419.9" stroke="#6a5ede"/><path d="M397.7 426.5L413.3 420.7" stroke="#695ee0"/><path d="M416.8 419.9L420.3 418.7L404.7 422.4L401.2 424.6Z"/><path d="M416.8 419.9L420.3 418.7" stroke="#695edf"/><path d="M401.2 424.6L416.8 419.9" stroke="#685ee1"/><path d="M420.3 418.7L423.7 417.1L408.1 420.1L404.7 422.4Z"/><path d="M420.3 418.7L423.7 417.1" stroke="#685ee0"/><path d="M404.7 422.4L420.3 418.7" stroke="#675de3"/><path d="M423.7 417.1L427.2 414.9L411.6 417.8L408.1 420.1Z"/><path d="M423.7 417.1L427.2 414.9" stroke="#675de2"/><path d="M408.1 420.1L423.7 417.1" stroke="#665de4"/><path d="M427.2 414.9L430.7 412.1L415.1 415.8L411.6 417.8Z"/><path d="M427.2 414.9L430.7 412.1" stroke="#665de4"/><path d="M411.6 417.8L427.2 414.9" stroke="#655de6"/><path d="M430.7 412.1L434.2 409L418.6 414.1L415.1 415.8Z"/><path d="M430.7 412.1L434.2 409" stroke="#655de7"/><path d="M415.1 415.8L430.7 412.1" stroke="#645ce9"/><path d="M434.2 409L437.6 405.5L422.1 413L418.6 414.1Z"/><path d="M434.2 409L437.6 405.5" stroke="#635cea"/><path d="M418.6 414.1L434.2 409" stroke="#625ceb"/><path d="M437.6 405.5L441.1 402L425.5 412.7L422.1 413Z"/><path d="M437.6 405.5L441.1 402M422.1 413L437.6 405.5" stroke="#615ced"/><path d="M441.1 402L444.6 398.5L429 413.1L425.5 412.7Z"/><path d="M441.1 402L444.6 398.5" stroke="#5e5eef"/><path d="M425.5 412.7L441.1 402" stroke="#5f5dee"/><path d="M444.6 398.5L448.1 395.5L432.5 414.3L429 413.1Z"/><path d="M444.6 398.5L448.1 395.5" stroke="#5b61f1"/><path d="M429 413.1L444.6 398.5" stroke="#5e5fef"/><path d="M448.1 395.5L451.6 393.1L436 416.3L432.5 414.3Z"/><path d="M448.1 395.5L451.6 393.1" stroke="#5964f2"/><path d="M432.5 414.3L448.1 395.5" stroke="#5d60f0"/><path d="M451.6 393.1L455 391.6L439.4 418.9L436 416.3Z"/><path d="M451.6 393.1L455 391.6" stroke="#5766f4"/><path d="M436 416.3L451.6 393.1" stroke="#5c61f0"/><path d="M455 391.6L458.5 391.2L442.9 422L439.4 418.9Z"/><path d="M455 391.6L458.5 391.2" stroke="#5567f4"/><path d="M439.4 418.9L455 391.6" stroke="#5c61f0"/><path d="M458.5 391.2L462 392L446.4 425.4L442.9 422Z"/><path d="M458.5 391.2L462 392" stroke="#5568f5"/><path d="M442.9 422L458.5 391.2" stroke="#5d60f0"/><path d="M462 392L465.5 394.3L449.9 428.9L446.4 425.4Z"/><path d="M462 392L465.5 394.3" stroke="#5667f4"/><path d="M446.4 425.4L462 392" stroke="#5e5fef"/><path d="M465.5 394.3L468.9 397.9L453.4 432.2L449.9 428.9Z"/><path d="M465.5 394.3L468.9 397.9" stroke="#5865f3"/><path d="M449.9 428.9L465.5 394.3" stroke="#605dee"/><path d="M468.9 397.9L472.4 402.4L456.8 435.4L453.4 432.2Z"/><path d="M468.9 397.9L472.4 402.4" stroke="#5b62f1"/><path d="M453.4 432.2L468.9 397.9" stroke="#615cec"/><path d="M472.4 402.4L475.9 407.5L460.3 438.3L456.8 435.4Z"/><path d="M472.4 402.4L475.9 407.5" stroke="#5e5fef"/><path d="M456.8 435.4L472.4 402.4" stroke="#635cea"/><path d="M475.9 407.5L479.4 412.8L463.8 440.8L460.3 438.3Z"/><path d="M475.9 407.5L479.4 412.8" stroke="#615cec"/><path d="M460.3 438.3L475.9 407.5" stroke="#645de7"/><path d="M479.4 412.8L482.9 417.9L467.3 442.9L463.8 440.8Z"/><path d="M479.4 412.8L482.9 417.9" stroke="#635ce9"/><path d="M463.8 440.8L479.4 412.8" stroke="#665de5"/><path d="M482.9 417.9L486.3 422.6L470.7 444.8L467.3 442.9Z"/><path d="M482.9 417.9L486.3 422.6" stroke="#655de6"/><path d="M467.3 442.9L482.9 417.9" stroke="#675de3"/><path d="M486.3 422.6L489.8 426.6L474.2 446.3L470.7 444.8Z"/><path d="M486.3 422.6L489.8 426.6" stroke="#665de3"/><path d="M470.7 444.8L486.3 422.6" stroke="#685ee1"/><path d="M489.8 426.6L493.3 430L477.7 447.5L474.2 446.3Z"/><path d="M489.8 426.6L493.3 430" stroke="#685ee1"/><path d="M474.2 446.3L489.8 426.6" stroke="#695edf"/><path d="M493.3 430L496.8 432.8L481.2 448.6L477.7 447.5Z"/><path d="M493.3 430L496.8 432.8" stroke="#695edf"/><path d="M477.7 447.5L493.3 430" stroke="#695ede"/><path d="M496.8 432.8L500.2 435L484.7 449.5L481.2 448.6Z"/><path d="M496.8 432.8L500.2 435" stroke="#6a5ede"/><path d="M481.2 448.6L496.8 432.8M484.7 449.5L500.2 435" stroke="#6a5edd"/><path d="M98.6 385.2L102.1 385L86.5 397.5L83 397.4Z"/><path d="M98.6 385.2L102.1 385" stroke="#6a5edc"/><path d="M83 397.4L98.6 385.2M83 397.4L86.5 397.5" stroke="#6b5edc"/><path d="M102.1 385L105.6 384.4L90 397.5L86.5 397.5Z"/><path d="M102.1 385L105.6 384.4M86.5 397.5L102.1 385M86.5 397.5L90 397.5" stroke="#6a5edd"/><path d="M105.6 384.4L109.1 383.3L93.5 397.3L90 397.5Z"/><path d="M105.6 384.4L109.1 383.3" stroke="#695ede"/><path d="M90 397.5L105.6 384.4M90 397.5L93.5 397.3" stroke="#6a5edd"/><path d="M109.1 383.3L112.5 381.5L97 396.8L93.5 397.3Z"/><path d="M109.1 383.3L112.5 381.5" stroke="#695ee0"/><path d="M93.5 397.3L109.1 383.3M93.5 397.3L97 396.8" stroke="#6a5ede"/><path d="M112.5 381.5L116 379L100.4 396.1L97 396.8Z"/><path d="M112.5 381.5L116 379" stroke="#685de2"/><path d="M97 396.8L112.5 381.5M97 396.8L100.4 396.1" stroke="#695edf"/><path d="M116 379L119.5 375.5L103.9 395L100.4 396.1Z"/><path d="M116 379L119.5 375.5" stroke="#665de4"/><path d="M100.4 396.1L116 379" stroke="#685ee1"/><path d="M100.4 396.1L103.9 395" stroke="#695ee0"/><path d="M119.5 375.5L123 371.1L107.4 393.6L103.9 395Z"/><path d="M119.5 375.5L123 371.1" stroke="#645de7"/><path d="M103.9 395L119.5 375.5" stroke="#675de3"/><path d="M103.9 395L107.4 393.6" stroke="#685ee1"/><path d="M123 371.1L126.4 365.6L110.9 391.7L107.4 393.6Z"/><path d="M123 371.1L126.4 365.6" stroke="#625ceb"/><path d="M107.4 393.6L123 371.1" stroke="#655de5"/><path d="M107.4 393.6L110.9 391.7" stroke="#675de2"/><path d="M126.4 365.6L129.9 359.1L114.3 389.4L110.9 391.7Z"/><path d="M126.4 365.6L129.9 359.1" stroke="#5e5fef"/><path d="M110.9 391.7L126.4 365.6" stroke="#645ce8"/><path d="M110.9 391.7L114.3 389.4" stroke="#665de4"/><path d="M129.9 359.1L133.4 351.7L117.8 386.7L114.3 389.4Z"/><path d="M129.9 359.1L133.4 351.7" stroke="#5865f3"/><path d="M114.3 389.4L129.9 359.1" stroke="#625cec"/><path d="M114.3 389.4L117.8 386.7" stroke="#655de7"/><path d="M133.4 351.7L136.9 343.5L121.3 383.5L117.8 386.7Z"/><path d="M133.4 351.7L136.9 343.5" stroke="#516cf7"/><path d="M117.8 386.7L133.4 351.7" stroke="#5e5fef"/><path d="M117.8 386.7L121.3 383.5" stroke="#635ce9"/><path d="M136.9 343.5L140.4 334.7L124.8 379.8L121.3 383.5Z"/><path d="M136.9 343.5L140.4 334.7" stroke="#4675f8"/><path d="M121.3 383.5L136.9 343.5" stroke="#5964f2"/><path d="M121.3 383.5L124.8 379.8" stroke="#625cec"/><path d="M140.4 334.7L143.8 325.7L128.3 375.8L124.8 379.8Z"/><path d="M140.4 334.7L143.8 325.7" stroke="#3782f3"/><path d="M124.8 379.8L140.4 334.7" stroke="#536af6"/><path d="M124.8 379.8L128.3 375.8" stroke="#5f5eef"/><path d="M143.8 325.7L147.3 316.6L131.7 371.5L128.3 375.8Z"/><path d="M143.8 325.7L147.3 316.6" stroke="#278eee"/><path d="M128.3 375.8L136 350.7" stroke="#5568f5"/><path d="M136 350.7L143.8 325.7" stroke="#3f7bf6"/><path d="M128.3 375.8L131.7 371.5" stroke="#5b62f1"/><path d="M147.3 316.6L150.8 307.7L135.2 366.9L131.7 371.5Z"/><path d="M147.3 316.6L150.8 307.7" stroke="#1d99e7"/><path d="M131.7 371.5L139.5 344" stroke="#506df8"/><path d="M139.5 344L147.3 316.6" stroke="#3187f1"/><path d="M131.7 371.5L135.2 366.9" stroke="#5766f3"/><path d="M150.8 307.7L154.3 299.3L138.7 362.3L135.2 366.9Z"/><path d="M150.8 307.7L154.3 299.3" stroke="#15a4de"/><path d="M135.2 366.9L143 337.3" stroke="#4a72f9"/><path d="M143 337.3L150.8 307.7" stroke="#2492ed"/><path d="M135.2 366.9L138.7 362.3" stroke="#536af6"/><path d="M154.3 299.3L157.7 291.5L142.2 357.9L138.7 362.3Z"/><path d="M154.3 299.3L157.7 291.5" stroke="#0dadd6"/><path d="M138.7 362.3L146.5 330.8" stroke="#407bf6"/><path d="M146.5 330.8L154.3 299.3" stroke="#1c9be6"/><path d="M138.7 362.3L142.2 357.9" stroke="#4e6ef9"/><path d="M157.7 291.5L161.2 284.6L145.6 353.6L142.2 357.9Z"/><path d="M157.7 291.5L161.2 284.6" stroke="#15b4cb"/><path d="M142.2 357.9L150 324.7" stroke="#3682f3"/><path d="M150 324.7L157.7 291.5" stroke="#15a3df"/><path d="M142.2 357.9L145.6 353.6" stroke="#4874f9"/><path d="M161.2 284.6L164.7 278.4L149.1 349.9L145.6 353.6Z"/><path d="M161.2 284.6L164.7 278.4" stroke="#1cbac1"/><path d="M145.6 353.6L153.4 319.1" stroke="#2d8af0"/><path d="M153.4 319.1L161.2 284.6" stroke="#0fabd8"/><path d="M145.6 353.6L149.1 349.9" stroke="#417af6"/><path d="M164.7 278.4L168.2 273.2L152.6 346.7L149.1 349.9Z"/><path d="M164.7 278.4L168.2 273.2" stroke="#22bfb8"/><path d="M149.1 349.9L156.9 314.2" stroke="#2590ee"/><path d="M156.9 314.2L164.7 278.4" stroke="#10b0d1"/><path d="M149.1 349.9L152.6 346.7" stroke="#3a7ff4"/><path d="M168.2 273.2L171.7 268.8L156.1 344.3L152.6 346.7Z"/><path d="M168.2 273.2L171.7 268.8" stroke="#2ac2af"/><path d="M152.6 346.7L160.4 310" stroke="#2195ea"/><path d="M160.4 310L168.2 273.2" stroke="#16b5ca"/><path d="M152.6 346.7L156.1 344.3" stroke="#3583f3"/><path d="M171.7 268.8L175.1 265.1L159.6 342.8L156.1 344.3Z"/><path d="M171.7 268.8L175.1 265.1" stroke="#36c4a6"/><path d="M156.1 344.3L163.9 306.5" stroke="#1e99e7"/><path d="M163.9 306.5L171.7 268.8" stroke="#1ab8c3"/><path d="M156.1 344.3L159.6 342.8" stroke="#3187f1"/><path d="M175.1 265.1L178.6 262L163 342.3L159.6 342.8Z"/><path d="M175.1 265.1L178.6 262" stroke="#40c69e"/><path d="M159.6 342.8L167.3 303.9" stroke="#1b9ce5"/><path d="M167.3 303.9L175.1 265.1" stroke="#1ebbbe"/><path d="M159.6 342.8L163 342.3" stroke="#2e89f0"/><path d="M178.6 262L182.1 259.3L166.5 342.5L163 342.3Z"/><path d="M178.6 262L182.1 259.3" stroke="#49c797"/><path d="M163 342.3L170.8 302.1" stroke="#1a9ee3"/><path d="M170.8 302.1L178.6 262" stroke="#21beba"/><path d="M163 342.3L166.5 342.5" stroke="#2d8af0"/><path d="M182.1 259.3L185.6 256.9L170 342.8L166.5 342.5Z"/><path d="M182.1 259.3L185.6 256.9" stroke="#51c990"/><path d="M166.5 342.5L171.7 314.8" stroke="#1e98e7"/><path d="M171.7 314.8L176.9 287" stroke="#12b1cf"/><path d="M176.9 287L182.1 259.3" stroke="#2fc3ab"/><path d="M166.5 342.5L170 342.8" stroke="#2d8af0"/><path d="M185.6 256.9L189 254.5L173.5 342.5L170 342.8Z"/><path d="M185.6 256.9L189 254.5" stroke="#59ca8a"/><path d="M170 342.8L175.2 314.2" stroke="#1d99e7"/><path d="M175.2 314.2L180.4 285.5" stroke="#13b3cd"/><path d="M180.4 285.5L185.6 256.9" stroke="#36c4a6"/><path d="M170 342.8L173.5 342.5" stroke="#2c8bf0"/><path d="M189 254.5L192.5 252L176.9 341.1L173.5 342.5Z"/><path d="M189 254.5L192.5 252" stroke="#60cb84"/><path d="M173.5 342.5L178.7 313.2" stroke="#1c9be6"/><path d="M178.7 313.2L183.9 283.8" stroke="#15b4ca"/><path d="M183.9 283.8L189 254.5" stroke="#3cc5a1"/><path d="M173.5 342.5L176.9 341.1" stroke="#298def"/><path d="M192.5 252L196 251.5L180.4 337.7L176.9 341.1Z"/><path d="M192.5 252L196 251.5" stroke="#66cc80"/><path d="M176.9 341.1L182.1 311.4" stroke="#1a9de4"/><path d="M182.1 311.4L187.3 281.7" stroke="#18b6c7"/><path d="M187.3 281.7L192.5 252" stroke="#44c69b"/><path d="M176.9 341.1L180.4 337.7" stroke="#2491ed"/><path d="M196 251.5L199.5 255.4L183.9 331.5L180.4 337.7Z"/><path d="M196 251.5L199.5 255.4" stroke="#63cb82"/><path d="M180.4 337.7L185.6 308.9" stroke="#17a1e0"/><path d="M185.6 308.9L190.8 280.2" stroke="#1ab8c3"/><path d="M190.8 280.2L196 251.5" stroke="#48c798"/><path d="M180.4 337.7L183.9 331.5" stroke="#1f97e9"/><path d="M199.5 255.4L203 263L187.4 322.8L183.9 331.5Z"/><path d="M199.5 255.4L203 263" stroke="#56c98d"/><path d="M183.9 331.5L191.7 293.5" stroke="#0eacd7"/><path d="M191.7 293.5L199.5 255.4" stroke="#36c4a6"/><path d="M183.9 331.5L187.4 322.8" stroke="#18a0e1"/><path d="M203 263L206.4 273.2L190.9 312.9L187.4 322.8Z"/><path d="M203 263L206.4 273.2" stroke="#40c69e"/><path d="M187.4 322.8L195.2 292.9" stroke="#11b1d0"/><path d="M195.2 292.9L203 263" stroke="#2ec3ac"/><path d="M187.4 322.8L190.9 312.9" stroke="#0fabd8"/><path d="M206.4 273.2L209.9 284.9L194.3 304.6L190.9 312.9Z"/><path d="M206.4 273.2L209.9 284.9" stroke="#26c2b3"/><path d="M190.9 312.9L206.4 273.2" stroke="#1ebbbe"/><path d="M190.9 312.9L194.3 304.6" stroke="#14b3cc"/><path d="M209.9 284.9L213.4 296.9L197.8 300.7L194.3 304.6Z"/><path d="M209.9 284.9L213.4 296.9" stroke="#1bb9c3"/><path d="M194.3 304.6L209.9 284.9" stroke="#1dbac0"/><path d="M194.3 304.6L197.8 300.7" stroke="#1bb9c2"/><path d="M213.4 296.9L216.9 308.1L201.3 302.4L197.8 300.7Z"/><path d="M213.4 296.9L216.9 308.1" stroke="#0fb0d2"/><path d="M197.8 300.7L213.4 296.9" stroke="#19b7c5"/><path d="M197.8 300.7L201.3 302.4" stroke="#1dbac0"/><path d="M216.9 308.1L220.3 318L204.8 306.7L201.3 302.4Z"/><path d="M216.9 308.1L220.3 318" stroke="#13a5dd"/><path d="M201.3 302.4L216.9 308.1" stroke="#13b2cd"/><path d="M201.3 302.4L204.8 306.7" stroke="#1ab8c3"/><path d="M220.3 318L223.8 326.1L208.2 313L204.8 306.7Z"/><path d="M220.3 318L223.8 326.1" stroke="#1b9ce5"/><path d="M204.8 306.7L220.3 318" stroke="#0dadd6"/><path d="M204.8 306.7L208.2 313" stroke="#15b4ca"/><path d="M223.8 326.1L227.3 332.4L211.7 320.7L208.2 313Z"/><path d="M223.8 326.1L227.3 332.4" stroke="#2194eb"/><path d="M208.2 313L223.8 326.1" stroke="#13a6dc"/><path d="M208.2 313L211.7 320.7" stroke="#0fafd3"/><path d="M227.3 332.4L230.8 337.2L215.2 329.3L211.7 320.7Z"/><path d="M227.3 332.4L230.8 337.2" stroke="#278eee"/><path d="M211.7 320.7L227.3 332.4" stroke="#199ee2"/><path d="M211.7 320.7L215.2 329.3" stroke="#12a7db"/><path d="M230.8 337.2L234.3 340.8L218.7 337.8L215.2 329.3Z"/><path d="M230.8 337.2L234.3 340.8" stroke="#2d8af0"/><path d="M215.2 329.3L230.8 337.2" stroke="#1e98e8"/><path d="M215.2 329.3L218.7 337.8" stroke="#199ee2"/><path d="M234.3 340.8L237.7 343.5L222.2 346L218.7 337.8Z"/><path d="M234.3 340.8L237.7 343.5" stroke="#3186f1"/><path d="M218.7 337.8L234.3 340.8" stroke="#2492ed"/><path d="M218.7 337.8L222.2 346" stroke="#2096ea"/><path d="M237.7 343.5L241.2 345.9L225.6 353.3L222.2 346Z"/><path d="M237.7 343.5L241.2 345.9" stroke="#3584f2"/><path d="M222.2 346L237.7 343.5" stroke="#2b8bf0"/><path d="M222.2 346L225.6 353.3" stroke="#298def"/><path d="M241.2 345.9L244.7 348L229.1 359.6L225.6 353.3Z"/><path d="M241.2 345.9L244.7 348" stroke="#3781f3"/><path d="M225.6 353.3L241.2 345.9" stroke="#3286f2"/><path d="M225.6 353.3L229.1 359.6" stroke="#3385f2"/><path d="M244.7 348L248.2 350.1L232.6 364.8L229.1 359.6Z"/><path d="M244.7 348L248.2 350.1" stroke="#3a7ff4"/><path d="M229.1 359.6L244.7 348" stroke="#3881f4"/><path d="M229.1 359.6L232.6 364.8" stroke="#3c7ef5"/><path d="M248.2 350.1L251.6 352.2L236.1 369.3L232.6 364.8Z"/><path d="M248.2 350.1L251.6 352.2" stroke="#3c7df5"/><path d="M232.6 364.8L248.2 350.1" stroke="#3d7df5"/><path d="M232.6 364.8L236.1 369.3" stroke="#4378f7"/><path d="M251.6 352.2L255.1 354.5L239.5 373L236.1 369.3Z"/><path d="M251.6 352.2L255.1 354.5" stroke="#3f7bf6"/><path d="M236.1 369.3L251.6 352.2" stroke="#4279f6"/><path d="M236.1 369.3L239.5 373" stroke="#4874f9"/><path d="M255.1 354.5L258.6 357.1L243 376.1L239.5 373Z"/><path d="M255.1 354.5L258.6 357.1" stroke="#4279f7"/><path d="M239.5 373L255.1 354.5" stroke="#4676f8"/><path d="M239.5 373L243 376.1" stroke="#4d70fa"/><path d="M258.6 357.1L262.1 359.9L246.5 378.9L243 376.1Z"/><path d="M258.6 357.1L262.1 359.9" stroke="#4576f8"/><path d="M243 376.1L258.6 357.1" stroke="#4973f9"/><path d="M243 376.1L246.5 378.9" stroke="#4f6ef9"/><path d="M262.1 359.9L265.6 363L250 381.5L246.5 378.9Z"/><path d="M262.1 359.9L265.6 363" stroke="#4973f9"/><path d="M246.5 378.9L262.1 359.9" stroke="#4d70fa"/><path d="M246.5 378.9L250 381.5" stroke="#506cf8"/><path d="M265.6 363L269 366.3L253.5 383.9L250 381.5Z"/><path d="M265.6 363L269 366.3" stroke="#4d70fa"/><path d="M250 381.5L265.6 363" stroke="#4f6ef9"/><path d="M250 381.5L253.5 383.9" stroke="#526bf7"/><path d="M269 366.3L272.5 369.8L256.9 386.2L253.5 383.9Z"/><path d="M269 366.3L272.5 369.8" stroke="#4f6df8"/><path d="M253.5 383.9L269 366.3" stroke="#506cf7"/><path d="M253.5 383.9L256.9 386.2" stroke="#5369f6"/><path d="M272.5 369.8L276 373.4L260.4 388.4L256.9 386.2Z"/><path d="M272.5 369.8L276 373.4" stroke="#526bf7"/><path d="M256.9 386.2L272.5 369.8" stroke="#526af6"/><path d="M256.9 386.2L260.4 388.4" stroke="#5568f5"/><path d="M276 373.4L279.5 377.1L263.9 390.7L260.4 388.4Z"/><path d="M276 373.4L279.5 377.1" stroke="#5468f5"/><path d="M260.4 388.4L276 373.4" stroke="#5469f5"/><path d="M260.4 388.4L263.9 390.7" stroke="#5667f4"/><path d="M279.5 377.1L282.9 380.9L267.4 392.9L263.9 390.7Z"/><path d="M279.5 377.1L282.9 380.9" stroke="#5766f3"/><path d="M263.9 390.7L279.5 377.1" stroke="#5667f4"/><path d="M263.9 390.7L267.4 392.9" stroke="#5765f3"/><path d="M282.9 380.9L286.4 384.6L270.8 395L267.4 392.9Z"/><path d="M282.9 380.9L286.4 384.6" stroke="#5963f2"/><path d="M267.4 392.9L282.9 380.9" stroke="#5865f3"/><path d="M267.4 392.9L270.8 395" stroke="#5964f2"/><path d="M286.4 384.6L289.9 388.2L274.3 397.2L270.8 395Z"/><path d="M286.4 384.6L289.9 388.2" stroke="#5c61f0"/><path d="M270.8 395L286.4 384.6M270.8 395L274.3 397.2" stroke="#5a63f1"/><path d="M289.9 388.2L293.4 391.8L277.8 399.3L274.3 397.2Z"/><path d="M289.9 388.2L293.4 391.8" stroke="#5e5eef"/><path d="M274.3 397.2L289.9 388.2" stroke="#5c61f0"/><path d="M274.3 397.2L277.8 399.3" stroke="#5b61f1"/><path d="M293.4 391.8L296.9 395.2L281.3 401.4L277.8 399.3Z"/><path d="M293.4 391.8L296.9 395.2" stroke="#615ced"/><path d="M277.8 399.3L293.4 391.8" stroke="#5e5fef"/><path d="M277.8 399.3L281.3 401.4" stroke="#5d60f0"/><path d="M296.9 395.2L300.3 398.5L284.8 403.5L281.3 401.4Z"/><path d="M296.9 395.2L300.3 398.5" stroke="#625ceb"/><path d="M281.3 401.4L296.9 395.2" stroke="#605dee"/><path d="M281.3 401.4L284.8 403.5" stroke="#5e5fef"/><path d="M300.3 398.5L303.8 401.7L288.2 405.5L284.8 403.5Z"/><path d="M300.3 398.5L303.8 401.7" stroke="#635ce9"/><path d="M284.8 403.5L300.3 398.5" stroke="#615ced"/><path d="M284.8 403.5L288.2 405.5" stroke="#5f5eee"/><path d="M303.8 401.7L307.3 404.6L291.7 407.5L288.2 405.5Z"/><path d="M303.8 401.7L307.3 404.6" stroke="#645de8"/><path d="M288.2 405.5L303.8 401.7" stroke="#625ceb"/><path d="M288.2 405.5L291.7 407.5" stroke="#605dee"/><path d="M307.3 404.6L310.8 407.3L295.2 409.5L291.7 407.5Z"/><path d="M307.3 404.6L310.8 407.3" stroke="#655de6"/><path d="M291.7 407.5L307.3 404.6" stroke="#635cea"/><path d="M291.7 407.5L295.2 409.5" stroke="#615ced"/><path d="M310.8 407.3L314.2 409.9L298.7 411.4L295.2 409.5Z"/><path d="M310.8 407.3L314.2 409.9" stroke="#665de5"/><path d="M295.2 409.5L310.8 407.3" stroke="#635ce9"/><path d="M295.2 409.5L298.7 411.4" stroke="#625cec"/><path d="M314.2 409.9L317.7 412.2L302.1 413.3L298.7 411.4Z"/><path d="M314.2 409.9L317.7 412.2" stroke="#675de3"/><path d="M298.7 411.4L314.2 409.9" stroke="#645de8"/><path d="M298.7 411.4L302.1 413.3" stroke="#625ceb"/><path d="M317.7 412.2L321.2 414.3L305.6 415.1L302.1 413.3Z"/><path d="M317.7 412.2L321.2 414.3" stroke="#675de2"/><path d="M302.1 413.3L317.7 412.2" stroke="#655de7"/><path d="M302.1 413.3L305.6 415.1" stroke="#635cea"/><path d="M321.2 414.3L324.7 416.3L309.1 416.9L305.6 415.1Z"/><path d="M321.2 414.3L324.7 416.3" stroke="#685ee1"/><path d="M305.6 415.1L321.2 414.3" stroke="#655de6"/><path d="M305.6 415.1L309.1 416.9" stroke="#635ce9"/><path d="M324.7 416.3L328.2 418.1L312.6 418.6L309.1 416.9Z"/><path d="M324.7 416.3L328.2 418.1" stroke="#685ee0"/><path d="M309.1 416.9L324.7 416.3" stroke="#665de5"/><path d="M309.1 416.9L312.6 418.6" stroke="#645ce8"/><path d="M328.2 418.1L331.6 419.7L316.1 420.3L312.6 418.6Z"/><path d="M328.2 418.1L331.6 419.7" stroke="#695edf"/><path d="M312.6 418.6L328.2 418.1" stroke="#665de4"/><path d="M312.6 418.6L316.1 420.3" stroke="#645de7"/><path d="M331.6 419.7L335.1 421.2L319.5 421.9L316.1 420.3Z"/><path d="M331.6 419.7L335.1 421.2" stroke="#695edf"/><path d="M316.1 420.3L331.6 419.7" stroke="#675de3"/><path d="M316.1 420.3L319.5 421.9" stroke="#655de7"/><path d="M335.1 421.2L338.6 422.5L323 423.5L319.5 421.9Z"/><path d="M335.1 421.2L338.6 422.5" stroke="#6a5ede"/><path d="M319.5 421.9L335.1 421.2" stroke="#675de2"/><path d="M319.5 421.9L323 423.5" stroke="#655de6"/><path d="M338.6 422.5L342.1 423.7L326.5 425.1L323 423.5Z"/><path d="M338.6 422.5L342.1 423.7" stroke="#6a5ede"/><path d="M323 423.5L338.6 422.5" stroke="#675de2"/><path d="M323 423.5L326.5 425.1" stroke="#655de5"/><path d="M342.1 423.7L345.5 424.9L330 426.6L326.5 425.1Z"/><path d="M342.1 423.7L345.5 424.9" stroke="#6a5edd"/><path d="M326.5 425.1L342.1 423.7" stroke="#685ee1"/><path d="M326.5 425.1L330 426.6" stroke="#665de5"/><path d="M345.5 424.9L349 425.9L333.4 428L330 426.6Z"/><path d="M345.5 424.9L349 425.9" stroke="#6a5edd"/><path d="M330 426.6L345.5 424.9" stroke="#685ee1"/><path d="M330 426.6L333.4 428" stroke="#665de4"/><path d="M349 425.9L352.5 426.8L336.9 429.4L333.4 428Z"/><path d="M349 425.9L352.5 426.8" stroke="#6a5edc"/><path d="M333.4 428L349 425.9" stroke="#685ee0"/><path d="M333.4 428L336.9 429.4" stroke="#675de3"/><path d="M352.5 426.8L356 427.7L340.4 430.7L336.9 429.4Z"/><path d="M352.5 426.8L356 427.7" stroke="#6b5edc"/><path d="M336.9 429.4L352.5 426.8" stroke="#695ee0"/><path d="M336.9 429.4L340.4 430.7" stroke="#675de3"/><path d="M356 427.7L359.5 428.4L343.9 431.9L340.4 430.7Z"/><path d="M356 427.7L359.5 428.4" stroke="#6b5edc"/><path d="M340.4 430.7L356 427.7" stroke="#695edf"/><path d="M340.4 430.7L343.9 431.9" stroke="#675de2"/><path d="M359.5 428.4L362.9 429.1L347.4 433L343.9 431.9Z"/><path d="M359.5 428.4L362.9 429.1" stroke="#6b5edc"/><path d="M343.9 431.9L359.5 428.4" stroke="#695edf"/><path d="M343.9 431.9L347.4 433" stroke="#675de2"/><path d="M362.9 429.1L366.4 429.7L350.8 434L347.4 433Z"/><path d="M362.9 429.1L366.4 429.7" stroke="#6b5edc"/><path d="M347.4 433L362.9 429.1" stroke="#695edf"/><path d="M347.4 433L350.8 434" stroke="#685de2"/><path d="M366.4 429.7L369.9 430.2L354.3 434.7L350.8 434Z"/><path d="M366.4 429.7L369.9 430.2" stroke="#6b5edc"/><path d="M350.8 434L366.4 429.7" stroke="#695edf"/><path d="M350.8 434L354.3 434.7" stroke="#685de1"/><path d="M369.9 430.2L373.4 430.6L357.8 435L354.3 434.7Z"/><path d="M369.9 430.2L373.4 430.6" stroke="#6b5edc"/><path d="M354.3 434.7L369.9 430.2" stroke="#695edf"/><path d="M354.3 434.7L357.8 435" stroke="#685de1"/><path d="M373.4 430.6L376.8 430.9L361.3 435.1L357.8 435Z"/><path d="M373.4 430.6L376.8 430.9" stroke="#6b5edc"/><path d="M357.8 435L373.4 430.6" stroke="#695edf"/><path d="M357.8 435L361.3 435.1" stroke="#675de2"/><path d="M376.8 430.9L380.3 430.9L364.7 434.6L361.3 435.1Z"/><path d="M376.8 430.9L380.3 430.9" stroke="#6a5edc"/><path d="M361.3 435.1L376.8 430.9" stroke="#695edf"/><path d="M361.3 435.1L364.7 434.6" stroke="#675de2"/><path d="M380.3 430.9L383.8 430.7L368.2 433.7L364.7 434.6Z"/><path d="M380.3 430.9L383.8 430.7" stroke="#6a5edd"/><path d="M364.7 434.6L380.3 430.9" stroke="#695ee0"/><path d="M364.7 434.6L368.2 433.7" stroke="#675de3"/><path d="M383.8 430.7L387.3 430.1L371.7 432.2L368.2 433.7Z"/><path d="M383.8 430.7L387.3 430.1" stroke="#6a5ede"/><path d="M368.2 433.7L383.8 430.7" stroke="#685ee0"/><path d="M368.2 433.7L371.7 432.2" stroke="#665de4"/><path d="M387.3 430.1L390.8 429.3L375.2 430.5L371.7 432.2Z"/><path d="M387.3 430.1L390.8 429.3" stroke="#695edf"/><path d="M371.7 432.2L387.3 430.1" stroke="#685de2"/><path d="M371.7 432.2L375.2 430.5" stroke="#655de6"/><path d="M390.8 429.3L394.2 428.1L378.7 428.5L375.2 430.5Z"/><path d="M390.8 429.3L394.2 428.1" stroke="#695ee0"/><path d="M375.2 430.5L390.8 429.3" stroke="#675de3"/><path d="M375.2 430.5L378.7 428.5" stroke="#645de8"/><path d="M394.2 428.1L397.7 426.5L382.1 426.6L378.7 428.5Z"/><path d="M394.2 428.1L397.7 426.5" stroke="#685ee1"/><path d="M378.7 428.5L394.2 428.1" stroke="#665de4"/><path d="M378.7 428.5L382.1 426.6" stroke="#635ce9"/><path d="M397.7 426.5L401.2 424.6L385.6 425.1L382.1 426.6Z"/><path d="M397.7 426.5L401.2 424.6" stroke="#675de3"/><path d="M382.1 426.6L397.7 426.5" stroke="#655de6"/><path d="M382.1 426.6L385.6 425.1" stroke="#625ceb"/><path d="M401.2 424.6L404.7 422.4L389.1 424.2L385.6 425.1Z"/><path d="M401.2 424.6L404.7 422.4" stroke="#665de5"/><path d="M385.6 425.1L401.2 424.6" stroke="#645de8"/><path d="M385.6 425.1L389.1 424.2" stroke="#615cec"/><path d="M404.7 422.4L408.1 420.1L392.6 424.2L389.1 424.2Z"/><path d="M404.7 422.4L408.1 420.1" stroke="#655de7"/><path d="M389.1 424.2L404.7 422.4" stroke="#635ce9"/><path d="M389.1 424.2L392.6 424.2" stroke="#615ced"/><path d="M408.1 420.1L411.6 417.8L396 425.3L392.6 424.2Z"/><path d="M408.1 420.1L411.6 417.8" stroke="#635ce9"/><path d="M392.6 424.2L408.1 420.1" stroke="#625cea"/><path d="M392.6 424.2L396 425.3" stroke="#615ced"/><path d="M411.6 417.8L415.1 415.8L399.5 427.3L396 425.3Z"/><path d="M411.6 417.8L415.1 415.8M396 425.3L411.6 417.8" stroke="#625ceb"/><path d="M396 425.3L399.5 427.3" stroke="#615cec"/><path d="M415.1 415.8L418.6 414.1L403 430.1L399.5 427.3Z"/><path d="M415.1 415.8L418.6 414.1" stroke="#615cec"/><path d="M399.5 427.3L415.1 415.8" stroke="#625cec"/><path d="M399.5 427.3L403 430.1" stroke="#625ceb"/><path d="M418.6 414.1L422.1 413L406.5 433.4L403 430.1Z"/><path d="M418.6 414.1L422.1 413" stroke="#605cee"/><path d="M403 430.1L418.6 414.1" stroke="#625cec"/><path d="M403 430.1L406.5 433.4" stroke="#635ce9"/><path d="M422.1 413L425.5 412.7L410 437.1L406.5 433.4Z"/><path d="M422.1 413L425.5 412.7" stroke="#5f5dee"/><path d="M406.5 433.4L422.1 413" stroke="#625ceb"/><path d="M406.5 433.4L410 437.1" stroke="#645de7"/><path d="M425.5 412.7L429 413.1L413.4 440.7L410 437.1Z"/><path d="M425.5 412.7L429 413.1" stroke="#5f5eee"/><path d="M410 437.1L425.5 412.7" stroke="#625ceb"/><path d="M410 437.1L413.4 440.7" stroke="#665de5"/><path d="M429 413.1L432.5 414.3L416.9 444.1L413.4 440.7Z"/><path d="M429 413.1L432.5 414.3" stroke="#5f5eee"/><path d="M413.4 440.7L429 413.1" stroke="#635ce9"/><path d="M413.4 440.7L416.9 444.1" stroke="#675de3"/><path d="M432.5 414.3L436 416.3L420.4 447.1L416.9 444.1Z"/><path d="M432.5 414.3L436 416.3" stroke="#605dee"/><path d="M416.9 444.1L432.5 414.3" stroke="#645ce8"/><path d="M416.9 444.1L420.4 447.1" stroke="#685ee1"/><path d="M436 416.3L439.4 418.9L423.9 449.6L420.4 447.1Z"/><path d="M436 416.3L439.4 418.9" stroke="#615ced"/><path d="M420.4 447.1L436 416.3" stroke="#645de7"/><path d="M420.4 447.1L423.9 449.6" stroke="#695ee0"/><path d="M439.4 418.9L442.9 422L427.3 451.7L423.9 449.6Z"/><path d="M439.4 418.9L442.9 422" stroke="#625ceb"/><path d="M423.9 449.6L439.4 418.9" stroke="#655de5"/><path d="M423.9 449.6L427.3 451.7" stroke="#695ede"/><path d="M442.9 422L446.4 425.4L430.8 453.3L427.3 451.7Z"/><path d="M442.9 422L446.4 425.4" stroke="#635ce9"/><path d="M427.3 451.7L442.9 422" stroke="#665de4"/><path d="M427.3 451.7L430.8 453.3" stroke="#6a5edd"/><path d="M446.4 425.4L449.9 428.9L434.3 454.6L430.8 453.3Z"/><path d="M446.4 425.4L449.9 428.9" stroke="#645de7"/><path d="M430.8 453.3L446.4 425.4" stroke="#675de3"/><path d="M430.8 453.3L434.3 454.6" stroke="#6a5edd"/><path d="M449.9 428.9L453.4 432.2L437.8 455.7L434.3 454.6Z"/><path d="M449.9 428.9L453.4 432.2" stroke="#655de5"/><path d="M434.3 454.6L449.9 428.9" stroke="#685de1"/><path d="M434.3 454.6L437.8 455.7" stroke="#6b5edc"/><path d="M453.4 432.2L456.8 435.4L441.3 456.6L437.8 455.7Z"/><path d="M453.4 432.2L456.8 435.4" stroke="#665de3"/><path d="M437.8 455.7L453.4 432.2" stroke="#685ee0"/><path d="M437.8 455.7L441.3 456.6" stroke="#6b5edc"/><path d="M456.8 435.4L460.3 438.3L444.7 457.4L441.3 456.6Z"/><path d="M456.8 435.4L460.3 438.3" stroke="#675de2"/><path d="M441.3 456.6L456.8 435.4" stroke="#695edf"/><path d="M441.3 456.6L444.7 457.4" stroke="#6b5edc"/><path d="M460.3 438.3L463.8 440.8L448.2 458.1L444.7 457.4Z"/><path d="M460.3 438.3L463.8 440.8" stroke="#685ee0"/><path d="M444.7 457.4L460.3 438.3" stroke="#695ede"/><path d="M444.7 457.4L448.2 458.1" stroke="#6b5edc"/><path d="M463.8 440.8L467.3 442.9L451.7 458.8L448.2 458.1Z"/><path d="M463.8 440.8L467.3 442.9" stroke="#695edf"/><path d="M448.2 458.1L463.8 440.8" stroke="#6a5ede"/><path d="M448.2 458.1L451.7 458.8" stroke="#6b5edc"/><path d="M467.3 442.9L470.7 444.8L455.2 459.4L451.7 458.8Z"/><path d="M467.3 442.9L470.7 444.8" stroke="#6a5ede"/><path d="M451.7 458.8L467.3 442.9" stroke="#6a5edd"/><path d="M451.7 458.8L455.2 459.4" stroke="#6b5edc"/><path d="M470.7 444.8L474.2 446.3L458.6 460L455.2 459.4Z"/><path d="M470.7 444.8L474.2 446.3" stroke="#6a5edd"/><path d="M455.2 459.4L470.7 444.8" stroke="#6a5edc"/><path d="M455.2 459.4L458.6 460" stroke="#6b5edc"/><path d="M474.2 446.3L477.7 447.5L462.1 460.6L458.6 460Z"/><path d="M474.2 446.3L477.7 447.5" stroke="#6a5edd"/><path d="M458.6 460L474.2 446.3M458.6 460L462.1 460.6" stroke="#6b5edc"/><path d="M477.7 447.5L481.2 448.6L465.6 461.2L462.1 460.6Z"/><path d="M477.7 447.5L481.2 448.6M462.1 460.6L477.7 447.5" stroke="#6b5edc"/><path d="M462.1 460.6L465.6 461.2" stroke="#6b5edb"/><path d="M481.2 448.6L484.7 449.5L469.1 461.9L465.6 461.2Z"/><path d="M481.2 448.6L484.7 449.5M465.6 461.2L481.2 448.6M469.1 461.9L484.7 449.5" stroke="#6b5edc"/><path d="M465.6 461.2L469.1 461.9" stroke="#6b5edb"/></g>
<path d="M48 407.3L453.5 474.1M453.5 474.1L640.5 329.6M48 407.3L48 146.7M48 407.3L39.5 413.9M129.1 420.7L120.6 427.2M210.2 434L201.7 440.6M291.3 447.4L282.8 453.9M372.4 460.7L363.9 467.3M453.5 474.1L445 480.7M453.5 474.1L463.9 475.8M484.7 450L495 451.7M515.8 425.9L526.2 427.7M547 401.9L557.4 403.6M578.1 377.8L588.5 379.5M609.3 353.7L619.7 355.4M640.5 329.6L650.8 331.3M48 407.3L37.2 405.5M48 320.4L37.2 318.7M48 233.6L37.2 231.8M48 146.7L37.2 144.9" stroke="#262626" stroke-width="0.65" fill="none"/>
<g font-family="Liberation Sans, sans-serif" font-size="12.0" fill="#262626" style="will-change:transform"><text x="32.7" y="409.6" text-anchor="end">0</text><text x="32.7" y="322.7" text-anchor="end">5</text><text x="32.7" y="235.9" text-anchor="end">10</text><text x="32.7" y="149" text-anchor="end">15</text><text x="27" y="429" text-anchor="middle">0.1</text><text x="108.1" y="442.4" text-anchor="middle">0.2</text><text x="189.2" y="455.7" text-anchor="middle">0.3</text><text x="270.3" y="469.1" text-anchor="middle">0.4</text><text x="351.4" y="482.4" text-anchor="middle">0.5</text><text x="432.5" y="495.8" text-anchor="middle">0.6</text><text x="467.7" y="488.9">2010</text><text x="499.1" y="464.8">2012</text><text x="530.5" y="440.7">2014</text><text x="561.9" y="416.7">2016</text><text x="593.3" y="392.6">2018</text><text x="624.8" y="368.5">2020</text><text x="656.2" y="344.4">2022</text></g>
<g font-family="Liberation Sans, sans-serif" font-size="13.2" fill="#262626" text-anchor="middle" style="will-change:transform"><text x="250" y="512.9">D-value of coupling coordination</text><text x="565.9" y="477.3">Year</text><text x="11.7" y="277.5" transform="rotate(-90 11.7 277.5)">Kernel density estimates</text></g>
</svg></body></html>
